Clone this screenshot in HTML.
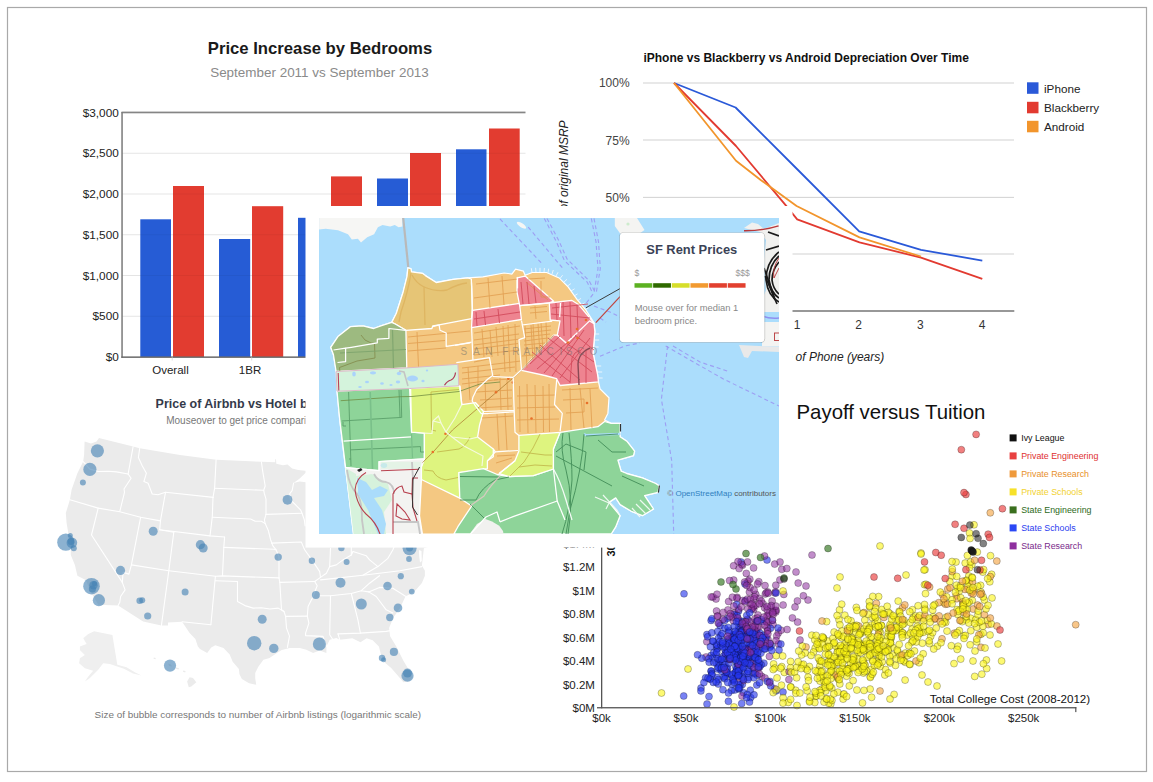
<!DOCTYPE html>
<html><head><meta charset="utf-8"><title>Charts</title>
<style>html,body{margin:0;padding:0;background:#fff;}body{width:1153px;height:782px;overflow:hidden;font-family:"Liberation Sans",sans-serif;}svg{display:block;}</style></head>
<body>
<svg width="1153" height="782" viewBox="0 0 1153 782">
<rect width="1153" height="782" fill="#fff"/>
<rect x="7.5" y="7.5" width="1139" height="764" fill="#fff" stroke="#a9a9a9" stroke-width="1.2"/>
<g id="bar"><text x="320" y="54.4" text-anchor="middle" font-family="Liberation Sans, sans-serif" font-size="16.7" font-weight="bold" fill="#1a1a1a">Price Increase by Bedrooms</text>
<text x="319.5" y="77" text-anchor="middle" font-family="Liberation Sans, sans-serif" font-size="13.45" fill="#8a8a8a">September 2011 vs September 2013</text>
<rect x="122" y="152.75" width="403.5" height="1" fill="#efefef"/>
<rect x="122" y="193.50" width="403.5" height="1" fill="#efefef"/>
<rect x="122" y="234.25" width="403.5" height="1" fill="#efefef"/>
<rect x="122" y="275.00" width="403.5" height="1" fill="#efefef"/>
<rect x="122" y="315.75" width="403.5" height="1" fill="#efefef"/>
<rect x="140.3" y="219.3" width="30.7" height="137.7" fill="#265cd5"/>
<rect x="173.0" y="186.0" width="31.0" height="171.0" fill="#e23c30"/>
<rect x="219.0" y="239.0" width="31.2" height="118.0" fill="#265cd5"/>
<rect x="252.0" y="206.2" width="31.2" height="150.8" fill="#e23c30"/>
<rect x="298.0" y="217.8" width="31.0" height="139.2" fill="#265cd5"/>
<rect x="331.0" y="176.4" width="31.0" height="180.6" fill="#e23c30"/>
<rect x="377.0" y="178.5" width="31.0" height="178.5" fill="#265cd5"/>
<rect x="410.0" y="153.0" width="31.0" height="204.0" fill="#e23c30"/>
<rect x="456.0" y="149.3" width="30.5" height="207.7" fill="#265cd5"/>
<rect x="489.0" y="128.5" width="30.7" height="228.5" fill="#e23c30"/>
<rect x="122" y="152.75" width="403.5" height="1" fill="#000" opacity="0.045"/>
<rect x="122" y="193.50" width="403.5" height="1" fill="#000" opacity="0.045"/>
<rect x="122" y="234.25" width="403.5" height="1" fill="#000" opacity="0.045"/>
<rect x="122" y="275.00" width="403.5" height="1" fill="#000" opacity="0.045"/>
<rect x="122" y="315.75" width="403.5" height="1" fill="#000" opacity="0.045"/>
<rect x="121.5" y="111.6" width="404" height="1.7" fill="#858585"/>
<rect x="121.3" y="112" width="1.5" height="245.8" fill="#7a7a7a"/>
<rect x="121.3" y="356.4" width="404" height="1.5" fill="#6a6a6a"/>
<text x="118.8" y="116.7" text-anchor="end" font-family="Liberation Sans, sans-serif" font-size="11.8" fill="#222">$3,000</text>
<text x="118.8" y="157.4" text-anchor="end" font-family="Liberation Sans, sans-serif" font-size="11.8" fill="#222">$2,500</text>
<text x="118.8" y="198.2" text-anchor="end" font-family="Liberation Sans, sans-serif" font-size="11.8" fill="#222">$2,000</text>
<text x="118.8" y="238.9" text-anchor="end" font-family="Liberation Sans, sans-serif" font-size="11.8" fill="#222">$1,500</text>
<text x="118.8" y="279.7" text-anchor="end" font-family="Liberation Sans, sans-serif" font-size="11.8" fill="#222">$1,000</text>
<text x="118.8" y="320.4" text-anchor="end" font-family="Liberation Sans, sans-serif" font-size="11.8" fill="#222">$500</text>
<text x="118.8" y="361.2" text-anchor="end" font-family="Liberation Sans, sans-serif" font-size="11.8" fill="#222">$0</text>
<text x="170.5" y="374" text-anchor="middle" font-family="Liberation Sans, sans-serif" font-size="11.5" fill="#222">Overall</text>
<rect x="171.7" y="357.5" width="1" height="3" fill="#ddd"/>
<text x="250" y="374" text-anchor="middle" font-family="Liberation Sans, sans-serif" font-size="11.5" fill="#222">1BR</text>
<rect x="251.2" y="357.5" width="1" height="3" fill="#ddd"/>
<text x="330" y="374" text-anchor="middle" font-family="Liberation Sans, sans-serif" font-size="11.5" fill="#222">2BR</text>
<rect x="331.2" y="357.5" width="1" height="3" fill="#ddd"/>
<text x="409" y="374" text-anchor="middle" font-family="Liberation Sans, sans-serif" font-size="11.5" fill="#222">3BR</text>
<rect x="410.2" y="357.5" width="1" height="3" fill="#ddd"/>
<text x="488" y="374" text-anchor="middle" font-family="Liberation Sans, sans-serif" font-size="11.5" fill="#222">4BR</text>
<rect x="489.2" y="357.5" width="1" height="3" fill="#ddd"/></g>
<g id="line"><text x="643.4" y="62" font-family="Liberation Sans, sans-serif" font-size="12" font-weight="bold" fill="#111">iPhone vs Blackberry vs Android Depreciation Over Time</text>
<rect x="643" y="82.45" width="371" height="1.1" fill="#d6d6d6"/>
<rect x="643" y="139.45" width="371" height="1.1" fill="#d6d6d6"/>
<rect x="643" y="196.85" width="371" height="1.1" fill="#d6d6d6"/>
<rect x="643" y="253.45" width="371" height="1.1" fill="#d6d6d6"/>
<rect x="643" y="310.4" width="371.3" height="1.2" fill="#555"/>
<text x="629.6" y="87.3" text-anchor="end" font-family="Liberation Sans, sans-serif" font-size="12" fill="#444">100%</text>
<text x="629.6" y="144.7" text-anchor="end" font-family="Liberation Sans, sans-serif" font-size="12" fill="#444">75%</text>
<text x="629.6" y="201.7" text-anchor="end" font-family="Liberation Sans, sans-serif" font-size="12" fill="#444">50%</text>
<text x="629.6" y="258.7" text-anchor="end" font-family="Liberation Sans, sans-serif" font-size="12" fill="#444">25%</text>
<text x="629.6" y="315.3" text-anchor="end" font-family="Liberation Sans, sans-serif" font-size="12" fill="#444">0%</text>
<polyline points="674,83 735.6,107.5 797,169 859.2,231.3 921,249.8 982.3,260.6" fill="none" stroke="#2a59d8" stroke-width="1.8" stroke-linejoin="round"/>
<polyline points="674,83 736,146 785.6,205.2 797.2,219.4 859.5,242.4 921,257.6 982.3,278.8" fill="none" stroke="#e23a30" stroke-width="1.8" stroke-linejoin="round"/>
<polyline points="674,83 736,160.8 760.7,180 796.6,206 859.5,237.4 921,256.5" fill="none" stroke="#f2952c" stroke-width="1.8" stroke-linejoin="round"/>
<text x="735.5" y="328.8" text-anchor="middle" font-family="Liberation Sans, sans-serif" font-size="12" fill="#333">0</text>
<text x="797" y="328.8" text-anchor="middle" font-family="Liberation Sans, sans-serif" font-size="12" fill="#333">1</text>
<text x="858.6" y="328.8" text-anchor="middle" font-family="Liberation Sans, sans-serif" font-size="12" fill="#333">2</text>
<text x="920.4" y="328.8" text-anchor="middle" font-family="Liberation Sans, sans-serif" font-size="12" fill="#333">3</text>
<text x="982" y="328.8" text-anchor="middle" font-family="Liberation Sans, sans-serif" font-size="12" fill="#333">4</text>
<text x="884.3" y="361.3" text-anchor="end" font-family="Liberation Sans, sans-serif" font-size="12" font-style="italic" fill="#222">Age of Phone (years)</text>
<text transform="translate(568.3,120.4) rotate(-90)" text-anchor="end" font-family="Liberation Sans, sans-serif" font-size="12" font-style="italic" fill="#222">Percentage of original MSRP</text>
<rect x="1027" y="82.3" width="11.5" height="11.5" fill="#2a59d8"/>
<text x="1044" y="92.6" font-family="Liberation Sans, sans-serif" font-size="11.7" fill="#222">iPhone</text>
<rect x="1027" y="101.8" width="11.5" height="11.5" fill="#e23a30"/>
<text x="1044" y="112.1" font-family="Liberation Sans, sans-serif" font-size="11.7" fill="#222">Blackberry</text>
<rect x="1027" y="120.8" width="11.5" height="11.5" fill="#f2952c"/>
<text x="1044" y="131.1" font-family="Liberation Sans, sans-serif" font-size="11.7" fill="#222">Android</text></g>
<g id="us"><text x="155.6" y="408.2" font-family="Liberation Sans, sans-serif" font-size="12.48" font-weight="bold" fill="#343a4a">Price of Airbnb vs Hotel by City</text>
<text x="166.2" y="423.8" font-family="Liberation Sans, sans-serif" font-size="10" fill="#777">Mouseover to get price comparison</text>
<polygon points="84.6,441.6 91,443.6 96.5,441.5 99,438 99.9,438.3 133.1,446.6 139.7,448.3 180,455 216.2,459.8 261.4,461.8 275.2,462.2 275.2,459.2 276,459.2 276.3,463.8 282.9,465.3 287.5,464.6 292.1,468.4 298.2,469.9 305.1,470.7 330,470 450,470 450,540 423.9,548.2 421.9,565.6 424.9,570.7 424.9,575.8 421.9,583 416.7,589.1 412.7,593.2 405.5,596.3 400.4,607.5 393.2,617.8 389.1,628 390.1,636.2 396.3,646.4 403.4,660.8 409.6,671 412.7,677.1 409.6,681.2 403.4,682.2 397.3,675.1 391.2,667.9 385,662.8 380.9,654.6 378.9,646.4 372.7,640.3 366.6,638.2 360.5,642.3 352.3,638.2 346.3,638.9 339.7,639.7 336.3,638 329.7,639.7 326.4,646.4 326.4,653 319.7,650.5 313.1,653 306.4,649.7 299.8,648 289.8,648 281.8,649.9 277.7,652.5 269.5,658.1 263.4,659.7 258.3,666.8 255.2,672.9 255.2,678.1 256.2,684.7 249.1,683.2 241.9,679.1 239.4,674 238.9,668.9 232.7,661.7 229.7,654.5 223.5,647.9 215.3,645.3 211.2,647.4 207.2,653 200,648.9 197.9,646.4 195.4,638.9 189.6,633.1 182.1,621.8 168,622.6 168,625.6 161.4,625.6 143.1,621.4 118.1,605.6 98.2,604.8 91.5,593.2 85.7,579.9 77.4,575.7 74.9,564.9 70.8,555 70.8,543 68.3,533 66.6,523 65.8,513.1 69.9,499.8 71.6,489.8 77.4,473.2 83.2,461.6 84.1,454.9" fill="#ebebeb"/>
<polygon points="94.1,631.3 112.4,634.9 117.3,664.8 126.5,667.3 134.8,672.3 141.4,675.6 133,673.5 124,668.8 117.3,666.5 109.9,664 103.2,663.2 98.2,669.8 89.9,678.1 84.9,681.5 88.3,676.5 93.2,670.7 84.9,668.2 79.1,663.2 79.9,658.2 84.9,654.9 79.9,649.9 79.9,646.6 86.6,644.1 83.3,638.3 88.3,634.1" fill="#efefef"/>
<polygon points="189.6,677.3 193,678.1 196.3,682.3 191.3,686.5 188.8,687.3 187.1,681.5" fill="#ebebeb"/>
<polygon points="183.2,670.4 185.6,671 185.2,672.4 183,671.8" fill="#ebebeb"/>
<polygon points="153.8,657.6 155.8,658 155.4,659.2 153.6,658.8" fill="#ebebeb"/>
<polygon points="168,663.5 171,664.5 172,666.5 169,666" fill="#ebebeb"/>
<polygon points="176,667.5 179,668.2 178.5,669.4 176,668.8" fill="#ebebeb"/>
<polygon points="306,472.5 299.7,478.4 293.6,483 299.7,481.4 306,482.2" fill="#fff"/>
<polygon points="419,550 421.5,551 421.8,561 420,562.5 419.2,556" fill="#fff"/>
<g fill="none" stroke="#fff" stroke-width="1.1" stroke-linejoin="round" stroke-linecap="round">
<polyline points="133.1,446.6 128.1,474"/>
<polyline points="83.2,461.6 89.9,469.1 98.2,471.5 108.2,471.2 116.5,471.9 128.1,474"/>
<polyline points="128.1,474 131.1,478.2 124,489 124.5,492.3 119.8,511.4"/>
<polyline points="139.7,448.3 138.4,457.4 142.2,465.7 146.4,473.2 143.9,481.5 148.1,483.2 152.2,494 158,494.8 165.5,492.3"/>
<polyline points="165.5,492.3 160.5,520.6"/>
<polyline points="165.5,492.3 213.4,497.4"/>
<polyline points="216.1,459.6 214.6,488.3 213,497.5 212.3,516.7 210,535.9"/>
<polyline points="69.9,499.8 98.2,508.1 119.8,511.8 140.6,517.3 160.5,520.9"/>
<polyline points="98.2,508.1 91.5,535 122.3,582.4"/>
<polyline points="140.6,517.3 131.4,564.9"/>
<polyline points="160.5,520.6 159.7,529.7 173.8,532.2"/>
<polyline points="173.8,532.2 168.8,570.7"/>
<polyline points="159.7,529.7 210,535.9 224.6,537"/>
<polyline points="214.6,488.3 263.7,490.3"/>
<polyline points="212.3,517.2 250.6,519 255.2,521.3 261.4,521.3 265.2,523.6"/>
<polyline points="224.6,537 223.8,547.4 222.5,575.7"/>
<polyline points="223.8,547.4 273.7,549.3 276,549.7"/>
<polyline points="131.4,564.9 128.9,574.1 123.1,572.4 122.3,582.4"/>
<polyline points="122.3,582.4 125.1,589.9 120.6,596.5 119.8,602.3 118.1,605.6"/>
<polyline points="131.4,564.9 168.8,570.7"/>
<polyline points="168.8,570.7 161.4,625.6"/>
<polyline points="168.8,570.7 215.4,576.2 222.5,575.9 279,577.9"/>
<polyline points="215.4,576.2 210.9,624.8"/>
<polyline points="182.1,621.8 210.9,624.8"/>
<polyline points="215.4,580.7 237.5,581.5 237.5,601.5 244.9,605.6 253.2,608.1 261.5,607.8 269.9,609 278.2,608.1 284,611.5"/>
<polyline points="261.4,461.8 262.6,470.7 265.2,486 263.7,490.3 264.4,493.7 266,499.1 266,514.4"/>
<polyline points="266,514.4 264.4,519.8 265.2,523.6 268.3,530.5 270.6,539.7 272.9,545.9 276,549.7 279,556.6 279,577.9"/>
<polyline points="266,514.4 302,513.3"/>
<polyline points="293.6,483 292.1,490.6 289.8,493.7 290.5,499.8 295.1,504.4 300.5,509.8 302,513.3 304.3,519.8 305.1,525.9"/>
<polyline points="271.4,543.1 301.3,542 303.6,547.4 304.8,550 313.1,561.6 319.7,571.6 320.5,577.4 314.7,581.5"/>
<polyline points="279,577.9 279.8,582.4 281.5,609.8 284,611.5 285.6,616.4 286.5,628.1 289.5,636.1 287.4,647.4"/>
<polyline points="279.8,582.4 314.7,581.5"/>
<polyline points="285.6,616.4 307.3,616.1"/>
<polyline points="314.7,581.5 317.2,585.7 312.2,598.2 308.1,606.5 307.3,616.1 308.9,623.1 305.6,633.1 305.6,635.6 323,636.4 326.4,646.4"/>
<polyline points="320.5,579.9 362.9,575.2 400,570.7 421.9,566.6"/>
<polyline points="319.7,595.7 330.5,595.7 351.3,593.5 361.3,590.7 368.7,591.9"/>
<polyline points="361.3,590.7 369.6,583.2 379.5,575.7"/>
<polyline points="330.5,595.7 329.7,634.7 333,639.7"/>
<polyline points="351.3,593.5 357.9,619.8 360.4,633.1"/>
<polyline points="338,633.9 360.4,633.1 386.2,631.4 390.4,630.6"/>
<polyline points="338,633.9 339.7,639.7"/>
<polyline points="368.7,591.9 376.2,596.5 386.2,609.8 392.8,613.1"/>
<polyline points="368.7,591.9 379.5,587.4 392.8,588.2 405.5,596.3"/>
<polyline points="320.5,577.4 326.4,573.2 329.7,566.6 336.3,564.9 343,559.9 351.3,555 353,551.6"/>
<polyline points="330.5,548.3 329.7,566.6"/>
<polyline points="351.3,547 351.3,555"/>
<polyline points="353,551.6 366.3,555.8 369.6,559.9 377.9,566.6 387.9,558.3 392.8,550 394,547"/>
<polyline points="362.9,575.2 377.9,566.6"/>
</g>
<g fill="#4682b4" fill-opacity="0.62">
<circle cx="97.4" cy="450.8" r="6.6"/>
<circle cx="89.9" cy="469.4" r="6.6"/>
<circle cx="82.9" cy="482.4" r="3"/>
<circle cx="65.8" cy="542.2" r="8.6"/>
<circle cx="71.9" cy="542.7" r="5.3"/>
<circle cx="70.3" cy="535.5" r="2.5"/>
<circle cx="73.8" cy="548.3" r="3"/>
<circle cx="71" cy="541.5" r="3.4"/>
<circle cx="153.2" cy="531.2" r="4.5"/>
<circle cx="200.4" cy="544.7" r="4.6"/>
<circle cx="203.2" cy="548" r="4.5"/>
<circle cx="120.5" cy="570.4" r="4.6"/>
<circle cx="91.5" cy="586.2" r="8.3"/>
<circle cx="93.5" cy="585.2" r="4.2"/>
<circle cx="92.4" cy="589" r="3.6"/>
<circle cx="94.5" cy="583.5" r="2.6"/>
<circle cx="98.9" cy="600.2" r="6.1"/>
<circle cx="139.7" cy="600.7" r="3.3"/>
<circle cx="142.2" cy="600.2" r="3"/>
<circle cx="147.7" cy="616" r="3.6"/>
<circle cx="185.1" cy="592" r="3.5"/>
<circle cx="170" cy="665.6" r="6.1"/>
<circle cx="287.5" cy="499.8" r="4.9"/>
<circle cx="278.2" cy="557.1" r="3.7"/>
<circle cx="311.9" cy="560.8" r="3.2"/>
<circle cx="346.6" cy="561.9" r="3"/>
<circle cx="340.5" cy="582.8" r="5"/>
<circle cx="315.9" cy="595" r="4"/>
<circle cx="361.3" cy="604" r="5.5"/>
<circle cx="387.5" cy="586" r="4.3"/>
<circle cx="400.8" cy="576.2" r="3.1"/>
<circle cx="411.8" cy="591.6" r="2.9"/>
<circle cx="389.8" cy="617.5" r="3.7"/>
<circle cx="398" cy="607.9" r="4.3"/>
<circle cx="262.2" cy="619.3" r="4.5"/>
<circle cx="254.2" cy="643.2" r="7.2"/>
<circle cx="273.8" cy="648.4" r="4.7"/>
<circle cx="319.4" cy="644" r="6.6"/>
<circle cx="382" cy="658" r="3.2"/>
<circle cx="383.6" cy="659.8" r="2.5"/>
<circle cx="393.9" cy="651.9" r="4.1"/>
<circle cx="407.5" cy="673" r="4.5"/>
<circle cx="407.5" cy="675.7" r="6.1"/>
<circle cx="409" cy="559" r="2.9"/>
<circle cx="409.6" cy="548.2" r="7"/>
<circle cx="409.6" cy="547.8" r="3.6"/>
<circle cx="341.4" cy="548.1" r="3.2"/>
</g>
<text x="94.6" y="718" font-family="Liberation Sans, sans-serif" font-size="9.95" fill="#777">Size of bubble corresponds to number of Airbnb listings (logarithmic scale)</text></g>
<g id="scatter"><text x="796.5" y="419.4" font-family="Liberation Sans, sans-serif" font-size="20.4" fill="#111">Payoff versus Tuition</text>
<g stroke="#000" stroke-opacity="0.42" stroke-width="0.6">
<circle cx="738.0" cy="635.3" r="3.5" fill="#2536ee" fill-opacity="0.62"/>
<circle cx="753.8" cy="661.7" r="3.5" fill="#2536ee" fill-opacity="0.62"/>
<circle cx="783.0" cy="692.0" r="3.5" fill="#2536ee" fill-opacity="0.62"/>
<circle cx="867.9" cy="645.1" r="3.5" fill="#fbf514" fill-opacity="0.6"/>
<circle cx="738.7" cy="639.1" r="3.5" fill="#8e2f9e" fill-opacity="0.55"/>
<circle cx="734.9" cy="689.9" r="3.5" fill="#2536ee" fill-opacity="0.62"/>
<circle cx="973.1" cy="609.1" r="3.5" fill="#f4a340" fill-opacity="0.62"/>
<circle cx="888.2" cy="632.9" r="3.5" fill="#fbf514" fill-opacity="0.6"/>
<circle cx="862.2" cy="645.6" r="3.5" fill="#fbf514" fill-opacity="0.6"/>
<circle cx="849.8" cy="628.6" r="3.5" fill="#fbf514" fill-opacity="0.6"/>
<circle cx="965.4" cy="609.1" r="3.5" fill="#fbf514" fill-opacity="0.6"/>
<circle cx="843.8" cy="646.0" r="3.5" fill="#fbf514" fill-opacity="0.6"/>
<circle cx="754.8" cy="651.2" r="3.5" fill="#2536ee" fill-opacity="0.62"/>
<circle cx="899.7" cy="628.7" r="3.5" fill="#fbf514" fill-opacity="0.6"/>
<circle cx="736.4" cy="670.2" r="3.5" fill="#2536ee" fill-opacity="0.62"/>
<circle cx="752.1" cy="650.1" r="3.5" fill="#2536ee" fill-opacity="0.62"/>
<circle cx="745.5" cy="657.9" r="3.5" fill="#2536ee" fill-opacity="0.62"/>
<circle cx="749.4" cy="592.0" r="3.5" fill="#8e2f9e" fill-opacity="0.55"/>
<circle cx="727.6" cy="618.2" r="3.5" fill="#2536ee" fill-opacity="0.62"/>
<circle cx="884.8" cy="675.0" r="3.5" fill="#fbf514" fill-opacity="0.6"/>
<circle cx="728.3" cy="638.8" r="3.5" fill="#2536ee" fill-opacity="0.62"/>
<circle cx="837.4" cy="677.9" r="3.5" fill="#fbf514" fill-opacity="0.6"/>
<circle cx="923.5" cy="618.3" r="3.5" fill="#f4a340" fill-opacity="0.62"/>
<circle cx="759.7" cy="649.2" r="3.5" fill="#2536ee" fill-opacity="0.62"/>
<circle cx="731.5" cy="637.8" r="3.5" fill="#2536ee" fill-opacity="0.62"/>
<circle cx="808.1" cy="677.1" r="3.5" fill="#fbf514" fill-opacity="0.6"/>
<circle cx="775.8" cy="612.0" r="3.5" fill="#8e2f9e" fill-opacity="0.55"/>
<circle cx="724.6" cy="620.4" r="3.5" fill="#2536ee" fill-opacity="0.62"/>
<circle cx="719.0" cy="622.9" r="3.5" fill="#2536ee" fill-opacity="0.62"/>
<circle cx="859.6" cy="666.1" r="3.5" fill="#fbf514" fill-opacity="0.6"/>
<circle cx="827.7" cy="641.0" r="3.5" fill="#fbf514" fill-opacity="0.6"/>
<circle cx="980.6" cy="585.3" r="3.5" fill="#fbf514" fill-opacity="0.6"/>
<circle cx="959.3" cy="591.1" r="3.5" fill="#fbf514" fill-opacity="0.6"/>
<circle cx="947.8" cy="589.0" r="3.5" fill="#f4a340" fill-opacity="0.62"/>
<circle cx="828.9" cy="654.2" r="3.5" fill="#fbf514" fill-opacity="0.6"/>
<circle cx="735.6" cy="644.5" r="3.5" fill="#2536ee" fill-opacity="0.62"/>
<circle cx="709.0" cy="696.5" r="3.5" fill="#2536ee" fill-opacity="0.62"/>
<circle cx="778.4" cy="643.8" r="3.5" fill="#8e2f9e" fill-opacity="0.55"/>
<circle cx="820.3" cy="660.9" r="3.5" fill="#fbf514" fill-opacity="0.6"/>
<circle cx="746.4" cy="627.4" r="3.5" fill="#8e2f9e" fill-opacity="0.55"/>
<circle cx="1001.6" cy="661.0" r="3.5" fill="#fbf514" fill-opacity="0.6"/>
<circle cx="861.3" cy="643.9" r="3.5" fill="#fbf514" fill-opacity="0.6"/>
<circle cx="942.6" cy="594.6" r="3.5" fill="#f4a340" fill-opacity="0.62"/>
<circle cx="756.2" cy="621.5" r="3.5" fill="#2536ee" fill-opacity="0.62"/>
<circle cx="831.1" cy="675.1" r="3.5" fill="#fbf514" fill-opacity="0.6"/>
<circle cx="720.4" cy="669.1" r="3.5" fill="#2536ee" fill-opacity="0.62"/>
<circle cx="924.5" cy="584.7" r="3.5" fill="#fbf514" fill-opacity="0.6"/>
<circle cx="757.7" cy="656.2" r="3.5" fill="#2536ee" fill-opacity="0.62"/>
<circle cx="720.3" cy="668.7" r="3.5" fill="#2536ee" fill-opacity="0.62"/>
<circle cx="750.7" cy="697.6" r="3.5" fill="#2536ee" fill-opacity="0.62"/>
<circle cx="957.7" cy="588.0" r="3.5" fill="#fbf514" fill-opacity="0.6"/>
<circle cx="756.5" cy="636.2" r="3.5" fill="#2536ee" fill-opacity="0.62"/>
<circle cx="963.9" cy="635.7" r="3.5" fill="#fbf514" fill-opacity="0.6"/>
<circle cx="716.0" cy="599.0" r="3.5" fill="#8e2f9e" fill-opacity="0.55"/>
<circle cx="742.5" cy="565.2" r="3.5" fill="#8e2f9e" fill-opacity="0.55"/>
<circle cx="954.3" cy="633.2" r="3.5" fill="#f4a340" fill-opacity="0.62"/>
<circle cx="741.0" cy="562.0" r="3.5" fill="#2536ee" fill-opacity="0.62"/>
<circle cx="818.6" cy="642.5" r="3.5" fill="#fbf514" fill-opacity="0.6"/>
<circle cx="735.1" cy="650.2" r="3.5" fill="#2536ee" fill-opacity="0.62"/>
<circle cx="880.3" cy="632.2" r="3.5" fill="#fbf514" fill-opacity="0.6"/>
<circle cx="824.6" cy="685.2" r="3.5" fill="#fbf514" fill-opacity="0.6"/>
<circle cx="749.2" cy="647.7" r="3.5" fill="#2536ee" fill-opacity="0.62"/>
<circle cx="849.7" cy="631.2" r="3.5" fill="#fbf514" fill-opacity="0.6"/>
<circle cx="956.3" cy="595.8" r="3.5" fill="#f4a340" fill-opacity="0.62"/>
<circle cx="898.6" cy="628.6" r="3.5" fill="#fbf514" fill-opacity="0.6"/>
<circle cx="731.3" cy="650.8" r="3.5" fill="#8e2f9e" fill-opacity="0.55"/>
<circle cx="768.6" cy="622.8" r="3.5" fill="#8e2f9e" fill-opacity="0.55"/>
<circle cx="990.5" cy="555.7" r="3.5" fill="#fbf514" fill-opacity="0.6"/>
<circle cx="758.2" cy="666.5" r="3.5" fill="#2536ee" fill-opacity="0.62"/>
<circle cx="743.3" cy="632.6" r="3.5" fill="#8e2f9e" fill-opacity="0.55"/>
<circle cx="752.5" cy="633.8" r="3.5" fill="#2536ee" fill-opacity="0.62"/>
<circle cx="711.2" cy="671.3" r="3.5" fill="#2536ee" fill-opacity="0.62"/>
<circle cx="748.1" cy="659.5" r="3.5" fill="#2536ee" fill-opacity="0.62"/>
<circle cx="890.0" cy="613.7" r="3.5" fill="#fbf514" fill-opacity="0.6"/>
<circle cx="975.0" cy="651.0" r="3.5" fill="#fbf514" fill-opacity="0.6"/>
<circle cx="838.2" cy="662.6" r="3.5" fill="#fbf514" fill-opacity="0.6"/>
<circle cx="878.6" cy="663.0" r="3.5" fill="#fbf514" fill-opacity="0.6"/>
<circle cx="855.8" cy="632.4" r="3.5" fill="#fbf514" fill-opacity="0.6"/>
<circle cx="943.7" cy="602.5" r="3.5" fill="#fbf514" fill-opacity="0.6"/>
<circle cx="930.7" cy="636.4" r="3.5" fill="#fbf514" fill-opacity="0.6"/>
<circle cx="774.9" cy="592.9" r="3.5" fill="#8e2f9e" fill-opacity="0.55"/>
<circle cx="881.7" cy="613.2" r="3.5" fill="#fbf514" fill-opacity="0.6"/>
<circle cx="743.1" cy="652.3" r="3.5" fill="#2536ee" fill-opacity="0.62"/>
<circle cx="898.2" cy="601.1" r="3.5" fill="#fbf514" fill-opacity="0.6"/>
<circle cx="893.6" cy="630.2" r="3.5" fill="#fbf514" fill-opacity="0.6"/>
<circle cx="750.2" cy="603.9" r="3.5" fill="#8e2f9e" fill-opacity="0.55"/>
<circle cx="982.8" cy="572.1" r="3.5" fill="#fbf514" fill-opacity="0.6"/>
<circle cx="957.8" cy="614.5" r="3.5" fill="#fbf514" fill-opacity="0.6"/>
<circle cx="732.8" cy="637.8" r="3.5" fill="#2536ee" fill-opacity="0.62"/>
<circle cx="963.6" cy="612.5" r="3.5" fill="#f4a340" fill-opacity="0.62"/>
<circle cx="783.1" cy="697.8" r="3.5" fill="#fbf514" fill-opacity="0.6"/>
<circle cx="826.6" cy="621.6" r="3.5" fill="#fbf514" fill-opacity="0.6"/>
<circle cx="756.2" cy="630.6" r="3.5" fill="#2536ee" fill-opacity="0.62"/>
<circle cx="768.2" cy="615.1" r="3.5" fill="#8e2f9e" fill-opacity="0.55"/>
<circle cx="879.0" cy="630.8" r="3.5" fill="#fbf514" fill-opacity="0.6"/>
<circle cx="907.2" cy="635.1" r="3.5" fill="#fbf514" fill-opacity="0.6"/>
<circle cx="823.5" cy="638.0" r="3.5" fill="#fbf514" fill-opacity="0.6"/>
<circle cx="932.6" cy="632.6" r="3.5" fill="#fbf514" fill-opacity="0.6"/>
<circle cx="970.8" cy="618.3" r="3.5" fill="#fbf514" fill-opacity="0.6"/>
<circle cx="747.5" cy="583.5" r="3.5" fill="#f4a340" fill-opacity="0.62"/>
<circle cx="945.7" cy="622.4" r="3.5" fill="#fbf514" fill-opacity="0.6"/>
<circle cx="968.8" cy="576.0" r="3.5" fill="#fbf514" fill-opacity="0.6"/>
<circle cx="748.1" cy="620.0" r="3.5" fill="#2536ee" fill-opacity="0.62"/>
<circle cx="876.3" cy="661.0" r="3.5" fill="#fbf514" fill-opacity="0.6"/>
<circle cx="973.0" cy="661.0" r="3.5" fill="#fbf514" fill-opacity="0.6"/>
<circle cx="806.0" cy="647.0" r="3.5" fill="#f4a340" fill-opacity="0.62"/>
<circle cx="778.3" cy="632.9" r="3.5" fill="#8e2f9e" fill-opacity="0.55"/>
<circle cx="741.6" cy="652.5" r="3.5" fill="#2536ee" fill-opacity="0.62"/>
<circle cx="711.1" cy="670.9" r="3.5" fill="#2536ee" fill-opacity="0.62"/>
<circle cx="772.4" cy="620.4" r="3.5" fill="#2536ee" fill-opacity="0.62"/>
<circle cx="956.4" cy="585.2" r="3.5" fill="#fbf514" fill-opacity="0.6"/>
<circle cx="761.0" cy="653.1" r="3.5" fill="#2536ee" fill-opacity="0.62"/>
<circle cx="739.8" cy="655.7" r="3.5" fill="#2536ee" fill-opacity="0.62"/>
<circle cx="807.2" cy="690.8" r="3.5" fill="#fbf514" fill-opacity="0.6"/>
<circle cx="831.9" cy="669.1" r="3.5" fill="#fbf514" fill-opacity="0.6"/>
<circle cx="720.7" cy="635.5" r="3.5" fill="#2536ee" fill-opacity="0.62"/>
<circle cx="920.8" cy="632.8" r="3.5" fill="#fbf514" fill-opacity="0.6"/>
<circle cx="713.3" cy="641.4" r="3.5" fill="#2536ee" fill-opacity="0.62"/>
<circle cx="767.7" cy="630.2" r="3.5" fill="#8e2f9e" fill-opacity="0.55"/>
<circle cx="775.8" cy="585.2" r="3.5" fill="#8e2f9e" fill-opacity="0.55"/>
<circle cx="872.1" cy="617.5" r="3.5" fill="#fbf514" fill-opacity="0.6"/>
<circle cx="711.0" cy="655.5" r="3.5" fill="#2536ee" fill-opacity="0.62"/>
<circle cx="870.4" cy="637.7" r="3.5" fill="#fbf514" fill-opacity="0.6"/>
<circle cx="947.0" cy="631.1" r="3.5" fill="#fbf514" fill-opacity="0.6"/>
<circle cx="717.0" cy="677.5" r="3.5" fill="#2536ee" fill-opacity="0.62"/>
<circle cx="888.5" cy="628.7" r="3.5" fill="#fbf514" fill-opacity="0.6"/>
<circle cx="913.3" cy="617.7" r="3.5" fill="#fbf514" fill-opacity="0.6"/>
<circle cx="880.3" cy="666.5" r="3.5" fill="#fbf514" fill-opacity="0.6"/>
<circle cx="841.7" cy="637.8" r="3.5" fill="#fbf514" fill-opacity="0.6"/>
<circle cx="945.4" cy="604.2" r="3.5" fill="#f4a340" fill-opacity="0.62"/>
<circle cx="921.0" cy="553.0" r="3.5" fill="#fbf514" fill-opacity="0.6"/>
<circle cx="856.9" cy="690.0" r="3.5" fill="#fbf514" fill-opacity="0.6"/>
<circle cx="701.0" cy="688.0" r="3.5" fill="#2536ee" fill-opacity="0.62"/>
<circle cx="743.0" cy="655.5" r="3.5" fill="#2536ee" fill-opacity="0.62"/>
<circle cx="747.5" cy="561.9" r="3.5" fill="#8e2f9e" fill-opacity="0.55"/>
<circle cx="878.4" cy="649.2" r="3.5" fill="#fbf514" fill-opacity="0.6"/>
<circle cx="820.0" cy="681.1" r="3.5" fill="#fbf514" fill-opacity="0.6"/>
<circle cx="879.0" cy="655.9" r="3.5" fill="#fbf514" fill-opacity="0.6"/>
<circle cx="929.5" cy="643.6" r="3.5" fill="#fbf514" fill-opacity="0.6"/>
<circle cx="731.7" cy="647.9" r="3.5" fill="#2536ee" fill-opacity="0.62"/>
<circle cx="946.1" cy="617.3" r="3.5" fill="#fbf514" fill-opacity="0.6"/>
<circle cx="775.9" cy="690.9" r="3.5" fill="#2536ee" fill-opacity="0.62"/>
<circle cx="771.2" cy="645.8" r="3.5" fill="#2536ee" fill-opacity="0.62"/>
<circle cx="871.6" cy="697.3" r="3.5" fill="#fbf514" fill-opacity="0.6"/>
<circle cx="845.7" cy="659.8" r="3.5" fill="#fbf514" fill-opacity="0.6"/>
<circle cx="754.9" cy="650.5" r="3.5" fill="#2536ee" fill-opacity="0.62"/>
<circle cx="872.7" cy="653.3" r="3.5" fill="#fbf514" fill-opacity="0.6"/>
<circle cx="769.3" cy="613.5" r="3.5" fill="#8e2f9e" fill-opacity="0.55"/>
<circle cx="754.8" cy="633.7" r="3.5" fill="#2536ee" fill-opacity="0.62"/>
<circle cx="743.8" cy="655.2" r="3.5" fill="#2536ee" fill-opacity="0.62"/>
<circle cx="975.7" cy="619.6" r="3.5" fill="#fbf514" fill-opacity="0.6"/>
<circle cx="871.0" cy="669.5" r="3.5" fill="#fbf514" fill-opacity="0.6"/>
<circle cx="775.2" cy="610.6" r="3.5" fill="#8e2f9e" fill-opacity="0.55"/>
<circle cx="705.6" cy="677.8" r="3.5" fill="#2536ee" fill-opacity="0.62"/>
<circle cx="855.5" cy="666.2" r="3.5" fill="#fbf514" fill-opacity="0.6"/>
<circle cx="844.8" cy="643.9" r="3.5" fill="#fbf514" fill-opacity="0.6"/>
<circle cx="763.0" cy="603.7" r="3.5" fill="#8e2f9e" fill-opacity="0.55"/>
<circle cx="977.9" cy="614.7" r="3.5" fill="#fbf514" fill-opacity="0.6"/>
<circle cx="892.7" cy="655.1" r="3.5" fill="#fbf514" fill-opacity="0.6"/>
<circle cx="843.4" cy="694.4" r="3.5" fill="#fbf514" fill-opacity="0.6"/>
<circle cx="830.8" cy="703.9" r="3.5" fill="#fbf514" fill-opacity="0.6"/>
<circle cx="819.0" cy="647.7" r="3.5" fill="#fbf514" fill-opacity="0.6"/>
<circle cx="726.8" cy="652.8" r="3.5" fill="#2536ee" fill-opacity="0.62"/>
<circle cx="828.7" cy="703.3" r="3.5" fill="#fbf514" fill-opacity="0.6"/>
<circle cx="959.8" cy="609.8" r="3.5" fill="#fbf514" fill-opacity="0.6"/>
<circle cx="856.3" cy="607.4" r="3.5" fill="#fbf514" fill-opacity="0.6"/>
<circle cx="829.8" cy="672.2" r="3.5" fill="#fbf514" fill-opacity="0.6"/>
<circle cx="838.3" cy="649.0" r="3.5" fill="#fbf514" fill-opacity="0.6"/>
<circle cx="822.8" cy="676.3" r="3.5" fill="#fbf514" fill-opacity="0.6"/>
<circle cx="915.2" cy="638.4" r="3.5" fill="#fbf514" fill-opacity="0.6"/>
<circle cx="755.7" cy="594.3" r="3.5" fill="#8e2f9e" fill-opacity="0.55"/>
<circle cx="719.7" cy="660.1" r="3.5" fill="#2536ee" fill-opacity="0.62"/>
<circle cx="852.7" cy="640.1" r="3.5" fill="#fbf514" fill-opacity="0.6"/>
<circle cx="757.1" cy="633.9" r="3.5" fill="#2536ee" fill-opacity="0.62"/>
<circle cx="970.8" cy="630.7" r="3.5" fill="#fbf514" fill-opacity="0.6"/>
<circle cx="808.0" cy="600.0" r="3.5" fill="#8e2f9e" fill-opacity="0.55"/>
<circle cx="956.9" cy="598.7" r="3.5" fill="#f4a340" fill-opacity="0.62"/>
<circle cx="736.5" cy="658.0" r="3.5" fill="#2536ee" fill-opacity="0.62"/>
<circle cx="841.0" cy="648.6" r="3.5" fill="#fbf514" fill-opacity="0.6"/>
<circle cx="843.1" cy="699.1" r="3.5" fill="#fbf514" fill-opacity="0.6"/>
<circle cx="801.7" cy="664.8" r="3.5" fill="#fbf514" fill-opacity="0.6"/>
<circle cx="867.1" cy="643.4" r="3.5" fill="#fbf514" fill-opacity="0.6"/>
<circle cx="740.5" cy="644.3" r="3.5" fill="#2536ee" fill-opacity="0.62"/>
<circle cx="912.1" cy="629.1" r="3.5" fill="#fbf514" fill-opacity="0.6"/>
<circle cx="784.3" cy="672.4" r="3.5" fill="#fbf514" fill-opacity="0.6"/>
<circle cx="753.1" cy="643.0" r="3.5" fill="#2536ee" fill-opacity="0.62"/>
<circle cx="871.1" cy="644.2" r="3.5" fill="#fbf514" fill-opacity="0.6"/>
<circle cx="988.3" cy="624.5" r="3.5" fill="#f4a340" fill-opacity="0.62"/>
<circle cx="750.1" cy="587.6" r="3.5" fill="#8e2f9e" fill-opacity="0.55"/>
<circle cx="911.6" cy="642.3" r="3.5" fill="#fbf514" fill-opacity="0.6"/>
<circle cx="706.0" cy="657.0" r="3.5" fill="#8e2f9e" fill-opacity="0.55"/>
<circle cx="884.6" cy="648.7" r="3.5" fill="#fbf514" fill-opacity="0.6"/>
<circle cx="724.9" cy="664.4" r="3.5" fill="#2536ee" fill-opacity="0.62"/>
<circle cx="825.7" cy="691.1" r="3.5" fill="#fbf514" fill-opacity="0.6"/>
<circle cx="878.3" cy="634.2" r="3.5" fill="#f4a340" fill-opacity="0.62"/>
<circle cx="976.8" cy="627.2" r="3.5" fill="#fbf514" fill-opacity="0.6"/>
<circle cx="879.7" cy="638.2" r="3.5" fill="#fbf514" fill-opacity="0.6"/>
<circle cx="763.9" cy="663.2" r="3.5" fill="#2536ee" fill-opacity="0.62"/>
<circle cx="864.5" cy="650.5" r="3.5" fill="#fbf514" fill-opacity="0.6"/>
<circle cx="732.5" cy="657.8" r="3.5" fill="#2536ee" fill-opacity="0.62"/>
<circle cx="840.6" cy="657.9" r="3.5" fill="#fbf514" fill-opacity="0.6"/>
<circle cx="683.7" cy="696.0" r="3.5" fill="#2536ee" fill-opacity="0.62"/>
<circle cx="773.6" cy="663.9" r="3.5" fill="#fbf514" fill-opacity="0.6"/>
<circle cx="750.0" cy="656.9" r="3.5" fill="#2536ee" fill-opacity="0.62"/>
<circle cx="835.1" cy="658.3" r="3.5" fill="#fbf514" fill-opacity="0.6"/>
<circle cx="811.8" cy="635.2" r="3.5" fill="#fbf514" fill-opacity="0.6"/>
<circle cx="815.8" cy="696.2" r="3.5" fill="#fbf514" fill-opacity="0.6"/>
<circle cx="716.5" cy="663.4" r="3.5" fill="#2536ee" fill-opacity="0.62"/>
<circle cx="757.5" cy="644.6" r="3.5" fill="#8e2f9e" fill-opacity="0.55"/>
<circle cx="859.0" cy="650.6" r="3.5" fill="#fbf514" fill-opacity="0.6"/>
<circle cx="738.0" cy="645.0" r="3.5" fill="#2536ee" fill-opacity="0.62"/>
<circle cx="922.0" cy="675.0" r="3.5" fill="#fbf514" fill-opacity="0.6"/>
<circle cx="746.3" cy="573.4" r="3.5" fill="#8e2f9e" fill-opacity="0.55"/>
<circle cx="965.2" cy="563.1" r="3.5" fill="#fbf514" fill-opacity="0.6"/>
<circle cx="851.9" cy="638.8" r="3.5" fill="#fbf514" fill-opacity="0.6"/>
<circle cx="809.6" cy="700.9" r="3.5" fill="#fbf514" fill-opacity="0.6"/>
<circle cx="746.1" cy="635.0" r="3.5" fill="#2536ee" fill-opacity="0.62"/>
<circle cx="869.2" cy="650.2" r="3.5" fill="#fbf514" fill-opacity="0.6"/>
<circle cx="952.0" cy="576.0" r="3.5" fill="#fbf514" fill-opacity="0.6"/>
<circle cx="828.8" cy="661.5" r="3.5" fill="#fbf514" fill-opacity="0.6"/>
<circle cx="822.0" cy="621.0" r="3.5" fill="#f4a340" fill-opacity="0.62"/>
<circle cx="738.8" cy="647.7" r="3.5" fill="#2536ee" fill-opacity="0.62"/>
<circle cx="789.1" cy="671.6" r="3.5" fill="#8e2f9e" fill-opacity="0.55"/>
<circle cx="951.3" cy="645.7" r="3.5" fill="#fbf514" fill-opacity="0.6"/>
<circle cx="827.5" cy="647.8" r="3.5" fill="#fbf514" fill-opacity="0.6"/>
<circle cx="739.0" cy="636.1" r="3.5" fill="#2536ee" fill-opacity="0.62"/>
<circle cx="966.3" cy="619.8" r="3.5" fill="#fbf514" fill-opacity="0.6"/>
<circle cx="753.2" cy="656.4" r="3.5" fill="#2536ee" fill-opacity="0.62"/>
<circle cx="969.3" cy="582.3" r="3.5" fill="#fbf514" fill-opacity="0.6"/>
<circle cx="966.0" cy="616.5" r="3.5" fill="#fbf514" fill-opacity="0.6"/>
<circle cx="919.3" cy="631.4" r="3.5" fill="#fbf514" fill-opacity="0.6"/>
<circle cx="817.6" cy="641.9" r="3.5" fill="#fbf514" fill-opacity="0.6"/>
<circle cx="797.6" cy="622.1" r="3.5" fill="#8e2f9e" fill-opacity="0.55"/>
<circle cx="739.6" cy="673.8" r="3.5" fill="#2536ee" fill-opacity="0.62"/>
<circle cx="924.8" cy="608.5" r="3.5" fill="#fbf514" fill-opacity="0.6"/>
<circle cx="743.7" cy="664.0" r="3.5" fill="#2536ee" fill-opacity="0.62"/>
<circle cx="815.2" cy="648.1" r="3.5" fill="#fbf514" fill-opacity="0.6"/>
<circle cx="783.8" cy="594.4" r="3.5" fill="#8e2f9e" fill-opacity="0.55"/>
<circle cx="759.1" cy="627.0" r="3.5" fill="#8e2f9e" fill-opacity="0.55"/>
<circle cx="956.0" cy="562.0" r="3.5" fill="#fbf514" fill-opacity="0.6"/>
<circle cx="868.8" cy="643.8" r="3.5" fill="#fbf514" fill-opacity="0.6"/>
<circle cx="738.4" cy="681.1" r="3.5" fill="#8e2f9e" fill-opacity="0.55"/>
<circle cx="738.2" cy="659.6" r="3.5" fill="#2536ee" fill-opacity="0.62"/>
<circle cx="848.0" cy="637.1" r="3.5" fill="#fbf514" fill-opacity="0.6"/>
<circle cx="722.9" cy="663.0" r="3.5" fill="#2536ee" fill-opacity="0.62"/>
<circle cx="753.7" cy="609.4" r="3.5" fill="#8e2f9e" fill-opacity="0.55"/>
<circle cx="950.0" cy="587.7" r="3.5" fill="#f4a340" fill-opacity="0.62"/>
<circle cx="744.6" cy="633.9" r="3.5" fill="#2536ee" fill-opacity="0.62"/>
<circle cx="864.1" cy="646.3" r="3.5" fill="#fbf514" fill-opacity="0.6"/>
<circle cx="819.9" cy="665.9" r="3.5" fill="#fbf514" fill-opacity="0.6"/>
<circle cx="821.7" cy="689.2" r="3.5" fill="#fbf514" fill-opacity="0.6"/>
<circle cx="905.2" cy="662.3" r="3.5" fill="#fbf514" fill-opacity="0.6"/>
<circle cx="944.2" cy="621.7" r="3.5" fill="#fbf514" fill-opacity="0.6"/>
<circle cx="960.8" cy="620.3" r="3.5" fill="#fbf514" fill-opacity="0.6"/>
<circle cx="716.8" cy="648.9" r="3.5" fill="#2536ee" fill-opacity="0.62"/>
<circle cx="861.5" cy="646.5" r="3.5" fill="#fbf514" fill-opacity="0.6"/>
<circle cx="937.0" cy="686.0" r="3.5" fill="#fbf514" fill-opacity="0.6"/>
<circle cx="774.7" cy="688.8" r="3.5" fill="#8e2f9e" fill-opacity="0.55"/>
<circle cx="780.0" cy="562.0" r="3.5" fill="#8e2f9e" fill-opacity="0.55"/>
<circle cx="752.7" cy="673.3" r="3.5" fill="#2536ee" fill-opacity="0.62"/>
<circle cx="747.1" cy="645.2" r="3.5" fill="#2536ee" fill-opacity="0.62"/>
<circle cx="730.9" cy="645.8" r="3.5" fill="#2536ee" fill-opacity="0.62"/>
<circle cx="876.8" cy="646.8" r="3.5" fill="#fbf514" fill-opacity="0.6"/>
<circle cx="902.4" cy="657.7" r="3.5" fill="#fbf514" fill-opacity="0.6"/>
<circle cx="871.2" cy="625.1" r="3.5" fill="#fbf514" fill-opacity="0.6"/>
<circle cx="739.0" cy="663.3" r="3.5" fill="#2536ee" fill-opacity="0.62"/>
<circle cx="731.4" cy="656.6" r="3.5" fill="#2536ee" fill-opacity="0.62"/>
<circle cx="726.4" cy="658.4" r="3.5" fill="#2536ee" fill-opacity="0.62"/>
<circle cx="858.5" cy="642.6" r="3.5" fill="#fbf514" fill-opacity="0.6"/>
<circle cx="747.1" cy="619.5" r="3.5" fill="#8e2f9e" fill-opacity="0.55"/>
<circle cx="869.6" cy="606.9" r="3.5" fill="#fbf514" fill-opacity="0.6"/>
<circle cx="905.3" cy="653.1" r="3.5" fill="#fbf514" fill-opacity="0.6"/>
<circle cx="747.5" cy="652.4" r="3.5" fill="#2536ee" fill-opacity="0.62"/>
<circle cx="853.1" cy="639.8" r="3.5" fill="#fbf514" fill-opacity="0.6"/>
<circle cx="721.8" cy="671.5" r="3.5" fill="#2536ee" fill-opacity="0.62"/>
<circle cx="718.4" cy="638.3" r="3.5" fill="#2536ee" fill-opacity="0.62"/>
<circle cx="737.6" cy="659.0" r="3.5" fill="#2536ee" fill-opacity="0.62"/>
<circle cx="701.8" cy="658.2" r="3.5" fill="#2536ee" fill-opacity="0.62"/>
<circle cx="775.5" cy="591.8" r="3.5" fill="#8e2f9e" fill-opacity="0.55"/>
<circle cx="932.7" cy="610.1" r="3.5" fill="#fbf514" fill-opacity="0.6"/>
<circle cx="937.4" cy="646.2" r="3.5" fill="#fbf514" fill-opacity="0.6"/>
<circle cx="790.5" cy="667.7" r="3.5" fill="#fbf514" fill-opacity="0.6"/>
<circle cx="893.5" cy="630.9" r="3.5" fill="#fbf514" fill-opacity="0.6"/>
<circle cx="899.2" cy="611.3" r="3.5" fill="#fbf514" fill-opacity="0.6"/>
<circle cx="819.5" cy="648.7" r="3.5" fill="#fbf514" fill-opacity="0.6"/>
<circle cx="864.2" cy="631.7" r="3.5" fill="#fbf514" fill-opacity="0.6"/>
<circle cx="723.1" cy="656.6" r="3.5" fill="#2536ee" fill-opacity="0.62"/>
<circle cx="987.2" cy="620.2" r="3.5" fill="#fbf514" fill-opacity="0.6"/>
<circle cx="753.2" cy="625.4" r="3.5" fill="#8e2f9e" fill-opacity="0.55"/>
<circle cx="897.8" cy="651.5" r="3.5" fill="#fbf514" fill-opacity="0.6"/>
<circle cx="909.4" cy="653.5" r="3.5" fill="#fbf514" fill-opacity="0.6"/>
<circle cx="738.6" cy="610.9" r="3.5" fill="#2536ee" fill-opacity="0.62"/>
<circle cx="896.1" cy="630.5" r="3.5" fill="#fbf514" fill-opacity="0.6"/>
<circle cx="838.3" cy="660.8" r="3.5" fill="#fbf514" fill-opacity="0.6"/>
<circle cx="980.8" cy="634.4" r="3.5" fill="#fbf514" fill-opacity="0.6"/>
<circle cx="712.7" cy="657.8" r="3.5" fill="#2536ee" fill-opacity="0.62"/>
<circle cx="967.8" cy="589.0" r="3.5" fill="#f4a340" fill-opacity="0.62"/>
<circle cx="960.8" cy="597.8" r="3.5" fill="#fbf514" fill-opacity="0.6"/>
<circle cx="757.4" cy="627.4" r="3.5" fill="#8e2f9e" fill-opacity="0.55"/>
<circle cx="735.8" cy="666.8" r="3.5" fill="#2536ee" fill-opacity="0.62"/>
<circle cx="955.4" cy="592.3" r="3.5" fill="#fbf514" fill-opacity="0.6"/>
<circle cx="916.9" cy="619.8" r="3.5" fill="#fbf514" fill-opacity="0.6"/>
<circle cx="895.5" cy="665.4" r="3.5" fill="#fbf514" fill-opacity="0.6"/>
<circle cx="736.1" cy="653.3" r="3.5" fill="#2536ee" fill-opacity="0.62"/>
<circle cx="924.5" cy="604.5" r="3.5" fill="#fbf514" fill-opacity="0.6"/>
<circle cx="984.4" cy="600.0" r="3.5" fill="#fbf514" fill-opacity="0.6"/>
<circle cx="838.6" cy="679.5" r="3.5" fill="#fbf514" fill-opacity="0.6"/>
<circle cx="901.4" cy="658.3" r="3.5" fill="#fbf514" fill-opacity="0.6"/>
<circle cx="733.6" cy="650.4" r="3.5" fill="#2536ee" fill-opacity="0.62"/>
<circle cx="904.1" cy="623.5" r="3.5" fill="#fbf514" fill-opacity="0.6"/>
<circle cx="753.1" cy="668.7" r="3.5" fill="#2536ee" fill-opacity="0.62"/>
<circle cx="805.3" cy="652.9" r="3.5" fill="#fbf514" fill-opacity="0.6"/>
<circle cx="832.8" cy="638.4" r="3.5" fill="#fbf514" fill-opacity="0.6"/>
<circle cx="986.7" cy="668.5" r="3.5" fill="#fbf514" fill-opacity="0.6"/>
<circle cx="737.6" cy="655.3" r="3.5" fill="#2536ee" fill-opacity="0.62"/>
<circle cx="776.2" cy="655.7" r="3.5" fill="#fbf514" fill-opacity="0.6"/>
<circle cx="776.4" cy="689.6" r="3.5" fill="#fbf514" fill-opacity="0.6"/>
<circle cx="970.1" cy="644.8" r="3.5" fill="#fbf514" fill-opacity="0.6"/>
<circle cx="894.1" cy="694.4" r="3.5" fill="#fbf514" fill-opacity="0.6"/>
<circle cx="812.0" cy="555.0" r="3.5" fill="#8e2f9e" fill-opacity="0.55"/>
<circle cx="839.9" cy="672.7" r="3.5" fill="#fbf514" fill-opacity="0.6"/>
<circle cx="733.3" cy="635.0" r="3.5" fill="#2536ee" fill-opacity="0.62"/>
<circle cx="912.9" cy="636.9" r="3.5" fill="#fbf514" fill-opacity="0.6"/>
<circle cx="952.0" cy="561.5" r="3.5" fill="#fbf514" fill-opacity="0.6"/>
<circle cx="813.5" cy="652.0" r="3.5" fill="#fbf514" fill-opacity="0.6"/>
<circle cx="755.1" cy="674.0" r="3.5" fill="#8e2f9e" fill-opacity="0.55"/>
<circle cx="791.2" cy="672.3" r="3.5" fill="#fbf514" fill-opacity="0.6"/>
<circle cx="738.9" cy="629.2" r="3.5" fill="#2536ee" fill-opacity="0.62"/>
<circle cx="972.3" cy="600.3" r="3.5" fill="#fbf514" fill-opacity="0.6"/>
<circle cx="824.0" cy="702.1" r="3.5" fill="#fbf514" fill-opacity="0.6"/>
<circle cx="972.3" cy="590.6" r="3.5" fill="#f4a340" fill-opacity="0.62"/>
<circle cx="761.6" cy="676.3" r="3.5" fill="#8e2f9e" fill-opacity="0.55"/>
<circle cx="841.0" cy="660.3" r="3.5" fill="#fbf514" fill-opacity="0.6"/>
<circle cx="860.3" cy="644.9" r="3.5" fill="#fbf514" fill-opacity="0.6"/>
<circle cx="743.5" cy="692.7" r="3.5" fill="#2536ee" fill-opacity="0.62"/>
<circle cx="989.8" cy="581.8" r="3.5" fill="#fbf514" fill-opacity="0.6"/>
<circle cx="872.6" cy="660.2" r="3.5" fill="#fbf514" fill-opacity="0.6"/>
<circle cx="870.1" cy="689.1" r="3.5" fill="#fbf514" fill-opacity="0.6"/>
<circle cx="776.7" cy="635.9" r="3.5" fill="#8e2f9e" fill-opacity="0.55"/>
<circle cx="741.9" cy="664.6" r="3.5" fill="#2536ee" fill-opacity="0.62"/>
<circle cx="761.2" cy="664.7" r="3.5" fill="#2536ee" fill-opacity="0.62"/>
<circle cx="794.6" cy="672.2" r="3.5" fill="#fbf514" fill-opacity="0.6"/>
<circle cx="764.6" cy="607.8" r="3.5" fill="#8e2f9e" fill-opacity="0.55"/>
<circle cx="750.9" cy="622.1" r="3.5" fill="#8e2f9e" fill-opacity="0.55"/>
<circle cx="879.1" cy="654.9" r="3.5" fill="#fbf514" fill-opacity="0.6"/>
<circle cx="797.0" cy="705.5" r="3.5" fill="#fbf514" fill-opacity="0.6"/>
<circle cx="958.1" cy="646.2" r="3.5" fill="#fbf514" fill-opacity="0.6"/>
<circle cx="727.0" cy="639.7" r="3.5" fill="#2536ee" fill-opacity="0.62"/>
<circle cx="750.3" cy="690.2" r="3.5" fill="#2536ee" fill-opacity="0.62"/>
<circle cx="716.1" cy="654.6" r="3.5" fill="#2536ee" fill-opacity="0.62"/>
<circle cx="768.0" cy="639.6" r="3.5" fill="#8e2f9e" fill-opacity="0.55"/>
<circle cx="882.2" cy="661.9" r="3.5" fill="#fbf514" fill-opacity="0.6"/>
<circle cx="757.1" cy="641.6" r="3.5" fill="#2536ee" fill-opacity="0.62"/>
<circle cx="757.7" cy="659.4" r="3.5" fill="#2536ee" fill-opacity="0.62"/>
<circle cx="966.4" cy="580.3" r="3.5" fill="#fbf514" fill-opacity="0.6"/>
<circle cx="727.4" cy="673.7" r="3.5" fill="#2536ee" fill-opacity="0.62"/>
<circle cx="858.1" cy="652.9" r="3.5" fill="#fbf514" fill-opacity="0.6"/>
<circle cx="856.8" cy="665.0" r="3.5" fill="#fbf514" fill-opacity="0.6"/>
<circle cx="879.4" cy="627.5" r="3.5" fill="#fbf514" fill-opacity="0.6"/>
<circle cx="728.2" cy="653.9" r="3.5" fill="#2536ee" fill-opacity="0.62"/>
<circle cx="737.1" cy="597.3" r="3.5" fill="#8e2f9e" fill-opacity="0.55"/>
<circle cx="996.8" cy="561.1" r="3.5" fill="#f4a340" fill-opacity="0.62"/>
<circle cx="743.1" cy="654.8" r="3.5" fill="#2536ee" fill-opacity="0.62"/>
<circle cx="748.8" cy="656.0" r="3.5" fill="#2536ee" fill-opacity="0.62"/>
<circle cx="823.0" cy="675.8" r="3.5" fill="#fbf514" fill-opacity="0.6"/>
<circle cx="969.1" cy="602.2" r="3.5" fill="#fbf514" fill-opacity="0.6"/>
<circle cx="749.8" cy="579.2" r="3.5" fill="#8e2f9e" fill-opacity="0.55"/>
<circle cx="735.6" cy="658.9" r="3.5" fill="#2536ee" fill-opacity="0.62"/>
<circle cx="776.0" cy="640.5" r="3.5" fill="#8e2f9e" fill-opacity="0.55"/>
<circle cx="738.6" cy="658.6" r="3.5" fill="#2536ee" fill-opacity="0.62"/>
<circle cx="750.8" cy="639.9" r="3.5" fill="#8e2f9e" fill-opacity="0.55"/>
<circle cx="971.8" cy="564.7" r="3.5" fill="#fbf514" fill-opacity="0.6"/>
<circle cx="765.3" cy="594.0" r="3.5" fill="#8e2f9e" fill-opacity="0.55"/>
<circle cx="738.8" cy="626.6" r="3.5" fill="#2536ee" fill-opacity="0.62"/>
<circle cx="968.8" cy="623.0" r="3.5" fill="#fbf514" fill-opacity="0.6"/>
<circle cx="916.4" cy="641.9" r="3.5" fill="#fbf514" fill-opacity="0.6"/>
<circle cx="749.0" cy="652.6" r="3.5" fill="#2536ee" fill-opacity="0.62"/>
<circle cx="747.4" cy="656.6" r="3.5" fill="#2536ee" fill-opacity="0.62"/>
<circle cx="738.5" cy="671.7" r="3.5" fill="#2536ee" fill-opacity="0.62"/>
<circle cx="716.5" cy="611.0" r="3.5" fill="#8e2f9e" fill-opacity="0.55"/>
<circle cx="837.8" cy="651.6" r="3.5" fill="#fbf514" fill-opacity="0.6"/>
<circle cx="740.4" cy="634.1" r="3.5" fill="#2536ee" fill-opacity="0.62"/>
<circle cx="746.6" cy="660.4" r="3.5" fill="#2536ee" fill-opacity="0.62"/>
<circle cx="802.3" cy="646.1" r="3.5" fill="#fbf514" fill-opacity="0.6"/>
<circle cx="845.2" cy="652.6" r="3.5" fill="#fbf514" fill-opacity="0.6"/>
<circle cx="938.7" cy="602.7" r="3.5" fill="#f4a340" fill-opacity="0.62"/>
<circle cx="737.9" cy="618.7" r="3.5" fill="#8e2f9e" fill-opacity="0.55"/>
<circle cx="750.3" cy="633.1" r="3.5" fill="#8e2f9e" fill-opacity="0.55"/>
<circle cx="952.2" cy="571.6" r="3.5" fill="#f4a340" fill-opacity="0.62"/>
<circle cx="890.2" cy="663.0" r="3.5" fill="#fbf514" fill-opacity="0.6"/>
<circle cx="803.4" cy="595.8" r="3.5" fill="#8e2f9e" fill-opacity="0.55"/>
<circle cx="919.0" cy="662.7" r="3.5" fill="#fbf514" fill-opacity="0.6"/>
<circle cx="909.4" cy="653.0" r="3.5" fill="#fbf514" fill-opacity="0.6"/>
<circle cx="732.5" cy="653.7" r="3.5" fill="#2536ee" fill-opacity="0.62"/>
<circle cx="742.6" cy="639.8" r="3.5" fill="#2536ee" fill-opacity="0.62"/>
<circle cx="890.1" cy="628.1" r="3.5" fill="#fbf514" fill-opacity="0.6"/>
<circle cx="713.8" cy="652.5" r="3.5" fill="#2536ee" fill-opacity="0.62"/>
<circle cx="902.6" cy="607.7" r="3.5" fill="#f4a340" fill-opacity="0.62"/>
<circle cx="734.5" cy="612.7" r="3.5" fill="#8e2f9e" fill-opacity="0.55"/>
<circle cx="870.4" cy="676.5" r="3.5" fill="#fbf514" fill-opacity="0.6"/>
<circle cx="871.8" cy="636.8" r="3.5" fill="#fbf514" fill-opacity="0.6"/>
<circle cx="836.9" cy="671.1" r="3.5" fill="#fbf514" fill-opacity="0.6"/>
<circle cx="894.1" cy="617.0" r="3.5" fill="#fbf514" fill-opacity="0.6"/>
<circle cx="814.8" cy="702.5" r="3.5" fill="#fbf514" fill-opacity="0.6"/>
<circle cx="729.4" cy="656.8" r="3.5" fill="#2536ee" fill-opacity="0.62"/>
<circle cx="767.0" cy="615.8" r="3.5" fill="#8e2f9e" fill-opacity="0.55"/>
<circle cx="729.1" cy="663.2" r="3.5" fill="#2536ee" fill-opacity="0.62"/>
<circle cx="756.8" cy="685.1" r="3.5" fill="#2536ee" fill-opacity="0.62"/>
<circle cx="740.5" cy="631.4" r="3.5" fill="#2536ee" fill-opacity="0.62"/>
<circle cx="742.5" cy="662.5" r="3.5" fill="#2536ee" fill-opacity="0.62"/>
<circle cx="742.0" cy="696.0" r="3.5" fill="#8e2f9e" fill-opacity="0.55"/>
<circle cx="741.6" cy="657.5" r="3.5" fill="#2536ee" fill-opacity="0.62"/>
<circle cx="718.8" cy="663.0" r="3.5" fill="#2536ee" fill-opacity="0.62"/>
<circle cx="759.7" cy="666.9" r="3.5" fill="#2536ee" fill-opacity="0.62"/>
<circle cx="733.4" cy="680.3" r="3.5" fill="#2536ee" fill-opacity="0.62"/>
<circle cx="811.1" cy="655.4" r="3.5" fill="#fbf514" fill-opacity="0.6"/>
<circle cx="854.6" cy="628.0" r="3.5" fill="#fbf514" fill-opacity="0.6"/>
<circle cx="960.5" cy="585.7" r="3.5" fill="#fbf514" fill-opacity="0.6"/>
<circle cx="729.0" cy="652.0" r="3.5" fill="#2536ee" fill-opacity="0.62"/>
<circle cx="748.6" cy="677.4" r="3.5" fill="#2536ee" fill-opacity="0.62"/>
<circle cx="732.6" cy="651.3" r="3.5" fill="#2536ee" fill-opacity="0.62"/>
<circle cx="759.2" cy="635.0" r="3.5" fill="#8e2f9e" fill-opacity="0.55"/>
<circle cx="870.3" cy="677.4" r="3.5" fill="#fbf514" fill-opacity="0.6"/>
<circle cx="933.2" cy="616.8" r="3.5" fill="#fbf514" fill-opacity="0.6"/>
<circle cx="874.4" cy="665.4" r="3.5" fill="#fbf514" fill-opacity="0.6"/>
<circle cx="745.2" cy="624.3" r="3.5" fill="#2536ee" fill-opacity="0.62"/>
<circle cx="735.7" cy="634.3" r="3.5" fill="#2536ee" fill-opacity="0.62"/>
<circle cx="849.1" cy="673.4" r="3.5" fill="#fbf514" fill-opacity="0.6"/>
<circle cx="729.1" cy="641.0" r="3.5" fill="#2536ee" fill-opacity="0.62"/>
<circle cx="983.1" cy="632.8" r="3.5" fill="#fbf514" fill-opacity="0.6"/>
<circle cx="796.5" cy="667.4" r="3.5" fill="#fbf514" fill-opacity="0.6"/>
<circle cx="742.2" cy="625.9" r="3.5" fill="#8e2f9e" fill-opacity="0.55"/>
<circle cx="726.8" cy="652.3" r="3.5" fill="#2536ee" fill-opacity="0.62"/>
<circle cx="751.5" cy="637.9" r="3.5" fill="#8e2f9e" fill-opacity="0.55"/>
<circle cx="738.0" cy="665.8" r="3.5" fill="#2536ee" fill-opacity="0.62"/>
<circle cx="765.3" cy="649.0" r="3.5" fill="#2536ee" fill-opacity="0.62"/>
<circle cx="947.4" cy="604.0" r="3.5" fill="#f4a340" fill-opacity="0.62"/>
<circle cx="776.2" cy="610.3" r="3.5" fill="#8e2f9e" fill-opacity="0.55"/>
<circle cx="835.3" cy="645.9" r="3.5" fill="#fbf514" fill-opacity="0.6"/>
<circle cx="734.1" cy="614.5" r="3.5" fill="#2536ee" fill-opacity="0.62"/>
<circle cx="755.7" cy="658.2" r="3.5" fill="#2536ee" fill-opacity="0.62"/>
<circle cx="711.1" cy="620.4" r="3.5" fill="#2536ee" fill-opacity="0.62"/>
<circle cx="837.8" cy="692.2" r="3.5" fill="#fbf514" fill-opacity="0.6"/>
<circle cx="855.2" cy="643.4" r="3.5" fill="#fbf514" fill-opacity="0.6"/>
<circle cx="752.6" cy="608.2" r="3.5" fill="#8e2f9e" fill-opacity="0.55"/>
<circle cx="781.7" cy="666.6" r="3.5" fill="#fbf514" fill-opacity="0.6"/>
<circle cx="795.0" cy="607.0" r="3.5" fill="#8e2f9e" fill-opacity="0.55"/>
<circle cx="910.1" cy="622.5" r="3.5" fill="#fbf514" fill-opacity="0.6"/>
<circle cx="751.6" cy="629.0" r="3.5" fill="#2536ee" fill-opacity="0.62"/>
<circle cx="761.2" cy="644.1" r="3.5" fill="#2536ee" fill-opacity="0.62"/>
<circle cx="925.5" cy="593.6" r="3.5" fill="#fbf514" fill-opacity="0.6"/>
<circle cx="740.5" cy="659.8" r="3.5" fill="#2536ee" fill-opacity="0.62"/>
<circle cx="722.9" cy="619.4" r="3.5" fill="#8e2f9e" fill-opacity="0.55"/>
<circle cx="879.5" cy="652.6" r="3.5" fill="#fbf514" fill-opacity="0.6"/>
<circle cx="760.1" cy="633.3" r="3.5" fill="#2536ee" fill-opacity="0.62"/>
<circle cx="735.7" cy="674.2" r="3.5" fill="#2536ee" fill-opacity="0.62"/>
<circle cx="728.4" cy="701.3" r="3.5" fill="#2536ee" fill-opacity="0.62"/>
<circle cx="827.3" cy="646.4" r="3.5" fill="#fbf514" fill-opacity="0.6"/>
<circle cx="923.5" cy="632.2" r="3.5" fill="#fbf514" fill-opacity="0.6"/>
<circle cx="730.1" cy="656.0" r="3.5" fill="#2536ee" fill-opacity="0.62"/>
<circle cx="717.8" cy="616.1" r="3.5" fill="#8e2f9e" fill-opacity="0.55"/>
<circle cx="735.9" cy="672.0" r="3.5" fill="#2536ee" fill-opacity="0.62"/>
<circle cx="709.9" cy="678.8" r="3.5" fill="#2536ee" fill-opacity="0.62"/>
<circle cx="896.4" cy="658.7" r="3.5" fill="#fbf514" fill-opacity="0.6"/>
<circle cx="981.0" cy="647.3" r="3.5" fill="#f4a340" fill-opacity="0.62"/>
<circle cx="754.7" cy="630.2" r="3.5" fill="#8e2f9e" fill-opacity="0.55"/>
<circle cx="711.9" cy="673.6" r="3.5" fill="#2536ee" fill-opacity="0.62"/>
<circle cx="831.9" cy="700.4" r="3.5" fill="#fbf514" fill-opacity="0.6"/>
<circle cx="976.7" cy="641.8" r="3.5" fill="#fbf514" fill-opacity="0.6"/>
<circle cx="738.9" cy="689.1" r="3.5" fill="#2536ee" fill-opacity="0.62"/>
<circle cx="972.5" cy="582.0" r="3.5" fill="#f4a340" fill-opacity="0.62"/>
<circle cx="755.4" cy="637.2" r="3.5" fill="#2536ee" fill-opacity="0.62"/>
<circle cx="765.9" cy="620.9" r="3.5" fill="#8e2f9e" fill-opacity="0.55"/>
<circle cx="957.2" cy="649.4" r="3.5" fill="#fbf514" fill-opacity="0.6"/>
<circle cx="742.4" cy="624.4" r="3.5" fill="#2536ee" fill-opacity="0.62"/>
<circle cx="741.2" cy="624.3" r="3.5" fill="#2536ee" fill-opacity="0.62"/>
<circle cx="980.9" cy="591.9" r="3.5" fill="#fbf514" fill-opacity="0.6"/>
<circle cx="711.9" cy="675.1" r="3.5" fill="#2536ee" fill-opacity="0.62"/>
<circle cx="967.5" cy="603.2" r="3.5" fill="#fbf514" fill-opacity="0.6"/>
<circle cx="921.0" cy="554.0" r="3.5" fill="#fbf514" fill-opacity="0.6"/>
<circle cx="706.9" cy="634.5" r="3.5" fill="#2536ee" fill-opacity="0.62"/>
<circle cx="725.6" cy="653.5" r="3.5" fill="#8e2f9e" fill-opacity="0.55"/>
<circle cx="900.3" cy="655.5" r="3.5" fill="#fbf514" fill-opacity="0.6"/>
<circle cx="819.6" cy="690.4" r="3.5" fill="#fbf514" fill-opacity="0.6"/>
<circle cx="867.9" cy="629.3" r="3.5" fill="#fbf514" fill-opacity="0.6"/>
<circle cx="757.3" cy="675.3" r="3.5" fill="#2536ee" fill-opacity="0.62"/>
<circle cx="726.3" cy="671.9" r="3.5" fill="#2536ee" fill-opacity="0.62"/>
<circle cx="740.2" cy="668.8" r="3.5" fill="#2536ee" fill-opacity="0.62"/>
<circle cx="732.8" cy="680.0" r="3.5" fill="#2536ee" fill-opacity="0.62"/>
<circle cx="991.6" cy="574.3" r="3.5" fill="#fbf514" fill-opacity="0.6"/>
<circle cx="910.4" cy="633.1" r="3.5" fill="#fbf514" fill-opacity="0.6"/>
<circle cx="824.1" cy="681.0" r="3.5" fill="#fbf514" fill-opacity="0.6"/>
<circle cx="848.1" cy="639.8" r="3.5" fill="#fbf514" fill-opacity="0.6"/>
<circle cx="750.3" cy="647.4" r="3.5" fill="#2536ee" fill-opacity="0.62"/>
<circle cx="849.8" cy="649.1" r="3.5" fill="#fbf514" fill-opacity="0.6"/>
<circle cx="783.0" cy="591.0" r="3.5" fill="#fbf514" fill-opacity="0.6"/>
<circle cx="864.7" cy="645.2" r="3.5" fill="#fbf514" fill-opacity="0.6"/>
<circle cx="881.6" cy="609.5" r="3.5" fill="#fbf514" fill-opacity="0.6"/>
<circle cx="823.2" cy="638.8" r="3.5" fill="#fbf514" fill-opacity="0.6"/>
<circle cx="991.4" cy="623.9" r="3.5" fill="#fbf514" fill-opacity="0.6"/>
<circle cx="872.2" cy="674.2" r="3.5" fill="#fbf514" fill-opacity="0.6"/>
<circle cx="962.2" cy="621.6" r="3.5" fill="#fbf514" fill-opacity="0.6"/>
<circle cx="765.2" cy="637.6" r="3.5" fill="#2536ee" fill-opacity="0.62"/>
<circle cx="764.2" cy="644.9" r="3.5" fill="#2536ee" fill-opacity="0.62"/>
<circle cx="734.1" cy="634.4" r="3.5" fill="#2536ee" fill-opacity="0.62"/>
<circle cx="753.8" cy="677.8" r="3.5" fill="#2536ee" fill-opacity="0.62"/>
<circle cx="849.3" cy="685.9" r="3.5" fill="#fbf514" fill-opacity="0.6"/>
<circle cx="877.4" cy="626.4" r="3.5" fill="#fbf514" fill-opacity="0.6"/>
<circle cx="743.5" cy="655.2" r="3.5" fill="#8e2f9e" fill-opacity="0.55"/>
<circle cx="837.2" cy="652.3" r="3.5" fill="#fbf514" fill-opacity="0.6"/>
<circle cx="844.8" cy="615.2" r="3.5" fill="#fbf514" fill-opacity="0.6"/>
<circle cx="842.4" cy="647.3" r="3.5" fill="#fbf514" fill-opacity="0.6"/>
<circle cx="885.6" cy="669.6" r="3.5" fill="#fbf514" fill-opacity="0.6"/>
<circle cx="919.9" cy="627.7" r="3.5" fill="#fbf514" fill-opacity="0.6"/>
<circle cx="843.7" cy="668.1" r="3.5" fill="#fbf514" fill-opacity="0.6"/>
<circle cx="990.3" cy="512.8" r="3.5" fill="#f4a340" fill-opacity="0.62"/>
<circle cx="755.0" cy="618.8" r="3.5" fill="#8e2f9e" fill-opacity="0.55"/>
<circle cx="854.7" cy="625.6" r="3.5" fill="#fbf514" fill-opacity="0.6"/>
<circle cx="765.0" cy="585.6" r="3.5" fill="#8e2f9e" fill-opacity="0.55"/>
<circle cx="881.6" cy="656.8" r="3.5" fill="#fbf514" fill-opacity="0.6"/>
<circle cx="895.1" cy="627.0" r="3.5" fill="#fbf514" fill-opacity="0.6"/>
<circle cx="722.9" cy="689.7" r="3.5" fill="#2536ee" fill-opacity="0.62"/>
<circle cx="881.5" cy="625.5" r="3.5" fill="#fbf514" fill-opacity="0.6"/>
<circle cx="915.6" cy="616.1" r="3.5" fill="#fbf514" fill-opacity="0.6"/>
<circle cx="759.5" cy="598.5" r="3.5" fill="#8e2f9e" fill-opacity="0.55"/>
<circle cx="826.2" cy="698.7" r="3.5" fill="#fbf514" fill-opacity="0.6"/>
<circle cx="912.2" cy="619.4" r="3.5" fill="#fbf514" fill-opacity="0.6"/>
<circle cx="733.0" cy="636.8" r="3.5" fill="#2536ee" fill-opacity="0.62"/>
<circle cx="748.0" cy="581.1" r="3.5" fill="#8e2f9e" fill-opacity="0.55"/>
<circle cx="809.4" cy="666.5" r="3.5" fill="#fbf514" fill-opacity="0.6"/>
<circle cx="725.3" cy="653.6" r="3.5" fill="#2536ee" fill-opacity="0.62"/>
<circle cx="806.1" cy="668.8" r="3.5" fill="#fbf514" fill-opacity="0.6"/>
<circle cx="881.4" cy="625.4" r="3.5" fill="#fbf514" fill-opacity="0.6"/>
<circle cx="720.1" cy="625.7" r="3.5" fill="#2536ee" fill-opacity="0.62"/>
<circle cx="746.1" cy="648.7" r="3.5" fill="#8e2f9e" fill-opacity="0.55"/>
<circle cx="780.6" cy="668.2" r="3.5" fill="#fbf514" fill-opacity="0.6"/>
<circle cx="965.4" cy="635.4" r="3.5" fill="#fbf514" fill-opacity="0.6"/>
<circle cx="839.0" cy="619.8" r="3.5" fill="#fbf514" fill-opacity="0.6"/>
<circle cx="742.6" cy="650.9" r="3.5" fill="#2536ee" fill-opacity="0.62"/>
<circle cx="750.1" cy="640.1" r="3.5" fill="#8e2f9e" fill-opacity="0.55"/>
<circle cx="745.2" cy="600.7" r="3.5" fill="#2536ee" fill-opacity="0.62"/>
<circle cx="729.0" cy="643.6" r="3.5" fill="#2536ee" fill-opacity="0.62"/>
<circle cx="737.3" cy="658.5" r="3.5" fill="#2536ee" fill-opacity="0.62"/>
<circle cx="752.7" cy="637.7" r="3.5" fill="#8e2f9e" fill-opacity="0.55"/>
<circle cx="863.5" cy="673.0" r="3.5" fill="#fbf514" fill-opacity="0.6"/>
<circle cx="859.3" cy="670.3" r="3.5" fill="#fbf514" fill-opacity="0.6"/>
<circle cx="717.7" cy="669.0" r="3.5" fill="#2536ee" fill-opacity="0.62"/>
<circle cx="959.3" cy="630.6" r="3.5" fill="#fbf514" fill-opacity="0.6"/>
<circle cx="902.0" cy="655.0" r="3.5" fill="#f4a340" fill-opacity="0.62"/>
<circle cx="742.4" cy="666.6" r="3.5" fill="#2536ee" fill-opacity="0.62"/>
<circle cx="839.5" cy="609.9" r="3.5" fill="#fbf514" fill-opacity="0.6"/>
<circle cx="745.3" cy="643.8" r="3.5" fill="#2536ee" fill-opacity="0.62"/>
<circle cx="841.7" cy="604.2" r="3.5" fill="#fbf514" fill-opacity="0.6"/>
<circle cx="853.1" cy="643.0" r="3.5" fill="#fbf514" fill-opacity="0.6"/>
<circle cx="870.6" cy="654.1" r="3.5" fill="#fbf514" fill-opacity="0.6"/>
<circle cx="754.9" cy="653.8" r="3.5" fill="#2536ee" fill-opacity="0.62"/>
<circle cx="903.6" cy="660.9" r="3.5" fill="#fbf514" fill-opacity="0.6"/>
<circle cx="825.3" cy="687.3" r="3.5" fill="#fbf514" fill-opacity="0.6"/>
<circle cx="888.4" cy="612.3" r="3.5" fill="#fbf514" fill-opacity="0.6"/>
<circle cx="969.5" cy="533.0" r="3.5" fill="#fbf514" fill-opacity="0.6"/>
<circle cx="766.3" cy="636.9" r="3.5" fill="#2536ee" fill-opacity="0.62"/>
<circle cx="858.1" cy="640.4" r="3.5" fill="#fbf514" fill-opacity="0.6"/>
<circle cx="761.2" cy="600.9" r="3.5" fill="#8e2f9e" fill-opacity="0.55"/>
<circle cx="706.8" cy="641.7" r="3.5" fill="#8e2f9e" fill-opacity="0.55"/>
<circle cx="754.1" cy="640.4" r="3.5" fill="#2536ee" fill-opacity="0.62"/>
<circle cx="747.2" cy="636.5" r="3.5" fill="#2536ee" fill-opacity="0.62"/>
<circle cx="737.0" cy="615.5" r="3.5" fill="#2536ee" fill-opacity="0.62"/>
<circle cx="754.8" cy="634.5" r="3.5" fill="#2536ee" fill-opacity="0.62"/>
<circle cx="889.7" cy="656.3" r="3.5" fill="#fbf514" fill-opacity="0.6"/>
<circle cx="885.6" cy="650.0" r="3.5" fill="#fbf514" fill-opacity="0.6"/>
<circle cx="846.6" cy="676.2" r="3.5" fill="#fbf514" fill-opacity="0.6"/>
<circle cx="983.2" cy="596.9" r="3.5" fill="#fbf514" fill-opacity="0.6"/>
<circle cx="745.0" cy="634.6" r="3.5" fill="#2536ee" fill-opacity="0.62"/>
<circle cx="841.8" cy="655.7" r="3.5" fill="#fbf514" fill-opacity="0.6"/>
<circle cx="876.8" cy="649.3" r="3.5" fill="#fbf514" fill-opacity="0.6"/>
<circle cx="918.2" cy="617.5" r="3.5" fill="#f4a340" fill-opacity="0.62"/>
<circle cx="820.0" cy="677.0" r="3.5" fill="#fbf514" fill-opacity="0.6"/>
<circle cx="790.6" cy="661.4" r="3.5" fill="#fbf514" fill-opacity="0.6"/>
<circle cx="739.1" cy="633.9" r="3.5" fill="#8e2f9e" fill-opacity="0.55"/>
<circle cx="869.3" cy="601.6" r="3.5" fill="#fbf514" fill-opacity="0.6"/>
<circle cx="849.2" cy="669.1" r="3.5" fill="#fbf514" fill-opacity="0.6"/>
<circle cx="710.2" cy="679.2" r="3.5" fill="#2536ee" fill-opacity="0.62"/>
<circle cx="738.2" cy="648.8" r="3.5" fill="#8e2f9e" fill-opacity="0.55"/>
<circle cx="899.9" cy="622.5" r="3.5" fill="#fbf514" fill-opacity="0.6"/>
<circle cx="814.8" cy="640.0" r="3.5" fill="#fbf514" fill-opacity="0.6"/>
<circle cx="769.8" cy="647.3" r="3.5" fill="#2536ee" fill-opacity="0.62"/>
<circle cx="863.7" cy="648.7" r="3.5" fill="#fbf514" fill-opacity="0.6"/>
<circle cx="934.5" cy="619.0" r="3.5" fill="#f4a340" fill-opacity="0.62"/>
<circle cx="842.3" cy="671.9" r="3.5" fill="#fbf514" fill-opacity="0.6"/>
<circle cx="758.8" cy="581.7" r="3.5" fill="#8e2f9e" fill-opacity="0.55"/>
<circle cx="818.6" cy="670.3" r="3.5" fill="#fbf514" fill-opacity="0.6"/>
<circle cx="781.8" cy="569.3" r="3.5" fill="#8e2f9e" fill-opacity="0.55"/>
<circle cx="770.8" cy="607.2" r="3.5" fill="#8e2f9e" fill-opacity="0.55"/>
<circle cx="772.7" cy="611.2" r="3.5" fill="#8e2f9e" fill-opacity="0.55"/>
<circle cx="743.3" cy="638.0" r="3.5" fill="#2536ee" fill-opacity="0.62"/>
<circle cx="775.8" cy="606.1" r="3.5" fill="#8e2f9e" fill-opacity="0.55"/>
<circle cx="748.3" cy="669.3" r="3.5" fill="#2536ee" fill-opacity="0.62"/>
<circle cx="860.6" cy="652.8" r="3.5" fill="#fbf514" fill-opacity="0.6"/>
<circle cx="728.6" cy="601.5" r="3.5" fill="#8e2f9e" fill-opacity="0.55"/>
<circle cx="852.5" cy="667.3" r="3.5" fill="#fbf514" fill-opacity="0.6"/>
<circle cx="872.9" cy="661.4" r="3.5" fill="#fbf514" fill-opacity="0.6"/>
<circle cx="758.0" cy="615.0" r="3.5" fill="#8e2f9e" fill-opacity="0.55"/>
<circle cx="852.5" cy="659.5" r="3.5" fill="#fbf514" fill-opacity="0.6"/>
<circle cx="934.7" cy="604.5" r="3.5" fill="#fbf514" fill-opacity="0.6"/>
<circle cx="831.7" cy="688.1" r="3.5" fill="#fbf514" fill-opacity="0.6"/>
<circle cx="762.2" cy="621.4" r="3.5" fill="#2536ee" fill-opacity="0.62"/>
<circle cx="960.7" cy="659.1" r="3.5" fill="#fbf514" fill-opacity="0.6"/>
<circle cx="779.0" cy="650.0" r="3.5" fill="#2536ee" fill-opacity="0.62"/>
<circle cx="779.9" cy="579.9" r="3.5" fill="#8e2f9e" fill-opacity="0.55"/>
<circle cx="745.0" cy="584.0" r="3.5" fill="#2536ee" fill-opacity="0.62"/>
<circle cx="956.7" cy="576.4" r="3.5" fill="#fbf514" fill-opacity="0.6"/>
<circle cx="874.9" cy="623.5" r="3.5" fill="#fbf514" fill-opacity="0.6"/>
<circle cx="851.0" cy="620.8" r="3.5" fill="#fbf514" fill-opacity="0.6"/>
<circle cx="936.2" cy="628.1" r="3.5" fill="#fbf514" fill-opacity="0.6"/>
<circle cx="838.7" cy="635.5" r="3.5" fill="#fbf514" fill-opacity="0.6"/>
<circle cx="890.7" cy="639.3" r="3.5" fill="#fbf514" fill-opacity="0.6"/>
<circle cx="754.9" cy="672.8" r="3.5" fill="#2536ee" fill-opacity="0.62"/>
<circle cx="845.1" cy="653.5" r="3.5" fill="#fbf514" fill-opacity="0.6"/>
<circle cx="881.4" cy="649.7" r="3.5" fill="#fbf514" fill-opacity="0.6"/>
<circle cx="733.7" cy="580.1" r="3.5" fill="#8e2f9e" fill-opacity="0.55"/>
<circle cx="737.9" cy="675.6" r="3.5" fill="#2536ee" fill-opacity="0.62"/>
<circle cx="891.1" cy="637.3" r="3.5" fill="#fbf514" fill-opacity="0.6"/>
<circle cx="864.0" cy="690.4" r="3.5" fill="#fbf514" fill-opacity="0.6"/>
<circle cx="879.2" cy="644.2" r="3.5" fill="#fbf514" fill-opacity="0.6"/>
<circle cx="887.8" cy="636.5" r="3.5" fill="#fbf514" fill-opacity="0.6"/>
<circle cx="754.0" cy="694.8" r="3.5" fill="#2536ee" fill-opacity="0.62"/>
<circle cx="847.6" cy="672.4" r="3.5" fill="#fbf514" fill-opacity="0.6"/>
<circle cx="732.8" cy="652.1" r="3.5" fill="#2536ee" fill-opacity="0.62"/>
<circle cx="718.3" cy="684.1" r="3.5" fill="#2536ee" fill-opacity="0.62"/>
<circle cx="912.4" cy="609.7" r="3.5" fill="#fbf514" fill-opacity="0.6"/>
<circle cx="877.4" cy="620.5" r="3.5" fill="#fbf514" fill-opacity="0.6"/>
<circle cx="876.4" cy="603.4" r="3.5" fill="#f4a340" fill-opacity="0.62"/>
<circle cx="990.0" cy="635.0" r="3.5" fill="#fbf514" fill-opacity="0.6"/>
<circle cx="738.1" cy="672.6" r="3.5" fill="#2536ee" fill-opacity="0.62"/>
<circle cx="880.0" cy="546.0" r="3.5" fill="#fbf514" fill-opacity="0.6"/>
<circle cx="946.6" cy="596.7" r="3.5" fill="#fbf514" fill-opacity="0.6"/>
<circle cx="769.4" cy="656.4" r="3.5" fill="#8e2f9e" fill-opacity="0.55"/>
<circle cx="928.1" cy="631.3" r="3.5" fill="#fbf514" fill-opacity="0.6"/>
<circle cx="727.5" cy="668.5" r="3.5" fill="#2536ee" fill-opacity="0.62"/>
<circle cx="919.7" cy="615.5" r="3.5" fill="#fbf514" fill-opacity="0.6"/>
<circle cx="957.1" cy="609.6" r="3.5" fill="#fbf514" fill-opacity="0.6"/>
<circle cx="756.1" cy="663.6" r="3.5" fill="#2536ee" fill-opacity="0.62"/>
<circle cx="717.6" cy="631.4" r="3.5" fill="#2536ee" fill-opacity="0.62"/>
<circle cx="737.9" cy="671.3" r="3.5" fill="#2536ee" fill-opacity="0.62"/>
<circle cx="860.5" cy="633.8" r="3.5" fill="#fbf514" fill-opacity="0.6"/>
<circle cx="744.0" cy="672.4" r="3.5" fill="#2536ee" fill-opacity="0.62"/>
<circle cx="733.5" cy="620.9" r="3.5" fill="#8e2f9e" fill-opacity="0.55"/>
<circle cx="767.7" cy="591.9" r="3.5" fill="#8e2f9e" fill-opacity="0.55"/>
<circle cx="850.2" cy="668.0" r="3.5" fill="#fbf514" fill-opacity="0.6"/>
<circle cx="822.2" cy="671.0" r="3.5" fill="#fbf514" fill-opacity="0.6"/>
<circle cx="774.7" cy="668.1" r="3.5" fill="#fbf514" fill-opacity="0.6"/>
<circle cx="742.3" cy="684.5" r="3.5" fill="#2536ee" fill-opacity="0.62"/>
<circle cx="923.2" cy="653.8" r="3.5" fill="#fbf514" fill-opacity="0.6"/>
<circle cx="853.2" cy="626.2" r="3.5" fill="#fbf514" fill-opacity="0.6"/>
<circle cx="749.4" cy="648.4" r="3.5" fill="#2536ee" fill-opacity="0.62"/>
<circle cx="892.4" cy="647.3" r="3.5" fill="#fbf514" fill-opacity="0.6"/>
<circle cx="888.3" cy="645.5" r="3.5" fill="#fbf514" fill-opacity="0.6"/>
<circle cx="972.0" cy="577.2" r="3.5" fill="#fbf514" fill-opacity="0.6"/>
<circle cx="816.3" cy="696.0" r="3.5" fill="#fbf514" fill-opacity="0.6"/>
<circle cx="890.4" cy="636.3" r="3.5" fill="#fbf514" fill-opacity="0.6"/>
<circle cx="726.6" cy="669.3" r="3.5" fill="#2536ee" fill-opacity="0.62"/>
<circle cx="734.9" cy="658.7" r="3.5" fill="#2536ee" fill-opacity="0.62"/>
<circle cx="853.3" cy="662.6" r="3.5" fill="#fbf514" fill-opacity="0.6"/>
<circle cx="738.2" cy="645.9" r="3.5" fill="#2536ee" fill-opacity="0.62"/>
<circle cx="896.4" cy="627.4" r="3.5" fill="#fbf514" fill-opacity="0.6"/>
<circle cx="887.8" cy="650.6" r="3.5" fill="#fbf514" fill-opacity="0.6"/>
<circle cx="860.6" cy="631.8" r="3.5" fill="#fbf514" fill-opacity="0.6"/>
<circle cx="840.0" cy="577.0" r="3.5" fill="#fbf514" fill-opacity="0.6"/>
<circle cx="897.3" cy="650.0" r="3.5" fill="#fbf514" fill-opacity="0.6"/>
<circle cx="902.3" cy="621.8" r="3.5" fill="#fbf514" fill-opacity="0.6"/>
<circle cx="724.8" cy="628.3" r="3.5" fill="#2536ee" fill-opacity="0.62"/>
<circle cx="904.8" cy="604.9" r="3.5" fill="#f4a340" fill-opacity="0.62"/>
<circle cx="864.8" cy="620.0" r="3.5" fill="#fbf514" fill-opacity="0.6"/>
<circle cx="861.3" cy="648.4" r="3.5" fill="#fbf514" fill-opacity="0.6"/>
<circle cx="751.0" cy="663.4" r="3.5" fill="#8e2f9e" fill-opacity="0.55"/>
<circle cx="750.6" cy="665.4" r="3.5" fill="#2536ee" fill-opacity="0.62"/>
<circle cx="750.1" cy="643.9" r="3.5" fill="#2536ee" fill-opacity="0.62"/>
<circle cx="712.9" cy="596.9" r="3.5" fill="#8e2f9e" fill-opacity="0.55"/>
<circle cx="878.6" cy="626.3" r="3.5" fill="#fbf514" fill-opacity="0.6"/>
<circle cx="717.6" cy="648.4" r="3.5" fill="#2536ee" fill-opacity="0.62"/>
<circle cx="917.4" cy="626.2" r="3.5" fill="#fbf514" fill-opacity="0.6"/>
<circle cx="747.7" cy="632.5" r="3.5" fill="#2536ee" fill-opacity="0.62"/>
<circle cx="815.9" cy="693.2" r="3.5" fill="#fbf514" fill-opacity="0.6"/>
<circle cx="741.6" cy="564.3" r="3.5" fill="#8e2f9e" fill-opacity="0.55"/>
<circle cx="838.1" cy="660.2" r="3.5" fill="#fbf514" fill-opacity="0.6"/>
<circle cx="718.4" cy="679.6" r="3.5" fill="#2536ee" fill-opacity="0.62"/>
<circle cx="825.2" cy="663.2" r="3.5" fill="#fbf514" fill-opacity="0.6"/>
<circle cx="740.0" cy="684.9" r="3.5" fill="#2536ee" fill-opacity="0.62"/>
<circle cx="952.3" cy="569.0" r="3.5" fill="#fbf514" fill-opacity="0.6"/>
<circle cx="684.0" cy="593.8" r="3.5" fill="#2536ee" fill-opacity="0.62"/>
<circle cx="744.6" cy="582.1" r="3.5" fill="#8e2f9e" fill-opacity="0.55"/>
<circle cx="962.8" cy="601.9" r="3.5" fill="#f4a340" fill-opacity="0.62"/>
<circle cx="850.9" cy="643.5" r="3.5" fill="#fbf514" fill-opacity="0.6"/>
<circle cx="880.9" cy="637.8" r="3.5" fill="#fbf514" fill-opacity="0.6"/>
<circle cx="864.5" cy="668.7" r="3.5" fill="#fbf514" fill-opacity="0.6"/>
<circle cx="971.3" cy="593.0" r="3.5" fill="#f4a340" fill-opacity="0.62"/>
<circle cx="890.8" cy="626.2" r="3.5" fill="#fbf514" fill-opacity="0.6"/>
<circle cx="841.5" cy="649.2" r="3.5" fill="#fbf514" fill-opacity="0.6"/>
<circle cx="875.6" cy="608.0" r="3.5" fill="#fbf514" fill-opacity="0.6"/>
<circle cx="816.1" cy="635.4" r="3.5" fill="#fbf514" fill-opacity="0.6"/>
<circle cx="755.7" cy="605.2" r="3.5" fill="#8e2f9e" fill-opacity="0.55"/>
<circle cx="977.6" cy="605.1" r="3.5" fill="#f4a340" fill-opacity="0.62"/>
<circle cx="899.7" cy="611.9" r="3.5" fill="#fbf514" fill-opacity="0.6"/>
<circle cx="737.9" cy="651.5" r="3.5" fill="#2536ee" fill-opacity="0.62"/>
<circle cx="740.2" cy="649.4" r="3.5" fill="#2536ee" fill-opacity="0.62"/>
<circle cx="736.9" cy="598.3" r="3.5" fill="#8e2f9e" fill-opacity="0.55"/>
<circle cx="853.1" cy="680.6" r="3.5" fill="#fbf514" fill-opacity="0.6"/>
<circle cx="875.5" cy="617.6" r="3.5" fill="#fbf514" fill-opacity="0.6"/>
<circle cx="773.0" cy="624.5" r="3.5" fill="#8e2f9e" fill-opacity="0.55"/>
<circle cx="732.7" cy="617.2" r="3.5" fill="#8e2f9e" fill-opacity="0.55"/>
<circle cx="744.4" cy="636.2" r="3.5" fill="#8e2f9e" fill-opacity="0.55"/>
<circle cx="746.7" cy="585.4" r="3.5" fill="#8e2f9e" fill-opacity="0.55"/>
<circle cx="972.4" cy="577.8" r="3.5" fill="#fbf514" fill-opacity="0.6"/>
<circle cx="708.6" cy="658.7" r="3.5" fill="#2536ee" fill-opacity="0.62"/>
<circle cx="883.9" cy="617.4" r="3.5" fill="#f4a340" fill-opacity="0.62"/>
<circle cx="707.0" cy="704.0" r="3.5" fill="#2536ee" fill-opacity="0.62"/>
<circle cx="874.4" cy="616.0" r="3.5" fill="#fbf514" fill-opacity="0.6"/>
<circle cx="767.0" cy="560.0" r="3.5" fill="#2536ee" fill-opacity="0.62"/>
<circle cx="738.0" cy="561.5" r="3.5" fill="#8e2f9e" fill-opacity="0.55"/>
<circle cx="711.9" cy="618.7" r="3.5" fill="#2536ee" fill-opacity="0.62"/>
<circle cx="822.3" cy="643.9" r="3.5" fill="#fbf514" fill-opacity="0.6"/>
<circle cx="838.7" cy="635.7" r="3.5" fill="#fbf514" fill-opacity="0.6"/>
<circle cx="752.5" cy="632.7" r="3.5" fill="#2536ee" fill-opacity="0.62"/>
<circle cx="858.7" cy="626.1" r="3.5" fill="#f4a340" fill-opacity="0.62"/>
<circle cx="877.9" cy="641.9" r="3.5" fill="#fbf514" fill-opacity="0.6"/>
<circle cx="856.6" cy="625.3" r="3.5" fill="#fbf514" fill-opacity="0.6"/>
<circle cx="973.0" cy="591.4" r="3.5" fill="#fbf514" fill-opacity="0.6"/>
<circle cx="933.3" cy="605.8" r="3.5" fill="#fbf514" fill-opacity="0.6"/>
<circle cx="736.7" cy="662.0" r="3.5" fill="#2536ee" fill-opacity="0.62"/>
<circle cx="986.4" cy="660.0" r="3.5" fill="#fbf514" fill-opacity="0.6"/>
<circle cx="760.0" cy="644.6" r="3.5" fill="#2536ee" fill-opacity="0.62"/>
<circle cx="948.0" cy="616.3" r="3.5" fill="#f4a340" fill-opacity="0.62"/>
<circle cx="902.6" cy="632.9" r="3.5" fill="#fbf514" fill-opacity="0.6"/>
<circle cx="890.0" cy="699.0" r="3.5" fill="#fbf514" fill-opacity="0.6"/>
<circle cx="713.3" cy="682.4" r="3.5" fill="#2536ee" fill-opacity="0.62"/>
<circle cx="918.2" cy="628.3" r="3.5" fill="#fbf514" fill-opacity="0.6"/>
<circle cx="707.6" cy="636.8" r="3.5" fill="#2536ee" fill-opacity="0.62"/>
<circle cx="969.5" cy="567.7" r="3.5" fill="#fbf514" fill-opacity="0.6"/>
<circle cx="731.4" cy="674.9" r="3.5" fill="#2536ee" fill-opacity="0.62"/>
<circle cx="738.9" cy="669.3" r="3.5" fill="#2536ee" fill-opacity="0.62"/>
<circle cx="983.4" cy="663.7" r="3.5" fill="#fbf514" fill-opacity="0.6"/>
<circle cx="754.1" cy="590.1" r="3.5" fill="#8e2f9e" fill-opacity="0.55"/>
<circle cx="967.9" cy="586.3" r="3.5" fill="#fbf514" fill-opacity="0.6"/>
<circle cx="847.5" cy="628.6" r="3.5" fill="#fbf514" fill-opacity="0.6"/>
<circle cx="872.5" cy="645.9" r="3.5" fill="#fbf514" fill-opacity="0.6"/>
<circle cx="850.5" cy="663.1" r="3.5" fill="#fbf514" fill-opacity="0.6"/>
<circle cx="834.2" cy="664.5" r="3.5" fill="#fbf514" fill-opacity="0.6"/>
<circle cx="736.4" cy="656.6" r="3.5" fill="#2536ee" fill-opacity="0.62"/>
<circle cx="852.1" cy="637.8" r="3.5" fill="#fbf514" fill-opacity="0.6"/>
<circle cx="783.1" cy="605.0" r="3.5" fill="#8e2f9e" fill-opacity="0.55"/>
<circle cx="729.6" cy="580.6" r="3.5" fill="#8e2f9e" fill-opacity="0.55"/>
<circle cx="754.0" cy="667.3" r="3.5" fill="#8e2f9e" fill-opacity="0.55"/>
<circle cx="952.0" cy="599.8" r="3.5" fill="#fbf514" fill-opacity="0.6"/>
<circle cx="855.3" cy="666.7" r="3.5" fill="#fbf514" fill-opacity="0.6"/>
<circle cx="721.8" cy="667.5" r="3.5" fill="#2536ee" fill-opacity="0.62"/>
<circle cx="729.2" cy="630.7" r="3.5" fill="#2536ee" fill-opacity="0.62"/>
<circle cx="729.8" cy="659.2" r="3.5" fill="#2536ee" fill-opacity="0.62"/>
<circle cx="718.3" cy="623.2" r="3.5" fill="#8e2f9e" fill-opacity="0.55"/>
<circle cx="925.0" cy="569.7" r="3.5" fill="#fbf514" fill-opacity="0.6"/>
<circle cx="731.5" cy="690.5" r="3.5" fill="#2536ee" fill-opacity="0.62"/>
<circle cx="817.4" cy="678.3" r="3.5" fill="#fbf514" fill-opacity="0.6"/>
<circle cx="998.0" cy="644.0" r="3.5" fill="#fbf514" fill-opacity="0.6"/>
<circle cx="738.2" cy="634.4" r="3.5" fill="#2536ee" fill-opacity="0.62"/>
<circle cx="839.8" cy="684.0" r="3.5" fill="#fbf514" fill-opacity="0.6"/>
<circle cx="700.9" cy="690.9" r="3.5" fill="#2536ee" fill-opacity="0.62"/>
<circle cx="875.6" cy="627.2" r="3.5" fill="#fbf514" fill-opacity="0.6"/>
<circle cx="854.5" cy="660.2" r="3.5" fill="#fbf514" fill-opacity="0.6"/>
<circle cx="849.3" cy="630.8" r="3.5" fill="#fbf514" fill-opacity="0.6"/>
<circle cx="978.9" cy="634.7" r="3.5" fill="#f4a340" fill-opacity="0.62"/>
<circle cx="747.1" cy="662.7" r="3.5" fill="#2536ee" fill-opacity="0.62"/>
<circle cx="770.5" cy="628.3" r="3.5" fill="#2536ee" fill-opacity="0.62"/>
<circle cx="970.5" cy="562.0" r="3.5" fill="#fbf514" fill-opacity="0.6"/>
<circle cx="887.2" cy="606.3" r="3.5" fill="#fbf514" fill-opacity="0.6"/>
<circle cx="748.6" cy="639.0" r="3.5" fill="#2536ee" fill-opacity="0.62"/>
<circle cx="711.2" cy="596.9" r="3.5" fill="#8e2f9e" fill-opacity="0.55"/>
<circle cx="840.4" cy="645.5" r="3.5" fill="#fbf514" fill-opacity="0.6"/>
<circle cx="736.9" cy="668.9" r="3.5" fill="#2536ee" fill-opacity="0.62"/>
<circle cx="728.1" cy="627.4" r="3.5" fill="#2536ee" fill-opacity="0.62"/>
<circle cx="738.6" cy="609.2" r="3.5" fill="#8e2f9e" fill-opacity="0.55"/>
<circle cx="847.9" cy="668.9" r="3.5" fill="#fbf514" fill-opacity="0.6"/>
<circle cx="829.6" cy="686.9" r="3.5" fill="#fbf514" fill-opacity="0.6"/>
<circle cx="880.0" cy="691.0" r="3.5" fill="#f4a340" fill-opacity="0.62"/>
<circle cx="900.6" cy="616.2" r="3.5" fill="#fbf514" fill-opacity="0.6"/>
<circle cx="859.9" cy="633.4" r="3.5" fill="#fbf514" fill-opacity="0.6"/>
<circle cx="747.1" cy="673.6" r="3.5" fill="#2536ee" fill-opacity="0.62"/>
<circle cx="895.9" cy="619.4" r="3.5" fill="#fbf514" fill-opacity="0.6"/>
<circle cx="743.6" cy="680.6" r="3.5" fill="#8e2f9e" fill-opacity="0.55"/>
<circle cx="741.7" cy="703.5" r="3.5" fill="#2536ee" fill-opacity="0.62"/>
<circle cx="790.9" cy="686.9" r="3.5" fill="#fbf514" fill-opacity="0.6"/>
<circle cx="817.1" cy="671.8" r="3.5" fill="#fbf514" fill-opacity="0.6"/>
<circle cx="888.4" cy="673.0" r="3.5" fill="#fbf514" fill-opacity="0.6"/>
<circle cx="902.5" cy="632.8" r="3.5" fill="#fbf514" fill-opacity="0.6"/>
<circle cx="746.7" cy="615.4" r="3.5" fill="#2536ee" fill-opacity="0.62"/>
<circle cx="851.2" cy="649.7" r="3.5" fill="#fbf514" fill-opacity="0.6"/>
<circle cx="725.3" cy="646.9" r="3.5" fill="#2536ee" fill-opacity="0.62"/>
<circle cx="903.9" cy="620.2" r="3.5" fill="#fbf514" fill-opacity="0.6"/>
<circle cx="821.0" cy="671.7" r="3.5" fill="#fbf514" fill-opacity="0.6"/>
<circle cx="758.2" cy="668.4" r="3.5" fill="#8e2f9e" fill-opacity="0.55"/>
<circle cx="924.9" cy="615.5" r="3.5" fill="#f4a340" fill-opacity="0.62"/>
<circle cx="949.8" cy="581.6" r="3.5" fill="#fbf514" fill-opacity="0.6"/>
<circle cx="738.5" cy="675.7" r="3.5" fill="#2536ee" fill-opacity="0.62"/>
<circle cx="725.7" cy="644.8" r="3.5" fill="#2536ee" fill-opacity="0.62"/>
<circle cx="884.9" cy="652.1" r="3.5" fill="#fbf514" fill-opacity="0.6"/>
<circle cx="729.8" cy="650.8" r="3.5" fill="#2536ee" fill-opacity="0.62"/>
<circle cx="976.8" cy="639.0" r="3.5" fill="#fbf514" fill-opacity="0.6"/>
<circle cx="923.7" cy="621.0" r="3.5" fill="#fbf514" fill-opacity="0.6"/>
<circle cx="716.8" cy="652.3" r="3.5" fill="#2536ee" fill-opacity="0.62"/>
<circle cx="742.7" cy="600.5" r="3.5" fill="#8e2f9e" fill-opacity="0.55"/>
<circle cx="751.2" cy="651.4" r="3.5" fill="#8e2f9e" fill-opacity="0.55"/>
<circle cx="755.0" cy="625.9" r="3.5" fill="#8e2f9e" fill-opacity="0.55"/>
<circle cx="771.7" cy="650.3" r="3.5" fill="#2536ee" fill-opacity="0.62"/>
<circle cx="766.7" cy="622.0" r="3.5" fill="#8e2f9e" fill-opacity="0.55"/>
<circle cx="837.1" cy="615.5" r="3.5" fill="#fbf514" fill-opacity="0.6"/>
<circle cx="959.9" cy="620.5" r="3.5" fill="#f4a340" fill-opacity="0.62"/>
<circle cx="863.7" cy="629.0" r="3.5" fill="#fbf514" fill-opacity="0.6"/>
<circle cx="769.7" cy="643.5" r="3.5" fill="#2536ee" fill-opacity="0.62"/>
<circle cx="833.5" cy="643.6" r="3.5" fill="#fbf514" fill-opacity="0.6"/>
<circle cx="929.2" cy="618.2" r="3.5" fill="#fbf514" fill-opacity="0.6"/>
<circle cx="841.9" cy="630.9" r="3.5" fill="#fbf514" fill-opacity="0.6"/>
<circle cx="866.3" cy="625.8" r="3.5" fill="#fbf514" fill-opacity="0.6"/>
<circle cx="736.1" cy="633.5" r="3.5" fill="#2536ee" fill-opacity="0.62"/>
<circle cx="819.8" cy="660.7" r="3.5" fill="#fbf514" fill-opacity="0.6"/>
<circle cx="806.0" cy="586.0" r="3.5" fill="#8e2f9e" fill-opacity="0.55"/>
<circle cx="781.5" cy="685.2" r="3.5" fill="#fbf514" fill-opacity="0.6"/>
<circle cx="742.4" cy="654.5" r="3.5" fill="#2536ee" fill-opacity="0.62"/>
<circle cx="834.1" cy="632.1" r="3.5" fill="#fbf514" fill-opacity="0.6"/>
<circle cx="743.3" cy="621.7" r="3.5" fill="#8e2f9e" fill-opacity="0.55"/>
<circle cx="720.5" cy="659.7" r="3.5" fill="#2536ee" fill-opacity="0.62"/>
<circle cx="973.9" cy="589.7" r="3.5" fill="#f4a340" fill-opacity="0.62"/>
<circle cx="890.6" cy="643.0" r="3.5" fill="#fbf514" fill-opacity="0.6"/>
<circle cx="747.9" cy="649.7" r="3.5" fill="#8e2f9e" fill-opacity="0.55"/>
<circle cx="734.3" cy="626.4" r="3.5" fill="#2536ee" fill-opacity="0.62"/>
<circle cx="930.2" cy="622.2" r="3.5" fill="#fbf514" fill-opacity="0.6"/>
<circle cx="809.5" cy="701.9" r="3.5" fill="#fbf514" fill-opacity="0.6"/>
<circle cx="874.6" cy="649.1" r="3.5" fill="#fbf514" fill-opacity="0.6"/>
<circle cx="770.0" cy="643.6" r="3.5" fill="#8e2f9e" fill-opacity="0.55"/>
<circle cx="729.1" cy="658.9" r="3.5" fill="#2536ee" fill-opacity="0.62"/>
<circle cx="957.1" cy="632.7" r="3.5" fill="#fbf514" fill-opacity="0.6"/>
<circle cx="836.2" cy="675.0" r="3.5" fill="#f4a340" fill-opacity="0.62"/>
<circle cx="847.9" cy="619.5" r="3.5" fill="#fbf514" fill-opacity="0.6"/>
<circle cx="745.6" cy="649.1" r="3.5" fill="#2536ee" fill-opacity="0.62"/>
<circle cx="772.1" cy="601.0" r="3.5" fill="#8e2f9e" fill-opacity="0.55"/>
<circle cx="876.7" cy="641.1" r="3.5" fill="#fbf514" fill-opacity="0.6"/>
<circle cx="807.4" cy="670.3" r="3.5" fill="#fbf514" fill-opacity="0.6"/>
<circle cx="767.3" cy="610.0" r="3.5" fill="#8e2f9e" fill-opacity="0.55"/>
<circle cx="846.4" cy="654.6" r="3.5" fill="#fbf514" fill-opacity="0.6"/>
<circle cx="905.1" cy="680.1" r="3.5" fill="#fbf514" fill-opacity="0.6"/>
<circle cx="759.6" cy="682.7" r="3.5" fill="#2536ee" fill-opacity="0.62"/>
<circle cx="709.2" cy="662.3" r="3.5" fill="#2536ee" fill-opacity="0.62"/>
<circle cx="787.1" cy="629.5" r="3.5" fill="#8e2f9e" fill-opacity="0.55"/>
<circle cx="890.0" cy="624.6" r="3.5" fill="#fbf514" fill-opacity="0.6"/>
<circle cx="901.8" cy="634.8" r="3.5" fill="#fbf514" fill-opacity="0.6"/>
<circle cx="982.9" cy="626.3" r="3.5" fill="#fbf514" fill-opacity="0.6"/>
<circle cx="770.7" cy="685.9" r="3.5" fill="#2536ee" fill-opacity="0.62"/>
<circle cx="823.2" cy="637.8" r="3.5" fill="#fbf514" fill-opacity="0.6"/>
<circle cx="977.7" cy="586.3" r="3.5" fill="#fbf514" fill-opacity="0.6"/>
<circle cx="910.0" cy="664.5" r="3.5" fill="#fbf514" fill-opacity="0.6"/>
<circle cx="725.0" cy="676.4" r="3.5" fill="#2536ee" fill-opacity="0.62"/>
<circle cx="830.8" cy="678.7" r="3.5" fill="#fbf514" fill-opacity="0.6"/>
<circle cx="906.0" cy="575.0" r="3.5" fill="#fbf514" fill-opacity="0.6"/>
<circle cx="773.2" cy="669.5" r="3.5" fill="#fbf514" fill-opacity="0.6"/>
<circle cx="741.7" cy="621.3" r="3.5" fill="#2536ee" fill-opacity="0.62"/>
<circle cx="742.5" cy="630.8" r="3.5" fill="#2536ee" fill-opacity="0.62"/>
<circle cx="788.3" cy="702.4" r="3.5" fill="#fbf514" fill-opacity="0.6"/>
<circle cx="745.4" cy="650.8" r="3.5" fill="#2536ee" fill-opacity="0.62"/>
<circle cx="878.7" cy="663.3" r="3.5" fill="#fbf514" fill-opacity="0.6"/>
<circle cx="734.7" cy="653.7" r="3.5" fill="#2536ee" fill-opacity="0.62"/>
<circle cx="915.6" cy="630.3" r="3.5" fill="#fbf514" fill-opacity="0.6"/>
<circle cx="765.3" cy="641.0" r="3.5" fill="#8e2f9e" fill-opacity="0.55"/>
<circle cx="734.6" cy="654.2" r="3.5" fill="#2536ee" fill-opacity="0.62"/>
<circle cx="766.8" cy="627.4" r="3.5" fill="#8e2f9e" fill-opacity="0.55"/>
<circle cx="777.0" cy="677.9" r="3.5" fill="#fbf514" fill-opacity="0.6"/>
<circle cx="857.6" cy="658.9" r="3.5" fill="#fbf514" fill-opacity="0.6"/>
<circle cx="774.7" cy="564.1" r="3.5" fill="#8e2f9e" fill-opacity="0.55"/>
<circle cx="848.0" cy="669.0" r="3.5" fill="#fbf514" fill-opacity="0.6"/>
<circle cx="761.2" cy="644.8" r="3.5" fill="#8e2f9e" fill-opacity="0.55"/>
<circle cx="773.2" cy="614.4" r="3.5" fill="#8e2f9e" fill-opacity="0.55"/>
<circle cx="902.4" cy="637.4" r="3.5" fill="#fbf514" fill-opacity="0.6"/>
<circle cx="973.2" cy="593.8" r="3.5" fill="#f4a340" fill-opacity="0.62"/>
<circle cx="718.1" cy="667.3" r="3.5" fill="#2536ee" fill-opacity="0.62"/>
<circle cx="820.3" cy="692.6" r="3.5" fill="#fbf514" fill-opacity="0.6"/>
<circle cx="965.0" cy="589.4" r="3.5" fill="#f4a340" fill-opacity="0.62"/>
<circle cx="842.2" cy="668.6" r="3.5" fill="#fbf514" fill-opacity="0.6"/>
<circle cx="808.5" cy="680.6" r="3.5" fill="#fbf514" fill-opacity="0.6"/>
<circle cx="717.2" cy="616.2" r="3.5" fill="#8e2f9e" fill-opacity="0.55"/>
<circle cx="728.5" cy="693.0" r="3.5" fill="#2536ee" fill-opacity="0.62"/>
<circle cx="795.7" cy="690.3" r="3.5" fill="#fbf514" fill-opacity="0.6"/>
<circle cx="721.6" cy="667.9" r="3.5" fill="#2536ee" fill-opacity="0.62"/>
<circle cx="859.9" cy="648.2" r="3.5" fill="#fbf514" fill-opacity="0.6"/>
<circle cx="974.7" cy="676.4" r="3.5" fill="#fbf514" fill-opacity="0.6"/>
<circle cx="727.9" cy="609.9" r="3.5" fill="#8e2f9e" fill-opacity="0.55"/>
<circle cx="732.9" cy="644.1" r="3.5" fill="#2536ee" fill-opacity="0.62"/>
<circle cx="734.1" cy="657.2" r="3.5" fill="#2536ee" fill-opacity="0.62"/>
<circle cx="954.0" cy="663.6" r="3.5" fill="#fbf514" fill-opacity="0.6"/>
<circle cx="711.8" cy="632.8" r="3.5" fill="#2536ee" fill-opacity="0.62"/>
<circle cx="744.8" cy="650.1" r="3.5" fill="#8e2f9e" fill-opacity="0.55"/>
<circle cx="759.0" cy="663.0" r="3.5" fill="#2536ee" fill-opacity="0.62"/>
<circle cx="846.7" cy="670.6" r="3.5" fill="#fbf514" fill-opacity="0.6"/>
<circle cx="750.0" cy="638.7" r="3.5" fill="#2536ee" fill-opacity="0.62"/>
<circle cx="847.4" cy="653.9" r="3.5" fill="#fbf514" fill-opacity="0.6"/>
<circle cx="766.2" cy="592.8" r="3.5" fill="#8e2f9e" fill-opacity="0.55"/>
<circle cx="745.7" cy="622.0" r="3.5" fill="#8e2f9e" fill-opacity="0.55"/>
<circle cx="742.2" cy="639.8" r="3.5" fill="#2536ee" fill-opacity="0.62"/>
<circle cx="770.0" cy="681.4" r="3.5" fill="#2536ee" fill-opacity="0.62"/>
<circle cx="884.3" cy="614.3" r="3.5" fill="#fbf514" fill-opacity="0.6"/>
<circle cx="756.9" cy="643.1" r="3.5" fill="#2536ee" fill-opacity="0.62"/>
<circle cx="716.3" cy="645.1" r="3.5" fill="#2536ee" fill-opacity="0.62"/>
<circle cx="960.5" cy="587.6" r="3.5" fill="#fbf514" fill-opacity="0.6"/>
<circle cx="916.0" cy="661.0" r="3.5" fill="#f4a340" fill-opacity="0.62"/>
<circle cx="990.3" cy="576.6" r="3.5" fill="#f4a340" fill-opacity="0.62"/>
<circle cx="863.4" cy="660.9" r="3.5" fill="#fbf514" fill-opacity="0.6"/>
<circle cx="928.0" cy="682.0" r="3.5" fill="#fbf514" fill-opacity="0.6"/>
<circle cx="898.7" cy="620.0" r="3.5" fill="#fbf514" fill-opacity="0.6"/>
<circle cx="929.4" cy="630.2" r="3.5" fill="#fbf514" fill-opacity="0.6"/>
<circle cx="865.2" cy="665.2" r="3.5" fill="#fbf514" fill-opacity="0.6"/>
<circle cx="1075.7" cy="624.7" r="3.5" fill="#f4a340" fill-opacity="0.62"/>
<circle cx="723.6" cy="677.3" r="3.5" fill="#2536ee" fill-opacity="0.62"/>
<circle cx="749.5" cy="663.7" r="3.5" fill="#2536ee" fill-opacity="0.62"/>
<circle cx="741.1" cy="631.6" r="3.5" fill="#2536ee" fill-opacity="0.62"/>
<circle cx="738.4" cy="621.0" r="3.5" fill="#2536ee" fill-opacity="0.62"/>
<circle cx="866.4" cy="670.6" r="3.5" fill="#fbf514" fill-opacity="0.6"/>
<circle cx="761.1" cy="642.3" r="3.5" fill="#8e2f9e" fill-opacity="0.55"/>
<circle cx="783.0" cy="703.1" r="3.5" fill="#fbf514" fill-opacity="0.6"/>
<circle cx="933.7" cy="649.0" r="3.5" fill="#fbf514" fill-opacity="0.6"/>
<circle cx="736.4" cy="637.1" r="3.5" fill="#2536ee" fill-opacity="0.62"/>
<circle cx="891.7" cy="619.5" r="3.5" fill="#fbf514" fill-opacity="0.6"/>
<circle cx="731.4" cy="674.3" r="3.5" fill="#2536ee" fill-opacity="0.62"/>
<circle cx="688.0" cy="669.0" r="3.5" fill="#fbf514" fill-opacity="0.6"/>
<circle cx="893.2" cy="615.5" r="3.5" fill="#fbf514" fill-opacity="0.6"/>
<circle cx="740.9" cy="632.4" r="3.5" fill="#2536ee" fill-opacity="0.62"/>
<circle cx="730.3" cy="613.5" r="3.5" fill="#8e2f9e" fill-opacity="0.55"/>
<circle cx="922.4" cy="643.2" r="3.5" fill="#fbf514" fill-opacity="0.6"/>
<circle cx="978.2" cy="611.1" r="3.5" fill="#fbf514" fill-opacity="0.6"/>
<circle cx="730.0" cy="659.3" r="3.5" fill="#8e2f9e" fill-opacity="0.55"/>
<circle cx="981.6" cy="593.5" r="3.5" fill="#f4a340" fill-opacity="0.62"/>
<circle cx="738.1" cy="663.7" r="3.5" fill="#2536ee" fill-opacity="0.62"/>
<circle cx="734.0" cy="707.0" r="3.5" fill="#fbf514" fill-opacity="0.6"/>
<circle cx="907.7" cy="655.5" r="3.5" fill="#fbf514" fill-opacity="0.6"/>
<circle cx="874.8" cy="652.8" r="3.5" fill="#fbf514" fill-opacity="0.6"/>
<circle cx="909.7" cy="611.7" r="3.5" fill="#fbf514" fill-opacity="0.6"/>
<circle cx="891.6" cy="634.0" r="3.5" fill="#fbf514" fill-opacity="0.6"/>
<circle cx="890.3" cy="642.6" r="3.5" fill="#fbf514" fill-opacity="0.6"/>
<circle cx="801.6" cy="654.9" r="3.5" fill="#fbf514" fill-opacity="0.6"/>
<circle cx="925.9" cy="584.3" r="3.5" fill="#fbf514" fill-opacity="0.6"/>
<circle cx="867.2" cy="657.1" r="3.5" fill="#fbf514" fill-opacity="0.6"/>
<circle cx="853.5" cy="658.0" r="3.5" fill="#fbf514" fill-opacity="0.6"/>
<circle cx="880.0" cy="640.6" r="3.5" fill="#fbf514" fill-opacity="0.6"/>
<circle cx="837.0" cy="588.0" r="3.5" fill="#fbf514" fill-opacity="0.6"/>
<circle cx="830.4" cy="698.9" r="3.5" fill="#fbf514" fill-opacity="0.6"/>
<circle cx="742.6" cy="677.3" r="3.5" fill="#2536ee" fill-opacity="0.62"/>
<circle cx="839.6" cy="651.7" r="3.5" fill="#fbf514" fill-opacity="0.6"/>
<circle cx="732.4" cy="597.2" r="3.5" fill="#8e2f9e" fill-opacity="0.55"/>
<circle cx="825.8" cy="682.2" r="3.5" fill="#fbf514" fill-opacity="0.6"/>
<circle cx="868.2" cy="614.3" r="3.5" fill="#fbf514" fill-opacity="0.6"/>
<circle cx="810.0" cy="697.2" r="3.5" fill="#fbf514" fill-opacity="0.6"/>
<circle cx="990.3" cy="618.1" r="3.5" fill="#f4a340" fill-opacity="0.62"/>
<circle cx="737.7" cy="617.9" r="3.5" fill="#8e2f9e" fill-opacity="0.55"/>
<circle cx="830.8" cy="658.2" r="3.5" fill="#fbf514" fill-opacity="0.6"/>
<circle cx="853.5" cy="656.8" r="3.5" fill="#fbf514" fill-opacity="0.6"/>
<circle cx="753.7" cy="598.8" r="3.5" fill="#8e2f9e" fill-opacity="0.55"/>
<circle cx="969.8" cy="590.2" r="3.5" fill="#fbf514" fill-opacity="0.6"/>
<circle cx="917.7" cy="636.8" r="3.5" fill="#fbf514" fill-opacity="0.6"/>
<circle cx="738.5" cy="664.4" r="3.5" fill="#8e2f9e" fill-opacity="0.55"/>
<circle cx="985.0" cy="648.0" r="3.5" fill="#fbf514" fill-opacity="0.6"/>
<circle cx="736.5" cy="621.6" r="3.5" fill="#2536ee" fill-opacity="0.62"/>
<circle cx="826.7" cy="699.0" r="3.5" fill="#fbf514" fill-opacity="0.6"/>
<circle cx="864.3" cy="671.6" r="3.5" fill="#fbf514" fill-opacity="0.6"/>
<circle cx="739.0" cy="634.4" r="3.5" fill="#8e2f9e" fill-opacity="0.55"/>
<circle cx="735.3" cy="672.5" r="3.5" fill="#2536ee" fill-opacity="0.62"/>
<circle cx="736.4" cy="648.7" r="3.5" fill="#2536ee" fill-opacity="0.62"/>
<circle cx="967.1" cy="609.4" r="3.5" fill="#fbf514" fill-opacity="0.6"/>
<circle cx="834.3" cy="642.5" r="3.5" fill="#fbf514" fill-opacity="0.6"/>
<circle cx="877.8" cy="643.7" r="3.5" fill="#fbf514" fill-opacity="0.6"/>
<circle cx="781.0" cy="630.2" r="3.5" fill="#8e2f9e" fill-opacity="0.55"/>
<circle cx="743.3" cy="657.0" r="3.5" fill="#2536ee" fill-opacity="0.62"/>
<circle cx="731.8" cy="684.0" r="3.5" fill="#2536ee" fill-opacity="0.62"/>
<circle cx="743.3" cy="636.7" r="3.5" fill="#2536ee" fill-opacity="0.62"/>
<circle cx="828.2" cy="661.6" r="3.5" fill="#fbf514" fill-opacity="0.6"/>
<circle cx="859.0" cy="634.8" r="3.5" fill="#fbf514" fill-opacity="0.6"/>
<circle cx="740.8" cy="657.9" r="3.5" fill="#2536ee" fill-opacity="0.62"/>
<circle cx="833.8" cy="693.8" r="3.5" fill="#fbf514" fill-opacity="0.6"/>
<circle cx="841.1" cy="659.3" r="3.5" fill="#fbf514" fill-opacity="0.6"/>
<circle cx="731.9" cy="652.2" r="3.5" fill="#2536ee" fill-opacity="0.62"/>
<circle cx="888.2" cy="650.1" r="3.5" fill="#fbf514" fill-opacity="0.6"/>
<circle cx="920.3" cy="658.1" r="3.5" fill="#fbf514" fill-opacity="0.6"/>
<circle cx="900.8" cy="660.3" r="3.5" fill="#fbf514" fill-opacity="0.6"/>
<circle cx="803.4" cy="664.2" r="3.5" fill="#fbf514" fill-opacity="0.6"/>
<circle cx="736.6" cy="604.4" r="3.5" fill="#2536ee" fill-opacity="0.62"/>
<circle cx="979.3" cy="622.2" r="3.5" fill="#fbf514" fill-opacity="0.6"/>
<circle cx="914.0" cy="632.9" r="3.5" fill="#fbf514" fill-opacity="0.6"/>
<circle cx="754.5" cy="596.7" r="3.5" fill="#8e2f9e" fill-opacity="0.55"/>
<circle cx="965.6" cy="580.8" r="3.5" fill="#fbf514" fill-opacity="0.6"/>
<circle cx="854.0" cy="642.7" r="3.5" fill="#fbf514" fill-opacity="0.6"/>
<circle cx="768.3" cy="593.2" r="3.5" fill="#8e2f9e" fill-opacity="0.55"/>
<circle cx="866.2" cy="641.1" r="3.5" fill="#fbf514" fill-opacity="0.6"/>
<circle cx="838.0" cy="662.5" r="3.5" fill="#fbf514" fill-opacity="0.6"/>
<circle cx="723.1" cy="612.4" r="3.5" fill="#8e2f9e" fill-opacity="0.55"/>
<circle cx="851.4" cy="647.6" r="3.5" fill="#fbf514" fill-opacity="0.6"/>
<circle cx="868.3" cy="633.7" r="3.5" fill="#fbf514" fill-opacity="0.6"/>
<circle cx="846.0" cy="653.7" r="3.5" fill="#fbf514" fill-opacity="0.6"/>
<circle cx="778.0" cy="628.0" r="3.5" fill="#2536ee" fill-opacity="0.62"/>
<circle cx="974.0" cy="524.8" r="3.5" fill="#fbf514" fill-opacity="0.6"/>
<circle cx="734.0" cy="639.2" r="3.5" fill="#2536ee" fill-opacity="0.62"/>
<circle cx="746.5" cy="637.9" r="3.5" fill="#2536ee" fill-opacity="0.62"/>
<circle cx="751.6" cy="648.6" r="3.5" fill="#8e2f9e" fill-opacity="0.55"/>
<circle cx="771.2" cy="605.5" r="3.5" fill="#8e2f9e" fill-opacity="0.55"/>
<circle cx="747.9" cy="671.4" r="3.5" fill="#2536ee" fill-opacity="0.62"/>
<circle cx="736.7" cy="648.3" r="3.5" fill="#2536ee" fill-opacity="0.62"/>
<circle cx="958.3" cy="611.3" r="3.5" fill="#fbf514" fill-opacity="0.6"/>
<circle cx="983.6" cy="569.6" r="3.5" fill="#fbf514" fill-opacity="0.6"/>
<circle cx="940.3" cy="592.1" r="3.5" fill="#fbf514" fill-opacity="0.6"/>
<circle cx="873.4" cy="672.1" r="3.5" fill="#fbf514" fill-opacity="0.6"/>
<circle cx="863.7" cy="650.7" r="3.5" fill="#fbf514" fill-opacity="0.6"/>
<circle cx="765.0" cy="678.0" r="3.5" fill="#8e2f9e" fill-opacity="0.55"/>
<circle cx="943.9" cy="598.8" r="3.5" fill="#f4a340" fill-opacity="0.62"/>
<circle cx="736.3" cy="637.2" r="3.5" fill="#2536ee" fill-opacity="0.62"/>
<circle cx="764.6" cy="625.1" r="3.5" fill="#8e2f9e" fill-opacity="0.55"/>
<circle cx="869.4" cy="627.9" r="3.5" fill="#fbf514" fill-opacity="0.6"/>
<circle cx="820.9" cy="695.9" r="3.5" fill="#fbf514" fill-opacity="0.6"/>
<circle cx="980.3" cy="594.3" r="3.5" fill="#f4a340" fill-opacity="0.62"/>
<circle cx="984.4" cy="614.7" r="3.5" fill="#f4a340" fill-opacity="0.62"/>
<circle cx="955.1" cy="635.1" r="3.5" fill="#fbf514" fill-opacity="0.6"/>
<circle cx="869.7" cy="643.6" r="3.5" fill="#fbf514" fill-opacity="0.6"/>
<circle cx="741.2" cy="606.9" r="3.5" fill="#8e2f9e" fill-opacity="0.55"/>
<circle cx="782.7" cy="656.0" r="3.5" fill="#fbf514" fill-opacity="0.6"/>
<circle cx="839.5" cy="671.2" r="3.5" fill="#fbf514" fill-opacity="0.6"/>
<circle cx="763.7" cy="635.2" r="3.5" fill="#2536ee" fill-opacity="0.62"/>
<circle cx="703.9" cy="682.5" r="3.5" fill="#2536ee" fill-opacity="0.62"/>
<circle cx="822.4" cy="636.8" r="3.5" fill="#fbf514" fill-opacity="0.6"/>
<circle cx="855.7" cy="626.7" r="3.5" fill="#fbf514" fill-opacity="0.6"/>
<circle cx="869.7" cy="606.1" r="3.5" fill="#fbf514" fill-opacity="0.6"/>
<circle cx="844.0" cy="651.4" r="3.5" fill="#fbf514" fill-opacity="0.6"/>
<circle cx="838.0" cy="677.0" r="3.5" fill="#f4a340" fill-opacity="0.62"/>
<circle cx="977.3" cy="552.1" r="3.5" fill="#fbf514" fill-opacity="0.6"/>
<circle cx="877.5" cy="665.1" r="3.5" fill="#fbf514" fill-opacity="0.6"/>
<circle cx="963.1" cy="604.0" r="3.5" fill="#f4a340" fill-opacity="0.62"/>
<circle cx="747.2" cy="638.9" r="3.5" fill="#8e2f9e" fill-opacity="0.55"/>
<circle cx="833.9" cy="656.7" r="3.5" fill="#fbf514" fill-opacity="0.6"/>
<circle cx="786.8" cy="568.5" r="3.5" fill="#8e2f9e" fill-opacity="0.55"/>
<circle cx="740.0" cy="661.4" r="3.5" fill="#2536ee" fill-opacity="0.62"/>
<circle cx="756.3" cy="648.8" r="3.5" fill="#8e2f9e" fill-opacity="0.55"/>
<circle cx="710.4" cy="646.8" r="3.5" fill="#2536ee" fill-opacity="0.62"/>
<circle cx="862.8" cy="649.1" r="3.5" fill="#fbf514" fill-opacity="0.6"/>
<circle cx="759.8" cy="635.5" r="3.5" fill="#8e2f9e" fill-opacity="0.55"/>
<circle cx="832.4" cy="665.8" r="3.5" fill="#fbf514" fill-opacity="0.6"/>
<circle cx="747.9" cy="679.6" r="3.5" fill="#2536ee" fill-opacity="0.62"/>
<circle cx="738.8" cy="674.7" r="3.5" fill="#2536ee" fill-opacity="0.62"/>
<circle cx="883.1" cy="614.1" r="3.5" fill="#fbf514" fill-opacity="0.6"/>
<circle cx="724.9" cy="678.7" r="3.5" fill="#2536ee" fill-opacity="0.62"/>
<circle cx="708.0" cy="678.0" r="3.5" fill="#2536ee" fill-opacity="0.62"/>
<circle cx="877.6" cy="636.4" r="3.5" fill="#fbf514" fill-opacity="0.6"/>
<circle cx="923.5" cy="626.3" r="3.5" fill="#fbf514" fill-opacity="0.6"/>
<circle cx="827.5" cy="675.5" r="3.5" fill="#fbf514" fill-opacity="0.6"/>
<circle cx="743.8" cy="651.6" r="3.5" fill="#2536ee" fill-opacity="0.62"/>
<circle cx="717.2" cy="645.1" r="3.5" fill="#2536ee" fill-opacity="0.62"/>
<circle cx="981.5" cy="621.0" r="3.5" fill="#fbf514" fill-opacity="0.6"/>
<circle cx="815.4" cy="670.7" r="3.5" fill="#fbf514" fill-opacity="0.6"/>
<circle cx="732.7" cy="679.0" r="3.5" fill="#2536ee" fill-opacity="0.62"/>
<circle cx="742.9" cy="659.2" r="3.5" fill="#2536ee" fill-opacity="0.62"/>
<circle cx="742.3" cy="623.2" r="3.5" fill="#8e2f9e" fill-opacity="0.55"/>
<circle cx="733.6" cy="565.8" r="3.5" fill="#8e2f9e" fill-opacity="0.55"/>
<circle cx="966.5" cy="614.0" r="3.5" fill="#f4a340" fill-opacity="0.62"/>
<circle cx="764.5" cy="556.0" r="3.5" fill="#8e2f9e" fill-opacity="0.55"/>
<circle cx="738.4" cy="684.2" r="3.5" fill="#2536ee" fill-opacity="0.62"/>
<circle cx="829.9" cy="685.7" r="3.5" fill="#fbf514" fill-opacity="0.6"/>
<circle cx="726.6" cy="672.1" r="3.5" fill="#2536ee" fill-opacity="0.62"/>
<circle cx="735.0" cy="631.4" r="3.5" fill="#2536ee" fill-opacity="0.62"/>
<circle cx="713.8" cy="662.6" r="3.5" fill="#2536ee" fill-opacity="0.62"/>
<circle cx="733.8" cy="606.1" r="3.5" fill="#8e2f9e" fill-opacity="0.55"/>
<circle cx="877.0" cy="646.0" r="3.5" fill="#fbf514" fill-opacity="0.6"/>
<circle cx="839.9" cy="624.8" r="3.5" fill="#fbf514" fill-opacity="0.6"/>
<circle cx="952.1" cy="603.8" r="3.5" fill="#fbf514" fill-opacity="0.6"/>
<circle cx="738.6" cy="671.1" r="3.5" fill="#2536ee" fill-opacity="0.62"/>
<circle cx="863.9" cy="663.5" r="3.5" fill="#fbf514" fill-opacity="0.6"/>
<circle cx="767.4" cy="681.4" r="3.5" fill="#2536ee" fill-opacity="0.62"/>
<circle cx="806.1" cy="686.9" r="3.5" fill="#fbf514" fill-opacity="0.6"/>
<circle cx="757.4" cy="618.0" r="3.5" fill="#8e2f9e" fill-opacity="0.55"/>
<circle cx="721.0" cy="645.3" r="3.5" fill="#2536ee" fill-opacity="0.62"/>
<circle cx="756.0" cy="648.2" r="3.5" fill="#2536ee" fill-opacity="0.62"/>
<circle cx="981.8" cy="674.2" r="3.5" fill="#fbf514" fill-opacity="0.6"/>
<circle cx="918.1" cy="605.7" r="3.5" fill="#fbf514" fill-opacity="0.6"/>
<circle cx="746.8" cy="629.8" r="3.5" fill="#8e2f9e" fill-opacity="0.55"/>
<circle cx="729.4" cy="655.0" r="3.5" fill="#2536ee" fill-opacity="0.62"/>
<circle cx="724.9" cy="649.5" r="3.5" fill="#2536ee" fill-opacity="0.62"/>
<circle cx="739.7" cy="687.9" r="3.5" fill="#2536ee" fill-opacity="0.62"/>
<circle cx="847.4" cy="630.7" r="3.5" fill="#f4a340" fill-opacity="0.62"/>
<circle cx="765.3" cy="646.1" r="3.5" fill="#8e2f9e" fill-opacity="0.55"/>
<circle cx="825.6" cy="648.1" r="3.5" fill="#fbf514" fill-opacity="0.6"/>
<circle cx="962.8" cy="604.9" r="3.5" fill="#fbf514" fill-opacity="0.6"/>
<circle cx="745.0" cy="601.8" r="3.5" fill="#8e2f9e" fill-opacity="0.55"/>
<circle cx="870.1" cy="646.9" r="3.5" fill="#fbf514" fill-opacity="0.6"/>
<circle cx="862.5" cy="702.9" r="3.5" fill="#fbf514" fill-opacity="0.6"/>
<circle cx="849.7" cy="627.0" r="3.5" fill="#fbf514" fill-opacity="0.6"/>
<circle cx="830.3" cy="662.4" r="3.5" fill="#fbf514" fill-opacity="0.6"/>
<circle cx="742.4" cy="646.5" r="3.5" fill="#2536ee" fill-opacity="0.62"/>
<circle cx="829.6" cy="665.2" r="3.5" fill="#fbf514" fill-opacity="0.6"/>
<circle cx="724.8" cy="669.8" r="3.5" fill="#8e2f9e" fill-opacity="0.55"/>
<circle cx="843.3" cy="636.3" r="3.5" fill="#fbf514" fill-opacity="0.6"/>
<circle cx="963.5" cy="605.6" r="3.5" fill="#fbf514" fill-opacity="0.6"/>
<circle cx="877.2" cy="649.7" r="3.5" fill="#fbf514" fill-opacity="0.6"/>
<circle cx="697.5" cy="654.8" r="3.5" fill="#2536ee" fill-opacity="0.62"/>
<circle cx="840.9" cy="674.6" r="3.5" fill="#fbf514" fill-opacity="0.6"/>
<circle cx="857.1" cy="650.1" r="3.5" fill="#fbf514" fill-opacity="0.6"/>
<circle cx="792.4" cy="617.9" r="3.5" fill="#8e2f9e" fill-opacity="0.55"/>
<circle cx="889.7" cy="661.7" r="3.5" fill="#fbf514" fill-opacity="0.6"/>
<circle cx="853.6" cy="667.8" r="3.5" fill="#fbf514" fill-opacity="0.6"/>
<circle cx="844.0" cy="693.9" r="3.5" fill="#fbf514" fill-opacity="0.6"/>
<circle cx="863.9" cy="612.6" r="3.5" fill="#f4a340" fill-opacity="0.62"/>
<circle cx="749.5" cy="702.1" r="3.5" fill="#2536ee" fill-opacity="0.62"/>
<circle cx="757.5" cy="583.9" r="3.5" fill="#8e2f9e" fill-opacity="0.55"/>
<circle cx="734.5" cy="646.4" r="3.5" fill="#2536ee" fill-opacity="0.62"/>
<circle cx="939.1" cy="615.9" r="3.5" fill="#f4a340" fill-opacity="0.62"/>
<circle cx="767.5" cy="631.1" r="3.5" fill="#8e2f9e" fill-opacity="0.55"/>
<circle cx="729.9" cy="616.5" r="3.5" fill="#8e2f9e" fill-opacity="0.55"/>
<circle cx="734.2" cy="682.3" r="3.5" fill="#2536ee" fill-opacity="0.62"/>
<circle cx="992.0" cy="597.9" r="3.5" fill="#fbf514" fill-opacity="0.6"/>
<circle cx="728.7" cy="632.4" r="3.5" fill="#2536ee" fill-opacity="0.62"/>
<circle cx="753.7" cy="651.9" r="3.5" fill="#2536ee" fill-opacity="0.62"/>
<circle cx="935.4" cy="618.6" r="3.5" fill="#f4a340" fill-opacity="0.62"/>
<circle cx="801.1" cy="668.6" r="3.5" fill="#fbf514" fill-opacity="0.6"/>
<circle cx="908.6" cy="645.7" r="3.5" fill="#fbf514" fill-opacity="0.6"/>
<circle cx="735.4" cy="660.1" r="3.5" fill="#2536ee" fill-opacity="0.62"/>
<circle cx="987.7" cy="578.6" r="3.5" fill="#fbf514" fill-opacity="0.6"/>
<circle cx="734.5" cy="639.3" r="3.5" fill="#2536ee" fill-opacity="0.62"/>
<circle cx="940.3" cy="621.7" r="3.5" fill="#f4a340" fill-opacity="0.62"/>
<circle cx="788.9" cy="679.5" r="3.5" fill="#8e2f9e" fill-opacity="0.55"/>
<circle cx="891.4" cy="636.5" r="3.5" fill="#fbf514" fill-opacity="0.6"/>
<circle cx="829.2" cy="646.6" r="3.5" fill="#fbf514" fill-opacity="0.6"/>
<circle cx="718.0" cy="658.7" r="3.5" fill="#2536ee" fill-opacity="0.62"/>
<circle cx="929.6" cy="587.0" r="3.5" fill="#f4a340" fill-opacity="0.62"/>
<circle cx="790.6" cy="687.0" r="3.5" fill="#fbf514" fill-opacity="0.6"/>
<circle cx="831.3" cy="666.1" r="3.5" fill="#fbf514" fill-opacity="0.6"/>
<circle cx="827.3" cy="680.9" r="3.5" fill="#fbf514" fill-opacity="0.6"/>
<circle cx="753.8" cy="606.0" r="3.5" fill="#8e2f9e" fill-opacity="0.55"/>
<circle cx="796.0" cy="572.0" r="3.5" fill="#8e2f9e" fill-opacity="0.55"/>
<circle cx="942.0" cy="638.8" r="3.5" fill="#f4a340" fill-opacity="0.62"/>
<circle cx="815.0" cy="691.6" r="3.5" fill="#fbf514" fill-opacity="0.6"/>
<circle cx="762.7" cy="637.6" r="3.5" fill="#2536ee" fill-opacity="0.62"/>
<circle cx="852.7" cy="660.0" r="3.5" fill="#fbf514" fill-opacity="0.6"/>
<circle cx="739.1" cy="568.6" r="3.5" fill="#8e2f9e" fill-opacity="0.55"/>
<circle cx="761.4" cy="619.6" r="3.5" fill="#2536ee" fill-opacity="0.62"/>
<circle cx="735.1" cy="646.3" r="3.5" fill="#2536ee" fill-opacity="0.62"/>
<circle cx="858.0" cy="644.8" r="3.5" fill="#fbf514" fill-opacity="0.6"/>
<circle cx="996.9" cy="626.0" r="3.5" fill="#f4a340" fill-opacity="0.62"/>
<circle cx="764.3" cy="648.8" r="3.5" fill="#2536ee" fill-opacity="0.62"/>
<circle cx="869.2" cy="629.3" r="3.5" fill="#fbf514" fill-opacity="0.6"/>
<circle cx="857.0" cy="610.4" r="3.5" fill="#fbf514" fill-opacity="0.6"/>
<circle cx="986.0" cy="608.9" r="3.5" fill="#fbf514" fill-opacity="0.6"/>
<circle cx="743.3" cy="667.7" r="3.5" fill="#2536ee" fill-opacity="0.62"/>
<circle cx="825.4" cy="654.3" r="3.5" fill="#fbf514" fill-opacity="0.6"/>
<circle cx="790.6" cy="699.4" r="3.5" fill="#fbf514" fill-opacity="0.6"/>
<circle cx="818.3" cy="657.9" r="3.5" fill="#fbf514" fill-opacity="0.6"/>
<circle cx="924.0" cy="570.0" r="3.5" fill="#fbf514" fill-opacity="0.6"/>
<circle cx="962.4" cy="581.3" r="3.5" fill="#f4a340" fill-opacity="0.62"/>
<circle cx="751.4" cy="609.0" r="3.5" fill="#8e2f9e" fill-opacity="0.55"/>
<circle cx="821.5" cy="661.1" r="3.5" fill="#fbf514" fill-opacity="0.6"/>
<circle cx="739.6" cy="634.7" r="3.5" fill="#2536ee" fill-opacity="0.62"/>
<circle cx="727.5" cy="652.7" r="3.5" fill="#2536ee" fill-opacity="0.62"/>
<circle cx="761.0" cy="641.5" r="3.5" fill="#2536ee" fill-opacity="0.62"/>
<circle cx="941.0" cy="642.7" r="3.5" fill="#fbf514" fill-opacity="0.6"/>
<circle cx="974.6" cy="623.5" r="3.5" fill="#fbf514" fill-opacity="0.6"/>
<circle cx="723.9" cy="667.4" r="3.5" fill="#2536ee" fill-opacity="0.62"/>
<circle cx="773.2" cy="692.6" r="3.5" fill="#fbf514" fill-opacity="0.6"/>
<circle cx="752.3" cy="627.1" r="3.5" fill="#8e2f9e" fill-opacity="0.55"/>
<circle cx="744.8" cy="653.2" r="3.5" fill="#2536ee" fill-opacity="0.62"/>
<circle cx="874.7" cy="611.4" r="3.5" fill="#fbf514" fill-opacity="0.6"/>
<circle cx="722.7" cy="646.8" r="3.5" fill="#2536ee" fill-opacity="0.62"/>
<circle cx="858.1" cy="672.5" r="3.5" fill="#fbf514" fill-opacity="0.6"/>
<circle cx="717.0" cy="594.2" r="3.5" fill="#8e2f9e" fill-opacity="0.55"/>
<circle cx="862.3" cy="668.9" r="3.5" fill="#fbf514" fill-opacity="0.6"/>
<circle cx="716.2" cy="682.0" r="3.5" fill="#2536ee" fill-opacity="0.62"/>
<circle cx="757.2" cy="621.0" r="3.5" fill="#2536ee" fill-opacity="0.62"/>
<circle cx="747.8" cy="608.8" r="3.5" fill="#8e2f9e" fill-opacity="0.55"/>
<circle cx="878.6" cy="596.6" r="3.5" fill="#fbf514" fill-opacity="0.6"/>
<circle cx="742.9" cy="656.1" r="3.5" fill="#2536ee" fill-opacity="0.62"/>
<circle cx="747.4" cy="599.1" r="3.5" fill="#8e2f9e" fill-opacity="0.55"/>
<circle cx="924.9" cy="610.1" r="3.5" fill="#fbf514" fill-opacity="0.6"/>
<circle cx="727.7" cy="682.5" r="3.5" fill="#2536ee" fill-opacity="0.62"/>
<circle cx="795.9" cy="693.3" r="3.5" fill="#fbf514" fill-opacity="0.6"/>
<circle cx="914.5" cy="651.0" r="3.5" fill="#fbf514" fill-opacity="0.6"/>
<circle cx="746.2" cy="626.6" r="3.5" fill="#8e2f9e" fill-opacity="0.55"/>
<circle cx="772.5" cy="620.0" r="3.5" fill="#8e2f9e" fill-opacity="0.55"/>
<circle cx="912.8" cy="641.0" r="3.5" fill="#fbf514" fill-opacity="0.6"/>
<circle cx="800.0" cy="640.0" r="3.5" fill="#8e2f9e" fill-opacity="0.55"/>
<circle cx="902.6" cy="624.7" r="3.5" fill="#fbf514" fill-opacity="0.6"/>
<circle cx="862.6" cy="659.9" r="3.5" fill="#fbf514" fill-opacity="0.6"/>
<circle cx="869.7" cy="655.2" r="3.5" fill="#fbf514" fill-opacity="0.6"/>
<circle cx="919.6" cy="633.4" r="3.5" fill="#fbf514" fill-opacity="0.6"/>
<circle cx="953.2" cy="613.0" r="3.5" fill="#f4a340" fill-opacity="0.62"/>
<circle cx="750.4" cy="652.8" r="3.5" fill="#8e2f9e" fill-opacity="0.55"/>
<circle cx="885.8" cy="641.5" r="3.5" fill="#fbf514" fill-opacity="0.6"/>
<circle cx="661.5" cy="693.0" r="3.5" fill="#fbf514" fill-opacity="0.6"/>
<circle cx="743.2" cy="679.4" r="3.5" fill="#2536ee" fill-opacity="0.62"/>
<circle cx="798.7" cy="651.0" r="3.5" fill="#fbf514" fill-opacity="0.6"/>
<circle cx="974.6" cy="560.3" r="3.5" fill="#f4a340" fill-opacity="0.62"/>
<circle cx="839.4" cy="679.5" r="3.5" fill="#fbf514" fill-opacity="0.6"/>
<circle cx="776.0" cy="593.0" r="3.5" fill="#2536ee" fill-opacity="0.62"/>
<circle cx="796.6" cy="677.8" r="3.5" fill="#fbf514" fill-opacity="0.6"/>
<circle cx="962.8" cy="609.0" r="3.5" fill="#fbf514" fill-opacity="0.6"/>
<circle cx="799.9" cy="693.0" r="3.5" fill="#fbf514" fill-opacity="0.6"/>
<circle cx="817.0" cy="644.2" r="3.5" fill="#fbf514" fill-opacity="0.6"/>
<circle cx="846.6" cy="696.5" r="3.5" fill="#fbf514" fill-opacity="0.6"/>
<circle cx="763.7" cy="617.1" r="3.5" fill="#8e2f9e" fill-opacity="0.55"/>
<circle cx="988.0" cy="605.3" r="3.5" fill="#fbf514" fill-opacity="0.6"/>
<circle cx="757.7" cy="652.3" r="3.5" fill="#2536ee" fill-opacity="0.62"/>
<circle cx="851.7" cy="639.1" r="3.5" fill="#fbf514" fill-opacity="0.6"/>
<circle cx="970.0" cy="538.5" r="3.5" fill="#fbf514" fill-opacity="0.6"/>
<circle cx="780.9" cy="644.1" r="3.5" fill="#2536ee" fill-opacity="0.62"/>
<circle cx="769.4" cy="682.7" r="3.5" fill="#8e2f9e" fill-opacity="0.55"/>
<circle cx="772.6" cy="612.8" r="3.5" fill="#8e2f9e" fill-opacity="0.55"/>
<circle cx="892.6" cy="631.0" r="3.5" fill="#fbf514" fill-opacity="0.6"/>
<circle cx="867.6" cy="631.7" r="3.5" fill="#fbf514" fill-opacity="0.6"/>
<circle cx="757.9" cy="620.9" r="3.5" fill="#8e2f9e" fill-opacity="0.55"/>
<circle cx="863.8" cy="666.4" r="3.5" fill="#fbf514" fill-opacity="0.6"/>
<circle cx="738.2" cy="675.7" r="3.5" fill="#2536ee" fill-opacity="0.62"/>
<circle cx="759.4" cy="673.8" r="3.5" fill="#8e2f9e" fill-opacity="0.55"/>
<circle cx="750.4" cy="599.2" r="3.5" fill="#8e2f9e" fill-opacity="0.55"/>
<circle cx="798.1" cy="661.7" r="3.5" fill="#fbf514" fill-opacity="0.6"/>
<circle cx="749.7" cy="612.8" r="3.5" fill="#2536ee" fill-opacity="0.62"/>
<circle cx="842.5" cy="663.0" r="3.5" fill="#fbf514" fill-opacity="0.6"/>
<circle cx="712.7" cy="641.0" r="3.5" fill="#2536ee" fill-opacity="0.62"/>
<circle cx="758.4" cy="667.0" r="3.5" fill="#2536ee" fill-opacity="0.62"/>
<circle cx="831.1" cy="671.0" r="3.5" fill="#fbf514" fill-opacity="0.6"/>
<circle cx="890.8" cy="627.9" r="3.5" fill="#f4a340" fill-opacity="0.62"/>
<circle cx="979.7" cy="606.5" r="3.5" fill="#f4a340" fill-opacity="0.62"/>
<circle cx="747.3" cy="694.5" r="3.5" fill="#2536ee" fill-opacity="0.62"/>
<circle cx="909.5" cy="664.2" r="3.5" fill="#fbf514" fill-opacity="0.6"/>
<circle cx="721.9" cy="659.1" r="3.5" fill="#2536ee" fill-opacity="0.62"/>
<circle cx="730.1" cy="658.1" r="3.5" fill="#2536ee" fill-opacity="0.62"/>
<circle cx="846.4" cy="648.3" r="3.5" fill="#fbf514" fill-opacity="0.6"/>
<circle cx="760.1" cy="644.0" r="3.5" fill="#8e2f9e" fill-opacity="0.55"/>
<circle cx="730.7" cy="649.2" r="3.5" fill="#2536ee" fill-opacity="0.62"/>
<circle cx="852.1" cy="642.3" r="3.5" fill="#fbf514" fill-opacity="0.6"/>
<circle cx="752.5" cy="645.6" r="3.5" fill="#2536ee" fill-opacity="0.62"/>
<circle cx="827.8" cy="665.3" r="3.5" fill="#fbf514" fill-opacity="0.6"/>
<circle cx="738.5" cy="688.0" r="3.5" fill="#2536ee" fill-opacity="0.62"/>
<circle cx="767.9" cy="633.8" r="3.5" fill="#8e2f9e" fill-opacity="0.55"/>
<circle cx="719.7" cy="641.5" r="3.5" fill="#2536ee" fill-opacity="0.62"/>
<circle cx="847.9" cy="639.1" r="3.5" fill="#fbf514" fill-opacity="0.6"/>
<circle cx="973.0" cy="587.6" r="3.5" fill="#fbf514" fill-opacity="0.6"/>
<circle cx="722.1" cy="633.6" r="3.5" fill="#2536ee" fill-opacity="0.62"/>
<circle cx="902.5" cy="619.5" r="3.5" fill="#f4a340" fill-opacity="0.62"/>
<circle cx="878.9" cy="648.5" r="3.5" fill="#fbf514" fill-opacity="0.6"/>
<circle cx="753.6" cy="567.9" r="3.5" fill="#8e2f9e" fill-opacity="0.55"/>
<circle cx="744.9" cy="662.8" r="3.5" fill="#2536ee" fill-opacity="0.62"/>
<circle cx="738.2" cy="640.5" r="3.5" fill="#2536ee" fill-opacity="0.62"/>
<circle cx="746.6" cy="697.7" r="3.5" fill="#2536ee" fill-opacity="0.62"/>
<circle cx="797.4" cy="600.9" r="3.5" fill="#8e2f9e" fill-opacity="0.55"/>
<circle cx="727.6" cy="636.2" r="3.5" fill="#8e2f9e" fill-opacity="0.55"/>
<circle cx="872.8" cy="596.4" r="3.5" fill="#fbf514" fill-opacity="0.6"/>
<circle cx="752.0" cy="604.0" r="3.5" fill="#8e2f9e" fill-opacity="0.55"/>
<circle cx="767.0" cy="606.4" r="3.5" fill="#8e2f9e" fill-opacity="0.55"/>
<circle cx="899.2" cy="644.4" r="3.5" fill="#fbf514" fill-opacity="0.6"/>
<circle cx="747.5" cy="628.7" r="3.5" fill="#8e2f9e" fill-opacity="0.55"/>
<circle cx="722.9" cy="643.6" r="3.5" fill="#2536ee" fill-opacity="0.62"/>
<circle cx="863.0" cy="613.4" r="3.5" fill="#fbf514" fill-opacity="0.6"/>
<circle cx="755.0" cy="657.5" r="3.5" fill="#2536ee" fill-opacity="0.62"/>
<circle cx="910.9" cy="653.9" r="3.5" fill="#fbf514" fill-opacity="0.6"/>
<circle cx="798.2" cy="583.1" r="3.5" fill="#8e2f9e" fill-opacity="0.55"/>
<circle cx="965.7" cy="600.7" r="3.5" fill="#fbf514" fill-opacity="0.6"/>
<circle cx="749.7" cy="631.9" r="3.5" fill="#2536ee" fill-opacity="0.62"/>
<circle cx="847.2" cy="658.6" r="3.5" fill="#fbf514" fill-opacity="0.6"/>
<circle cx="837.8" cy="633.9" r="3.5" fill="#fbf514" fill-opacity="0.6"/>
<circle cx="883.3" cy="645.8" r="3.5" fill="#fbf514" fill-opacity="0.6"/>
<circle cx="722.5" cy="642.0" r="3.5" fill="#2536ee" fill-opacity="0.62"/>
<circle cx="885.8" cy="651.6" r="3.5" fill="#fbf514" fill-opacity="0.6"/>
<circle cx="942.1" cy="623.9" r="3.5" fill="#fbf514" fill-opacity="0.6"/>
<circle cx="828.4" cy="654.8" r="3.5" fill="#fbf514" fill-opacity="0.6"/>
<circle cx="929.1" cy="640.8" r="3.5" fill="#fbf514" fill-opacity="0.6"/>
<circle cx="759.4" cy="603.7" r="3.5" fill="#8e2f9e" fill-opacity="0.55"/>
<circle cx="878.3" cy="626.2" r="3.5" fill="#fbf514" fill-opacity="0.6"/>
<circle cx="851.1" cy="648.3" r="3.5" fill="#fbf514" fill-opacity="0.6"/>
<circle cx="758.6" cy="659.7" r="3.5" fill="#2536ee" fill-opacity="0.62"/>
<circle cx="967.4" cy="555.5" r="3.5" fill="#fbf514" fill-opacity="0.6"/>
<circle cx="740.7" cy="637.1" r="3.5" fill="#2536ee" fill-opacity="0.62"/>
<circle cx="964.0" cy="638.4" r="3.5" fill="#fbf514" fill-opacity="0.6"/>
<circle cx="736.0" cy="589.0" r="3.5" fill="#3f7d2c" fill-opacity="0.7"/>
<circle cx="760.5" cy="557.5" r="3.5" fill="#3f7d2c" fill-opacity="0.7"/>
<circle cx="721.0" cy="582.0" r="3.5" fill="#3f7d2c" fill-opacity="0.7"/>
<circle cx="784.0" cy="578.0" r="3.5" fill="#3f7d2c" fill-opacity="0.7"/>
<circle cx="733.0" cy="584.5" r="3.5" fill="#3f7d2c" fill-opacity="0.7"/>
<circle cx="828.0" cy="548.5" r="3.5" fill="#3f7d2c" fill-opacity="0.7"/>
<circle cx="746.0" cy="553.5" r="3.5" fill="#3f7d2c" fill-opacity="0.7"/>
<circle cx="965.9" cy="494.5" r="3.5" fill="#ea4444" fill-opacity="0.68"/>
<circle cx="1002.4" cy="508.7" r="3.5" fill="#ea4444" fill-opacity="0.68"/>
<circle cx="976.1" cy="434.4" r="3.5" fill="#ea4444" fill-opacity="0.68"/>
<circle cx="988.2" cy="534.2" r="3.5" fill="#ea4444" fill-opacity="0.68"/>
<circle cx="924.5" cy="561.9" r="3.5" fill="#ea4444" fill-opacity="0.68"/>
<circle cx="980.0" cy="570.0" r="3.5" fill="#ea4444" fill-opacity="0.68"/>
<circle cx="964.0" cy="528.3" r="3.5" fill="#ea4444" fill-opacity="0.68"/>
<circle cx="945.2" cy="578.5" r="3.5" fill="#ea4444" fill-opacity="0.68"/>
<circle cx="981.5" cy="560.3" r="3.5" fill="#ea4444" fill-opacity="0.68"/>
<circle cx="961.3" cy="449.7" r="3.5" fill="#ea4444" fill-opacity="0.68"/>
<circle cx="935.8" cy="552.5" r="3.5" fill="#ea4444" fill-opacity="0.68"/>
<circle cx="897.7" cy="578.3" r="3.5" fill="#ea4444" fill-opacity="0.68"/>
<circle cx="941.2" cy="555.2" r="3.5" fill="#ea4444" fill-opacity="0.68"/>
<circle cx="799.5" cy="631.0" r="3.5" fill="#ea4444" fill-opacity="0.68"/>
<circle cx="874.0" cy="577.0" r="3.5" fill="#ea4444" fill-opacity="0.68"/>
<circle cx="1000.0" cy="630.0" r="3.5" fill="#ea4444" fill-opacity="0.68"/>
<circle cx="927.8" cy="585.2" r="3.5" fill="#ea4444" fill-opacity="0.68"/>
<circle cx="965.9" cy="569.7" r="3.5" fill="#ea4444" fill-opacity="0.68"/>
<circle cx="955.1" cy="524.3" r="3.5" fill="#ea4444" fill-opacity="0.68"/>
<circle cx="989.5" cy="537.4" r="3.5" fill="#ea4444" fill-opacity="0.68"/>
<circle cx="964.0" cy="492.6" r="3.5" fill="#ea4444" fill-opacity="0.68"/>
<circle cx="978.0" cy="538.3" r="3.5" fill="#1c1c1c" fill-opacity="0.55"/>
<circle cx="961.3" cy="537.4" r="3.5" fill="#1c1c1c" fill-opacity="0.6"/>
<circle cx="977.4" cy="569.7" r="3.5" fill="#1c1c1c" fill-opacity="0.55"/>
<circle cx="784.0" cy="579.0" r="3.5" fill="#1c1c1c" fill-opacity="0.5"/>
<circle cx="983.3" cy="543.6" r="3.5" fill="#1c1c1c" fill-opacity="0.55"/>
<circle cx="969.9" cy="525.1" r="3.5" fill="#1c1c1c" fill-opacity="0.55"/>
<circle cx="971.2" cy="550.0" r="3.5" fill="#1c1c1c" fill-opacity="0.9"/>
<circle cx="972.1" cy="550.9" r="3.5" fill="#1c1c1c" fill-opacity="0.95"/>
<circle cx="976.1" cy="533.7" r="3.5" fill="#1c1c1c" fill-opacity="0.55"/>
<circle cx="973.0" cy="552.0" r="3.5" fill="#1c1c1c" fill-opacity="0.9"/>
</g>
<rect x="601" y="540" width="1.3" height="168.3" fill="#555"/>
<rect x="597" y="707.1" width="479.3" height="1.3" fill="#555"/>
<rect x="1075.2" y="707.1" width="1.2" height="5" fill="#555"/>
<text x="594.9" y="711.9" text-anchor="end" font-family="Liberation Sans, sans-serif" font-size="11.5" fill="#222">$0M</text>
<text x="594.9" y="688.5" text-anchor="end" font-family="Liberation Sans, sans-serif" font-size="11.5" fill="#222">$0.2M</text>
<text x="594.9" y="665.1" text-anchor="end" font-family="Liberation Sans, sans-serif" font-size="11.5" fill="#222">$0.4M</text>
<text x="594.9" y="641.6" text-anchor="end" font-family="Liberation Sans, sans-serif" font-size="11.5" fill="#222">$0.6M</text>
<text x="594.9" y="618.2" text-anchor="end" font-family="Liberation Sans, sans-serif" font-size="11.5" fill="#222">$0.8M</text>
<text x="594.9" y="594.8" text-anchor="end" font-family="Liberation Sans, sans-serif" font-size="11.5" fill="#222">$1M</text>
<text x="594.9" y="571.4" text-anchor="end" font-family="Liberation Sans, sans-serif" font-size="11.5" fill="#222">$1.2M</text>
<text x="594.9" y="548.0" text-anchor="end" font-family="Liberation Sans, sans-serif" font-size="11.5" fill="#222">$1.4M</text>
<text x="601.6" y="722" text-anchor="middle" font-family="Liberation Sans, sans-serif" font-size="11.5" fill="#222">$0k</text>
<text x="686.0" y="722" text-anchor="middle" font-family="Liberation Sans, sans-serif" font-size="11.5" fill="#222">$50k</text>
<text x="770.4" y="722" text-anchor="middle" font-family="Liberation Sans, sans-serif" font-size="11.5" fill="#222">$100k</text>
<text x="854.9" y="722" text-anchor="middle" font-family="Liberation Sans, sans-serif" font-size="11.5" fill="#222">$150k</text>
<text x="939.3" y="722" text-anchor="middle" font-family="Liberation Sans, sans-serif" font-size="11.5" fill="#222">$200k</text>
<text x="1023.7" y="722" text-anchor="middle" font-family="Liberation Sans, sans-serif" font-size="11.5" fill="#222">$250k</text>
<text x="1090.2" y="703.2" text-anchor="end" font-family="Liberation Sans, sans-serif" font-size="11.6" fill="#111">Total College Cost (2008-2012)</text>
<text transform="translate(615,556.5) rotate(-90)" text-anchor="start" font-family="Liberation Sans, sans-serif" font-size="11" font-weight="bold" fill="#111">30 Year ROI</text>
<rect x="1009.6" y="434.4" width="7" height="7" fill="#111"/>
<text x="1021.2" y="440.5" font-family="Liberation Sans, sans-serif" font-size="8.85" fill="#111">Ivy League</text>
<rect x="1009.6" y="452.4" width="7" height="7" fill="#e84040"/>
<text x="1021.2" y="458.5" font-family="Liberation Sans, sans-serif" font-size="8.85" fill="#e03030">Private Engineering</text>
<rect x="1009.6" y="470.4" width="7" height="7" fill="#ef9a3c"/>
<text x="1021.2" y="476.5" font-family="Liberation Sans, sans-serif" font-size="8.85" fill="#e8902a">Private Research</text>
<rect x="1009.6" y="488.4" width="7" height="7" fill="#f7e12a"/>
<text x="1021.2" y="494.5" font-family="Liberation Sans, sans-serif" font-size="8.85" fill="#f2d230">Private Schools</text>
<rect x="1009.6" y="506.4" width="7" height="7" fill="#3a6f1e"/>
<text x="1021.2" y="512.5" font-family="Liberation Sans, sans-serif" font-size="8.85" fill="#2d6a1a">State Engineering</text>
<rect x="1009.6" y="524.4" width="7" height="7" fill="#2a48f5"/>
<text x="1021.2" y="530.5" font-family="Liberation Sans, sans-serif" font-size="8.85" fill="#2a3cf0">State Schools</text>
<rect x="1009.6" y="542.4" width="7" height="7" fill="#8e2f9e"/>
<text x="1021.2" y="548.5" font-family="Liberation Sans, sans-serif" font-size="8.85" fill="#7a2a8a">State Research</text></g>
<g id="sf"><defs><clipPath id="mapclip"><rect x="319" y="218" width="460" height="316"/></clipPath></defs>
<rect x="305.5" y="206" width="487" height="341.6" fill="#fff"/>
<g clip-path="url(#mapclip)">
<rect x="319" y="218" width="460" height="316" fill="#abddfc"/>
<polygon points="319.1,218.1 402.4,218.1 402.4,226.5 398.6,227.3 394.8,225 390.2,226.5 382.5,225 377.9,227.3 374.1,234.2 367.2,237.2 361,242.6 357.9,238.8 351.8,239.5 348,234.2 338,230.3 325.7,228.8 319.1,229.6" fill="#f6f6f4"/>
<g fill="none" stroke="#9a8ff2" stroke-width="1.1" stroke-dasharray="4 3" opacity="0.8">
<path d="M500,219 L543,264.7"/>
<path d="M528.2,227.1 L563.1,268.7"/>
<path d="M544.3,218.4 L556.4,241.8 L564.4,260.6 L587.2,282.1 L592.6,292.9"/>
<path d="M547,218.4 L559,241 L567,259 L589,280.5 L594.5,291"/>
<path d="M591.3,218.4 L596,241.8 L598,268.7 L594,292.9 L585.9,303.6"/>
<path d="M594,218.4 L598.5,241.8 L600.3,268.7 L596.2,293"/>
<path d="M667.6,346 L661.4,399.3 L671.7,460.7 L673.7,534"/>
<path d="M665.7,346 L722.9,378.8 L779,406"/>
<path d="M600,356.3 L624.6,346 L640,343"/>
<path d="M594,306 L610,312 L622,318"/>
<path d="M673,346 L700,362 L730,372"/>
<path d="M600,318 L606,322"/>
</g>
<ellipse cx="521.5" cy="225.2" rx="5.5" ry="2" transform="rotate(33 521.5 225.2)" fill="#f6f6f4"/>
<polygon points="614.8,218 637,218 644.5,230 636,236 622,236 614.8,226" fill="#f4f4f2"/>
<circle cx="628" cy="224" r="1.6" fill="#cdeccd"/>
<polygon points="744,228 752,222.5 758,224 764,229 779,223 779,312 762,312 762,300 766,290 764,260 766,240 760,232" fill="#f1f1ef"/>
<polygon points="762,322 779,322 779,346.5 762,346.5" fill="#f4f4f2"/>
<polygon points="739,345 779,347 779,352 752,351 748,358 744,357" fill="#e9e9e9"/>
<path d="M744,230.8 Q762,231 778.6,225.9" stroke="#b8383a" stroke-width="1.4" fill="none"/>
<g stroke="#1a1a1a" stroke-width="1.7" fill="none"><path d="M779,252 Q766,262 766,280 Q768,296 779,302"/><path d="M779,256 Q769,265 769,280 Q771,293 779,298"/><path d="M779,262 Q772,270 772,280 Q773,289 779,294"/><path d="M764,268 L775,300"/><path d="M765,276 L777,304"/><path d="M768,232 L779,236"/><path d="M766,250 L779,246"/></g>
<path d="M779,258 Q772,268 774,278 L779,268" stroke="#b8383a" stroke-width="0.9" fill="none"/>
<path d="M762,316 Q770,319 779,318" stroke="#8f8ff0" stroke-width="1.6" fill="none"/>
<rect x="774.5" y="333" width="6" height="7.5" fill="none" stroke="#b8383a" stroke-width="0.9"/>
<line x1="403.2" y1="218" x2="408.3" y2="267.4" stroke="#b9b9b9" stroke-width="2.2"/>
<line x1="585.9" y1="307.8" x2="620" y2="288.6" stroke="#3c3c3c" stroke-width="1"/>
<line x1="595.8" y1="322.7" x2="620" y2="296.6" stroke="#c0443f" stroke-width="1.2"/>
<g stroke="#eef7fc" stroke-width="1" opacity="0.95">
<line x1="532" y1="272.3" x2="531.3" y2="268.2"/>
<line x1="536" y1="272" x2="535.6" y2="267.8"/>
<line x1="540" y1="272" x2="540.0" y2="267.8"/>
<line x1="544" y1="272.2" x2="544.4" y2="268.0"/>
<line x1="548" y1="272.8" x2="548.7" y2="268.7"/>
<line x1="552" y1="274" x2="553.3" y2="270.0"/>
<line x1="556" y1="276" x2="558.0" y2="272.3"/>
<line x1="560" y1="278.5" x2="562.6" y2="275.2"/>
<line x1="564" y1="282" x2="567.1" y2="279.2"/>
<line x1="567.5" y1="286" x2="570.9" y2="283.6"/>
<line x1="571" y1="291" x2="574.6" y2="288.8"/>
<line x1="574" y1="296" x2="577.6" y2="293.9"/>
<line x1="577.5" y1="300.5" x2="581.1" y2="298.4"/>
<line x1="581" y1="305" x2="584.6" y2="302.8"/>
<line x1="585" y1="310" x2="588.6" y2="307.8"/>
<line x1="595" y1="334" x2="599.2" y2="334.0"/>
<line x1="595" y1="340" x2="599.2" y2="340.0"/>
<line x1="594.5" y1="347" x2="598.7" y2="347.0"/>
<line x1="597" y1="366" x2="601.2" y2="366.0"/>
<line x1="598" y1="372" x2="602.2" y2="372.0"/>
<line x1="598.5" y1="378" x2="602.7" y2="378.0"/>
</g>
<polygon points="407.8,267.9 410.9,268.7 411.6,271.8 422.4,273.3 425.4,275.6 436.2,282.5 453.1,279.4 467.6,277.9 483,276.9 504.1,273 511.8,274 515.6,269.2 523.3,271.1 525.1,275.2 532.2,272.5 546.6,272.5 559.1,277.9 568.1,286.9 577,299.4 586,310.2 594,322.7 594.9,331.6 593.1,353.1 597.6,374.6 598.5,381.8 600.1,388.9 609,397.8 607.9,413.4 604.6,420.1 611.2,423.4 620.1,423.4 620.1,431.2 620.1,436.8 626.8,441.2 634.6,451.2 633.5,455.7 617.9,460.1 621.2,471.2 626.8,473.5 642.4,477.9 655.7,483.5 659.1,485.7 658,492.4 644.6,495.7 653.5,509 642.4,515.7 631.3,511.3 620.1,504.6 615.7,497.9 609,502.4 620.1,515.7 615.7,526.9 611.2,534 353.5,534 345.6,468.6 339.7,419.4 337,390.3 336.1,370.6 333.4,354.5 330.7,347.3 337.9,336.6 350.4,326.7 363,325.8 373.7,328.5 380.9,325.8 391.7,322.4 396.3,313.2 403.2,291.7 407,276.4" fill="#f4c882" stroke="#fff" stroke-width="1.2"/>
<polygon points="407.8,267.9 410.9,268.7 411.6,271.8 422.4,273.3 425.4,275.6 436.2,282.5 453.1,279.4 467.6,277.9 471.3,279 471.8,290 472.2,307.9 471.6,318.6 439.1,324.9 432.8,325.8 431.9,328.5 405.9,330.3 395.2,324 391.7,322.4 396.3,313.2 403.2,291.7 407,276.4" fill="#e6c576" stroke="#fff" stroke-width="1.3" stroke-linejoin="round"/>
<polygon points="330.7,347.3 337.9,336.6 350.4,326.7 363,325.8 373.7,328.5 380.9,325.8 391.7,322.4 395.2,324 405.9,330.3 406.8,367.9 336.1,371.5 333.4,354.5" fill="#9dba80" stroke="#fff" stroke-width="1.3" stroke-linejoin="round"/>
<polygon points="337,391.2 409.6,387.9 411.6,432.2 424.4,433.2 424.4,458.8 379.1,461.7 379.1,470.6 345.6,467.6 339.7,419.4" fill="#8ed499" stroke="#fff" stroke-width="1.3" stroke-linejoin="round"/>
<polygon points="410.6,388.3 459.8,385.9 461.8,404.6 475.6,402.7 483.5,411.5 479.5,425.3 477.6,437.1 493.3,448.9 493.3,456.8 487.4,460.8 487.4,468.6 481.5,469.6 458.9,472.6 459.8,498.2 421.4,479.5 421.4,466.7 424.4,458.8 424.4,433.2 411.6,432.2" fill="#def47f" stroke="#fff" stroke-width="1.3" stroke-linejoin="round"/>
<polygon points="345.6,467.6 379.1,470.6 379.1,461.7 424.4,458.8 421.4,466.7 421.4,479.5 419.5,515.9 422.4,534 353.5,534" fill="#f3f3f1" stroke="#fff" stroke-width="1.3" stroke-linejoin="round"/>
<polygon points="458.9,472.6 483.5,468.6 497.3,474.5 509.1,476.5 533.4,475.7 553.4,469 553.4,449 560.1,432.3 597.9,426.7 604.6,421.5 611.2,423.4 620.1,423.4 620.1,431.2 620.1,436.8 626.8,441.2 634.6,451.2 633.5,455.7 617.9,460.1 621.2,471.2 626.8,473.5 642.4,477.9 655.7,483.5 659.1,485.7 658,492.4 644.6,495.7 653.5,509 642.4,515.7 631.3,511.3 620.1,504.6 615.7,497.9 609,502.4 620.1,515.7 615.7,526.9 611.2,534 453.9,534 457.9,526.7 471.7,506 459.8,498.2" fill="#8ed499" stroke="#fff" stroke-width="1.3" stroke-linejoin="round"/>
<polygon points="518.9,435.4 560.1,432.3 553.4,449 553.4,469 533.4,475.7 509.1,476.5 499.2,473.6 515,460.8 518.9,450.9" fill="#def47f" stroke="#fff" stroke-width="1.3" stroke-linejoin="round"/>
<polygon points="472.5,310.4 519.5,303.3 521.4,319.5 471.5,327.7" fill="#ee8490" stroke="#fff" stroke-width="1.3" stroke-linejoin="round"/>
<polygon points="517,277.9 525.1,276.1 553.7,301.2 548.4,303 519.7,305.7 517,292.2" fill="#ee8490" stroke="#fff" stroke-width="1.3" stroke-linejoin="round"/>
<polygon points="549.3,303 571.6,300.3 578.8,304.8 594,323 566.3,343.3 557.3,335.2 560,320.9 550.2,320" fill="#ee8490" stroke="#fff" stroke-width="1.3" stroke-linejoin="round"/>
<polygon points="521.5,370.3 553.7,335.2 557.3,335.2 566.3,343.3 589.6,320.9 594,323.6 594.9,331.6 593.1,353.1 597.6,374.6 598.5,381.8 560.1,385.5 556.5,378.6 545,375.5" fill="#ee8490" stroke="#fff" stroke-width="1.3" stroke-linejoin="round"/>
<polygon points="336.1,371.5 406.8,367.9 457.9,364.3 458.8,385.8 409.5,388.5 337,391.2" fill="#d4f3dc" stroke="#dcb9c8" stroke-width="1"/>
<polygon points="469.7,534 477,524 485.4,518.9 492,521.5 499.2,525.8 503,531 503.5,534" fill="#f1f1ef"/>
<path d="M620.5,433.8 L586,435.2 L584,433.8" stroke="#abddfc" stroke-width="2.2" fill="none"/>
<path d="M620.5,424 L620.5,431.5 M659.4,485.5 L658.4,492.6" stroke="#333" stroke-width="1.2" fill="none"/>
<ellipse cx="373" cy="372.8" rx="3" ry="1.6" fill="#aad3fb"/>
<ellipse cx="354" cy="374" rx="1.8" ry="2.6" fill="#aad3fb"/>
<ellipse cx="367" cy="382" rx="2" ry="1.3" fill="#aad3fb"/>
<ellipse cx="382" cy="383.5" rx="1.8" ry="1.2" fill="#aad3fb"/>
<ellipse cx="391" cy="385" rx="1.6" ry="1.1" fill="#aad3fb"/>
<ellipse cx="398" cy="382" rx="2.2" ry="1.4" fill="#aad3fb"/>
<ellipse cx="399" cy="373.5" rx="2.2" ry="1.8" fill="#aad3fb"/>
<ellipse cx="412.5" cy="378.5" rx="5.5" ry="3" fill="#aad3fb"/>
<ellipse cx="360" cy="387" rx="1.8" ry="1" fill="#aad3fb"/>
<ellipse cx="423" cy="381" rx="1.6" ry="1.2" fill="#aad3fb"/>
<ellipse cx="427" cy="370.5" rx="1.2" ry="1" fill="#aad3fb"/>
<path d="M399,371 L404,372 L408,386" stroke="#c4c4c4" stroke-width="1.6" fill="none"/>
<path d="M338.2,373 L338.8,390.5" stroke="#b8405a" stroke-width="1.1" fill="none"/>
<path d="M444.5,385.3 Q447,381 451,380 Q455,378 455.5,372.5" stroke="#b03a55" stroke-width="1.2" fill="none"/>
<polygon points="345.6,468 356,474 357,490 366,512 372,534 353.5,534" fill="#d6f2dc"/>
<polygon points="356,476 372,474 388,484 392,500 384,512 386,534 372,534 360,500" fill="#d6f2dc"/>
<polygon points="357,478 366,482 372,490 380,486 388,490 384,496 374,498 382,510 386,524 384,534 378,534 368,510 358,494" fill="#aadcfb"/>
<ellipse cx="384" cy="465.5" rx="3.2" ry="2.4" fill="#aadcfb"/>
<rect x="381" y="461.8" width="40" height="7" fill="#daf3df" opacity="0.6"/>
<g fill="none" stroke="#c6c6c6" stroke-width="1.8"><path d="M347,470 Q349,486 357,494 Q362,500 362,520 L364,534"/><path d="M374,474 Q378,482 386,482 Q394,484 394,494"/><path d="M393,522 L418,522 L420,534"/><path d="M412,462 L413,480"/></g>
<g fill="none" stroke="#b8404e" stroke-width="1.1"><path d="M366,472.5 Q356,478 355,490 Q357,505 366,514 Q376,522 380,534"/><path d="M381,470.8 L419,469.3"/><path d="M393,534 L393,494 Q396,487 402,486 L404,492 L412,494 L412.5,478 L418,478"/><path d="M397,504 L405,512 L410,520 L402,519 L396,516 Z"/><path d="M412,494 L413,508 L417,521"/></g>
<path d="M357,470 l4,-2 l1.5,2 l-3.5,2 z" fill="#222"/>
<path d="M419.6,467 L413,479 L412.5,507 L417.5,515" stroke="#333" stroke-width="1" fill="none"/>
<g fill="none" stroke="#dd9242" stroke-width="0.85" opacity="0.75">
<path d="M408,337 L470,331"/>
<path d="M408,343.5 L445,340.5"/>
<path d="M417,332 L418.5,366.5"/>
<path d="M408,351 L446,348"/>
<path d="M474,333 L520,326"/>
<path d="M474,340 L519,334"/>
<path d="M474,349 L518,343.5"/>
<path d="M474,355 L520,350"/>
<path d="M482,329 L484,357"/>
<path d="M496,327 L498,356"/>
<path d="M508,325 L510,372"/>
<path d="M462,368 L521,361"/>
<path d="M462,373 L515,367"/>
<path d="M462,379 L500,375"/>
<path d="M468,367 L470,400"/>
<path d="M478,390 L478,366"/>
<path d="M525,326 L527,368"/>
<path d="M533,324 L535,358"/>
<path d="M541,323 L543,350"/>
<path d="M524,333 L551,330"/>
<path d="M524,341 L548,338"/>
<path d="M524,349 L541,347.5"/>
<path d="M519.5,386 L520,432"/>
<path d="M527,384 L528,433"/>
<path d="M535,385 L536,433"/>
<path d="M543,386 L543.5,432"/>
<path d="M549,384 L549.5,432"/>
<path d="M517,396 L555,395"/>
<path d="M517,408 L555,407"/>
<path d="M517,420 L559,419"/>
<path d="M562,390 L598,388"/>
<path d="M570,388 L571,430"/>
<path d="M580,388 L584,428"/>
<path d="M563,400 L584,399 L584,412 L566,413"/>
<path d="M590,389 L592,428"/>
<path d="M476,284 L518,279"/>
<path d="M488,278 L490,308"/>
<path d="M502,276 L504,305"/>
<path d="M474,298 L517,292"/>
<path d="M526,282 L548,300"/>
<path d="M530,308 L547,306.5"/>
<path d="M530,313 L547,311.5"/>
<path d="M535,306 L536,319"/>
<path d="M541,281 L541,297 L550,297"/>
<path d="M528,279 L545,278"/>
<path d="M474,345 L520,339"/>
<path d="M474,362 L489,359"/>
<path d="M490,330 L492,357"/>
<path d="M503,326 L505,372"/>
<path d="M515,324 L516,372"/>
<path d="M462,384 L498,379.5"/>
<path d="M494,380 L512,379"/>
<path d="M500,378 L501,410"/>
<path d="M507,380 L508,410"/>
<path d="M476,392 L512,390"/>
<path d="M480,400 L512,398"/>
<path d="M478,408 L512,406"/>
<path d="M485,380 L486,412"/>
<path d="M531,325 L533,360"/>
<path d="M538,323.5 L540,354"/>
<path d="M546,322 L547,346"/>
<path d="M524,329 L551,326"/>
<path d="M524,337 L550,334"/>
<path d="M524,345 L545,343"/>
<path d="M522,356 L534,355"/>
<path d="M482,418 L513,416"/>
<path d="M497,414 L499,450"/>
<path d="M505,413 L507,450"/>
<path d="M497,456 L515,455"/>
<path d="M496,463 L512,458"/>
</g>
<g fill="none" stroke="#cf4253" stroke-width="0.9" opacity="0.85">
<path d="M476,312 L477,326"/>
<path d="M484,311 L485.5,325"/>
<path d="M498,309 L499.5,323"/>
<path d="M474,319 L520,312"/>
<path d="M521,282 L523,304"/>
<path d="M527,282 L529,304"/>
<path d="M534,286 L536,303"/>
<path d="M552,308 L588,304"/>
<path d="M551,314 L590,318"/>
<path d="M556,303 L557,320"/>
<path d="M563,302 L564,336"/>
<path d="M570,302 L571,338"/>
<path d="M577,305 L578,333"/>
<path d="M530,364 L560,336"/>
<path d="M537,369 L568,342"/>
<path d="M544,373 L576,336"/>
<path d="M552,376 L584,330"/>
<path d="M560,378 L590,338"/>
<path d="M532,352 L570,382"/>
<path d="M540,345 L580,380"/>
<path d="M548,338 L592,372"/>
<path d="M566,343 L594,362"/>
<path d="M575,335 L594,350"/>
<path d="M570,383 L572,358 Q574,352 580,350"/>
<path d="M586,383 L586,350"/>
</g>
<path d="M579,385 L578,364 Q578,356 586,350 L590,348" stroke="#8a4a55" stroke-width="1.4" fill="none"/>
<path d="M553.7,335.4 L521.5,370.3 L513.4,377.7 L481,405.5 L452.5,430 L433.3,451.9 L422.4,462.7" stroke="#a8782c" stroke-width="0.9" fill="none" opacity="0.8"/>
<path d="M340.7,400.7 L400.8,396.7 L412,396.5 L459,391.5 L480,384 L500,382" stroke="#6f8a3f" stroke-width="0.9" fill="none" opacity="0.85"/>
<circle cx="508.3" cy="378.8" r="1.3" fill="#e8702a"/>
<circle cx="496" cy="392.2" r="1.3" fill="#e8702a"/>
<circle cx="512.8" cy="382.5" r="1.3" fill="#e8702a"/>
<circle cx="531.5" cy="418.5" r="1.3" fill="#e8702a"/>
<circle cx="568" cy="342.5" r="1.3" fill="#e8702a"/>
<circle cx="577.5" cy="338" r="1.3" fill="#e8702a"/>
<circle cx="586" cy="320" r="1.3" fill="#e8702a"/>
<circle cx="577" cy="329" r="1.3" fill="#e8702a"/>
<circle cx="432.8" cy="452" r="1.3" fill="#e8702a"/>
<circle cx="445.5" cy="433.8" r="1.3" fill="#e8702a"/>
<circle cx="587" cy="403" r="1.3" fill="#e8702a"/>
<g fill="none" stroke="#4f9460" stroke-width="0.9" opacity="0.8">
<path d="M341.7,421 L401.7,417.4 L401,390"/>
<path d="M350.5,449.9 L420.5,446.6 L420.5,452 L424,452"/>
<path d="M348.6,392 L351,466"/>
<path d="M343,422 L343,426 L346,426"/>
<path d="M399,390 L400,417"/>
<path d="M349,459 L351,459"/>
</g>
<path d="M370.2,392 L372.5,469" stroke="#7ac08a" stroke-width="1.6" fill="none"/>
<path d="M411.5,434 L412.5,458" stroke="#7ac08a" stroke-width="1.2" fill="none"/>
<g fill="none" stroke="#7a7a3a" stroke-width="0.8" opacity="0.75"><path d="M361,335 Q364,341 371,343 L374.5,343.5 L375,358 L357,361 L339.5,367.5"/><path d="M339.5,367.5 L339.8,371"/></g>
<g fill="none" stroke="#7fa56e" stroke-width="1.2" opacity="0.9"><path d="M392.5,330 L393.5,368"/><path d="M340,353 L406,349.5"/></g>
<g fill="none" stroke="#deb460" stroke-width="1.3" opacity="0.9"><path d="M411,273 Q408,292 401,312 L399,322"/><path d="M412,275 Q416,283 424,287 L425,325"/><path d="M424,287 Q436,292 447,290 Q458,284 467,283"/></g>
<g fill="none" stroke="#b9a33a" stroke-width="0.8" opacity="0.8"><path d="M431,392 L431.5,430 L436,431"/><path d="M431,392 L459,389.5"/><path d="M424,470 L433,471 Q436,478 446,480 L458,477.5"/><path d="M470,437 Q466,446 459,449 L437,452"/><path d="M521,452 L545,455 L552,455"/><path d="M519,467 L535,465 L552,466"/><path d="M540,434 Q534,448 524,462 L510,476"/></g>
<g fill="none" stroke="#f8fbe8" stroke-width="1.2" opacity="0.9"><path d="M433,421 L441,423 L446,432 L452,437 L470,439 L477.6,437.1"/><path d="M446,432 L455,418 L461.8,404.6"/><path d="M452,437 L464,446 L483,456 L482,466"/><path d="M433,421 L432,433.5 L424.4,433.2"/><path d="M441,423 L438.5,416 L433,421"/></g>
<g fill="none" stroke="#3f8a55" stroke-width="1" opacity="0.85">
<path d="M563,433 Q560,450 566,470 Q574,500 568,534"/>
<path d="M569,433 Q572,460 572,480 Q570,510 562,534"/>
<path d="M584,434 Q582,470 570,510 L566,534"/>
<path d="M556,452 L566,444 L586,452 L584,470"/>
<path d="M556,456 L612,486"/>
<path d="M598,440 L612,452 L626,452"/>
<path d="M586,436 L618,434"/>
<path d="M460,476.5 L500,477"/>
<path d="M460,500 L476,500 Q481,488 495,480 L509,477"/>
<path d="M470,504 L484,518"/>
<path d="M622,476 L644,486"/>
</g>
<g fill="none" stroke="#f3fbf5" stroke-width="1.2" opacity="0.95"><path d="M595,497 L609,503 L606,509"/><path d="M603,495 L617,510 L620,516"/><path d="M640,500 L650,510"/><path d="M636,504 L646,514"/><path d="M632,508 L640,517"/></g>
<path d="M500,476 Q490,486 484,496 L470,506" stroke="#e8c8c8" stroke-width="1.2" fill="none" opacity="0.8"/>
<path d="M553.4,469 Q560,480 566,500 L572,520" stroke="#f3fbf5" stroke-width="1.3" fill="none"/>
<g fill="none" stroke="#fff" stroke-width="1.25" stroke-linejoin="round">
<polyline points="513.2,377.4 492.7,376.5"/>
<polyline points="472.9,397.2 472.2,401 475.8,406.4 481.1,413.5 488.3,413.5 514.3,411.8"/>
<polyline points="471.6,327.5 472.9,360.1"/>
<polyline points="455,345.4 471.6,342.2"/>
<polyline points="456.3,362.7 489.5,357.6 492.7,375.5 487.6,379.3 476.7,389.5 472.9,397.2"/>
<polyline points="432.8,326.7 439.1,324.9 440,330.3 446.2,333 446.2,346.4 470.4,342.8"/>
<polyline points="556.7,380 554.5,404.5 562.3,413.4 560.1,431.2"/>
<polyline points="513.2,377.4 513.8,400 515,432.2 518.9,435.4"/>
<polyline points="483.5,411.5 514,410.5"/>
<polyline points="518,450.5 495.3,451.9 493.3,448.9"/>
<polyline points="521.5,369.7 513.2,377.4"/>
<polyline points="521.5,320.5 524.7,337.7 519,339.7 521.5,369.7"/>
<polyline points="521.8,325 552.2,321.1"/>
<polyline points="343.6,441.1 411,436.9"/>
<polyline points="333.5,350 345.6,348.2 345.6,361.6 337.5,362.5"/>
<polyline points="345.6,348.2 351.3,347.3 377.3,342.8 377.3,339.2 388.9,338.3 388.9,328.5 405.9,330.3"/>
<polyline points="515,460.8 499.2,473.6"/>
<polyline points="495.3,451.9 487.4,460.8"/>
<polyline points="500,521.8 513.8,516.4 557.2,501 565,520"/>
<polyline points="557.2,501 553.4,469"/>
<polyline points="470.5,534 486,517 497,512 500,521.8"/>
<polyline points="461.8,404.6 459.8,385.9"/>
<polyline points="517.5,276.9 517.5,288.4"/>
<polyline points="471.5,282.6 472.5,310.4"/>
<polyline points="549.3,303 519.7,305.7"/>
<polyline points="559.7,317.1 560.5,303"/>
</g>
<text x="463.8" y="355" text-anchor="middle" font-family="Liberation Sans, sans-serif" font-size="10" fill="#6b6b6b" fill-opacity="0.5">S</text>
<text x="476.3" y="355" text-anchor="middle" font-family="Liberation Sans, sans-serif" font-size="10" fill="#6b6b6b" fill-opacity="0.5">A</text>
<text x="488.8" y="355" text-anchor="middle" font-family="Liberation Sans, sans-serif" font-size="10" fill="#6b6b6b" fill-opacity="0.5">N</text>
<text x="505.4" y="355" text-anchor="middle" font-family="Liberation Sans, sans-serif" font-size="10" fill="#6b6b6b" fill-opacity="0.5">F</text>
<text x="515.8" y="355" text-anchor="middle" font-family="Liberation Sans, sans-serif" font-size="10" fill="#6b6b6b" fill-opacity="0.5">R</text>
<text x="526.9" y="355" text-anchor="middle" font-family="Liberation Sans, sans-serif" font-size="10" fill="#6b6b6b" fill-opacity="0.5">A</text>
<text x="538.5" y="355" text-anchor="middle" font-family="Liberation Sans, sans-serif" font-size="10" fill="#6b6b6b" fill-opacity="0.5">N</text>
<text x="550.2" y="355" text-anchor="middle" font-family="Liberation Sans, sans-serif" font-size="10" fill="#6b6b6b" fill-opacity="0.5">C</text>
<text x="561" y="355" text-anchor="middle" font-family="Liberation Sans, sans-serif" font-size="10" fill="#6b6b6b" fill-opacity="0.5">I</text>
<text x="569" y="355" text-anchor="middle" font-family="Liberation Sans, sans-serif" font-size="10" fill="#6b6b6b" fill-opacity="0.5">S</text>
<text x="580.6" y="355" text-anchor="middle" font-family="Liberation Sans, sans-serif" font-size="10" fill="#6b6b6b" fill-opacity="0.5">C</text>
<text x="593.5" y="355" text-anchor="middle" font-family="Liberation Sans, sans-serif" font-size="10" fill="#6b6b6b" fill-opacity="0.5">O</text>
<text x="667.3" y="495.9" font-family="Liberation Sans, sans-serif" font-size="8"><tspan fill="#777">© </tspan><tspan fill="#2f7fbf">OpenStreetMap</tspan><tspan fill="#555"> contributors</tspan></text>
</g>
<rect x="619" y="232.2" width="146.2" height="110.8" rx="4.5" fill="#000" opacity="0.18"/>
<rect x="619.8" y="232.8" width="144.6" height="109.4" rx="4" fill="#fff"/>
<text x="691.8" y="254.3" text-anchor="middle" font-family="Liberation Sans, sans-serif" font-size="12.9" font-weight="bold" fill="#3a4256">SF Rent Prices</text>
<text x="634.6" y="275.6" font-family="Liberation Sans, sans-serif" font-size="8.6" fill="#999">$</text>
<text x="749.8" y="275.6" text-anchor="end" font-family="Liberation Sans, sans-serif" font-size="8.6" fill="#999">$$$</text>
<rect x="634.50" y="283.2" width="17.8" height="4.5" fill="#5cb122"/>
<rect x="653.15" y="283.2" width="17.8" height="4.5" fill="#2f6a00"/>
<rect x="671.80" y="283.2" width="17.8" height="4.5" fill="#d6de2a"/>
<rect x="690.45" y="283.2" width="17.8" height="4.5" fill="#f29a30"/>
<rect x="709.10" y="283.2" width="17.8" height="4.5" fill="#e2402f"/>
<rect x="727.75" y="283.2" width="17.8" height="4.5" fill="#e2402f"/>
<text x="634.8" y="311" font-family="Liberation Sans, sans-serif" font-size="9.35" fill="#888">Mouse over for median 1</text>
<text x="634.8" y="324" font-family="Liberation Sans, sans-serif" font-size="9.35" fill="#888">bedroom price.</text></g>
</svg>
</body></html>
